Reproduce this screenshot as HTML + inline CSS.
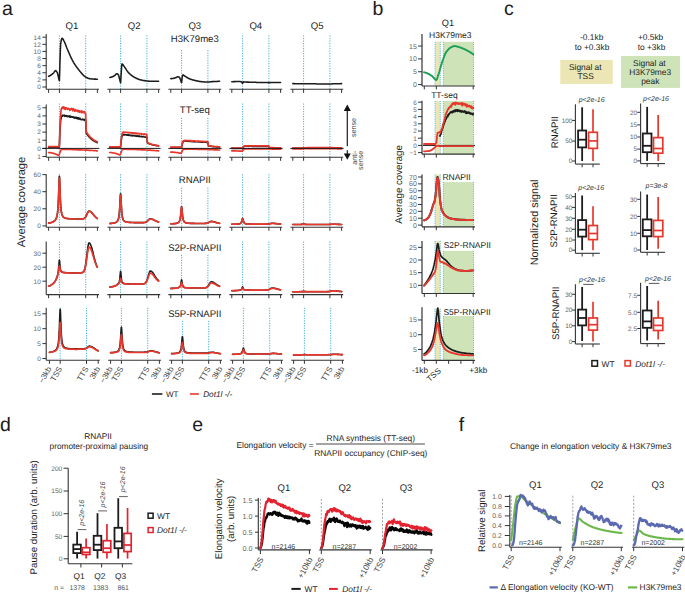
<!DOCTYPE html>
<html><head><meta charset="utf-8"><style>
html,body{margin:0;padding:0;background:#fff;width:685px;height:592px;overflow:hidden}
svg{display:block}
text{font-family:"Liberation Sans", sans-serif;text-rendering:geometricPrecision}
</style></head><body>
<svg width="685" height="592" viewBox="0 0 685 592" font-family='"Liberation Sans", sans-serif'>
<rect width="685" height="592" fill="#fff"/>
<text x="2" y="14.5" font-size="19.5" fill="#1c1c1c">a</text>
<text x="72" y="28.8" font-size="9.6" fill="#1c1c1c" text-anchor="middle">Q1</text>
<text x="134.2" y="28.8" font-size="9.6" fill="#1c1c1c" text-anchor="middle">Q2</text>
<text x="194.8" y="28.8" font-size="9.6" fill="#1c1c1c" text-anchor="middle">Q3</text>
<text x="255.8" y="28.8" font-size="9.6" fill="#1c1c1c" text-anchor="middle">Q4</text>
<text x="317.1" y="28.8" font-size="9.6" fill="#1c1c1c" text-anchor="middle">Q5</text>
<line x1="46.2" y1="34" x2="46.2" y2="89.3" stroke="#333333" stroke-width="1.1"/>
<line x1="42.4" y1="87" x2="46.2" y2="87" stroke="#333333" stroke-width="1"/>
<text x="40.8" y="89.3" font-size="6.5" fill="#666666" text-anchor="end">0</text>
<line x1="42.4" y1="79.89" x2="46.2" y2="79.89" stroke="#333333" stroke-width="1"/>
<text x="40.8" y="82.19" font-size="6.5" fill="#666666" text-anchor="end">2</text>
<line x1="42.4" y1="72.77" x2="46.2" y2="72.77" stroke="#333333" stroke-width="1"/>
<text x="40.8" y="75.07" font-size="6.5" fill="#666666" text-anchor="end">4</text>
<line x1="42.4" y1="65.66" x2="46.2" y2="65.66" stroke="#333333" stroke-width="1"/>
<text x="40.8" y="67.96" font-size="6.5" fill="#666666" text-anchor="end">6</text>
<line x1="42.4" y1="58.54" x2="46.2" y2="58.54" stroke="#333333" stroke-width="1"/>
<text x="40.8" y="60.84" font-size="6.5" fill="#666666" text-anchor="end">8</text>
<line x1="42.4" y1="51.43" x2="46.2" y2="51.43" stroke="#333333" stroke-width="1"/>
<text x="40.8" y="53.73" font-size="6.5" fill="#666666" text-anchor="end">10</text>
<line x1="42.4" y1="44.32" x2="46.2" y2="44.32" stroke="#333333" stroke-width="1"/>
<text x="40.8" y="46.62" font-size="6.5" fill="#666666" text-anchor="end">12</text>
<line x1="42.4" y1="37.2" x2="46.2" y2="37.2" stroke="#333333" stroke-width="1"/>
<text x="40.8" y="39.5" font-size="6.5" fill="#666666" text-anchor="end">14</text>
<line x1="59.4" y1="35.5" x2="59.4" y2="89.3" stroke="#2ca8d2" stroke-width="0.9" stroke-dasharray="1.2 1.3"/>
<line x1="85.7" y1="35.5" x2="85.7" y2="89.3" stroke="#2ca8d2" stroke-width="0.9" stroke-dasharray="1.2 1.3"/>
<line x1="46.2" y1="89.3" x2="99" y2="89.3" stroke="#333333" stroke-width="1.1"/>
<line x1="48.6" y1="89.3" x2="48.6" y2="92.9" stroke="#333333" stroke-width="1"/>
<line x1="59.4" y1="89.3" x2="59.4" y2="92.9" stroke="#333333" stroke-width="1"/>
<line x1="85.7" y1="89.3" x2="85.7" y2="92.9" stroke="#333333" stroke-width="1"/>
<line x1="97.4" y1="89.3" x2="97.4" y2="92.9" stroke="#333333" stroke-width="1"/>
<line x1="120.6" y1="35.5" x2="120.6" y2="89.3" stroke="#2ca8d2" stroke-width="0.9" stroke-dasharray="1.2 1.3"/>
<line x1="146.9" y1="35.5" x2="146.9" y2="89.3" stroke="#2ca8d2" stroke-width="0.9" stroke-dasharray="1.2 1.3"/>
<line x1="107.4" y1="89.3" x2="160.2" y2="89.3" stroke="#333333" stroke-width="1.1"/>
<line x1="109.8" y1="89.3" x2="109.8" y2="92.9" stroke="#333333" stroke-width="1"/>
<line x1="120.6" y1="89.3" x2="120.6" y2="92.9" stroke="#333333" stroke-width="1"/>
<line x1="146.9" y1="89.3" x2="146.9" y2="92.9" stroke="#333333" stroke-width="1"/>
<line x1="158.6" y1="89.3" x2="158.6" y2="92.9" stroke="#333333" stroke-width="1"/>
<line x1="181.6" y1="50.1" x2="181.6" y2="89.3" stroke="#2ca8d2" stroke-width="0.9" stroke-dasharray="1.2 1.3"/>
<line x1="207.9" y1="50.1" x2="207.9" y2="89.3" stroke="#2ca8d2" stroke-width="0.9" stroke-dasharray="1.2 1.3"/>
<line x1="168.4" y1="89.3" x2="221.2" y2="89.3" stroke="#333333" stroke-width="1.1"/>
<line x1="170.8" y1="89.3" x2="170.8" y2="92.9" stroke="#333333" stroke-width="1"/>
<line x1="181.6" y1="89.3" x2="181.6" y2="92.9" stroke="#333333" stroke-width="1"/>
<line x1="207.9" y1="89.3" x2="207.9" y2="92.9" stroke="#333333" stroke-width="1"/>
<line x1="219.6" y1="89.3" x2="219.6" y2="92.9" stroke="#333333" stroke-width="1"/>
<line x1="242.6" y1="35.5" x2="242.6" y2="89.3" stroke="#2ca8d2" stroke-width="0.9" stroke-dasharray="1.2 1.3"/>
<line x1="268.9" y1="35.5" x2="268.9" y2="89.3" stroke="#2ca8d2" stroke-width="0.9" stroke-dasharray="1.2 1.3"/>
<line x1="229.4" y1="89.3" x2="282.2" y2="89.3" stroke="#333333" stroke-width="1.1"/>
<line x1="231.8" y1="89.3" x2="231.8" y2="92.9" stroke="#333333" stroke-width="1"/>
<line x1="242.6" y1="89.3" x2="242.6" y2="92.9" stroke="#333333" stroke-width="1"/>
<line x1="268.9" y1="89.3" x2="268.9" y2="92.9" stroke="#333333" stroke-width="1"/>
<line x1="280.6" y1="89.3" x2="280.6" y2="92.9" stroke="#333333" stroke-width="1"/>
<line x1="303.6" y1="35.5" x2="303.6" y2="89.3" stroke="#2ca8d2" stroke-width="0.9" stroke-dasharray="1.2 1.3"/>
<line x1="329.9" y1="35.5" x2="329.9" y2="89.3" stroke="#2ca8d2" stroke-width="0.9" stroke-dasharray="1.2 1.3"/>
<line x1="290.4" y1="89.3" x2="343.2" y2="89.3" stroke="#333333" stroke-width="1.1"/>
<line x1="292.8" y1="89.3" x2="292.8" y2="92.9" stroke="#333333" stroke-width="1"/>
<line x1="303.6" y1="89.3" x2="303.6" y2="92.9" stroke="#333333" stroke-width="1"/>
<line x1="329.9" y1="89.3" x2="329.9" y2="92.9" stroke="#333333" stroke-width="1"/>
<line x1="341.6" y1="89.3" x2="341.6" y2="92.9" stroke="#333333" stroke-width="1"/>
<text x="194.8" y="42.2" font-size="9.6" fill="#1c1c1c" text-anchor="middle">H3K79me3</text>
<line x1="46.2" y1="104.5" x2="46.2" y2="157.2" stroke="#333333" stroke-width="1.1"/>
<line x1="42.4" y1="156.53" x2="46.2" y2="156.53" stroke="#333333" stroke-width="1"/>
<text x="40.8" y="158.83" font-size="6.5" fill="#666666" text-anchor="end">1</text>
<line x1="42.4" y1="148.4" x2="46.2" y2="148.4" stroke="#333333" stroke-width="1"/>
<text x="40.8" y="150.7" font-size="6.5" fill="#666666" text-anchor="end">0</text>
<line x1="42.4" y1="140.27" x2="46.2" y2="140.27" stroke="#333333" stroke-width="1"/>
<text x="40.8" y="142.57" font-size="6.5" fill="#666666" text-anchor="end">1</text>
<line x1="42.4" y1="132.14" x2="46.2" y2="132.14" stroke="#333333" stroke-width="1"/>
<text x="40.8" y="134.44" font-size="6.5" fill="#666666" text-anchor="end">2</text>
<line x1="42.4" y1="124.01" x2="46.2" y2="124.01" stroke="#333333" stroke-width="1"/>
<text x="40.8" y="126.31" font-size="6.5" fill="#666666" text-anchor="end">3</text>
<line x1="42.4" y1="115.88" x2="46.2" y2="115.88" stroke="#333333" stroke-width="1"/>
<text x="40.8" y="118.18" font-size="6.5" fill="#666666" text-anchor="end">4</text>
<line x1="42.4" y1="107.75" x2="46.2" y2="107.75" stroke="#333333" stroke-width="1"/>
<text x="40.8" y="110.05" font-size="6.5" fill="#666666" text-anchor="end">5</text>
<line x1="59.4" y1="103.5" x2="59.4" y2="157.2" stroke="#2ca8d2" stroke-width="0.9" stroke-dasharray="1.2 1.3"/>
<line x1="85.7" y1="103.5" x2="85.7" y2="157.2" stroke="#2ca8d2" stroke-width="0.9" stroke-dasharray="1.2 1.3"/>
<line x1="46.2" y1="157.2" x2="99" y2="157.2" stroke="#333333" stroke-width="1.1"/>
<line x1="48.6" y1="157.2" x2="48.6" y2="160.8" stroke="#333333" stroke-width="1"/>
<line x1="59.4" y1="157.2" x2="59.4" y2="160.8" stroke="#333333" stroke-width="1"/>
<line x1="85.7" y1="157.2" x2="85.7" y2="160.8" stroke="#333333" stroke-width="1"/>
<line x1="97.4" y1="157.2" x2="97.4" y2="160.8" stroke="#333333" stroke-width="1"/>
<line x1="120.6" y1="103.5" x2="120.6" y2="157.2" stroke="#2ca8d2" stroke-width="0.9" stroke-dasharray="1.2 1.3"/>
<line x1="146.9" y1="103.5" x2="146.9" y2="157.2" stroke="#2ca8d2" stroke-width="0.9" stroke-dasharray="1.2 1.3"/>
<line x1="107.4" y1="157.2" x2="160.2" y2="157.2" stroke="#333333" stroke-width="1.1"/>
<line x1="109.8" y1="157.2" x2="109.8" y2="160.8" stroke="#333333" stroke-width="1"/>
<line x1="120.6" y1="157.2" x2="120.6" y2="160.8" stroke="#333333" stroke-width="1"/>
<line x1="146.9" y1="157.2" x2="146.9" y2="160.8" stroke="#333333" stroke-width="1"/>
<line x1="158.6" y1="157.2" x2="158.6" y2="160.8" stroke="#333333" stroke-width="1"/>
<line x1="181.6" y1="117.8" x2="181.6" y2="157.2" stroke="#2ca8d2" stroke-width="0.9" stroke-dasharray="1.2 1.3"/>
<line x1="207.9" y1="117.8" x2="207.9" y2="157.2" stroke="#2ca8d2" stroke-width="0.9" stroke-dasharray="1.2 1.3"/>
<line x1="168.4" y1="157.2" x2="221.2" y2="157.2" stroke="#333333" stroke-width="1.1"/>
<line x1="170.8" y1="157.2" x2="170.8" y2="160.8" stroke="#333333" stroke-width="1"/>
<line x1="181.6" y1="157.2" x2="181.6" y2="160.8" stroke="#333333" stroke-width="1"/>
<line x1="207.9" y1="157.2" x2="207.9" y2="160.8" stroke="#333333" stroke-width="1"/>
<line x1="219.6" y1="157.2" x2="219.6" y2="160.8" stroke="#333333" stroke-width="1"/>
<line x1="242.6" y1="103.5" x2="242.6" y2="157.2" stroke="#2ca8d2" stroke-width="0.9" stroke-dasharray="1.2 1.3"/>
<line x1="268.9" y1="103.5" x2="268.9" y2="157.2" stroke="#2ca8d2" stroke-width="0.9" stroke-dasharray="1.2 1.3"/>
<line x1="229.4" y1="157.2" x2="282.2" y2="157.2" stroke="#333333" stroke-width="1.1"/>
<line x1="231.8" y1="157.2" x2="231.8" y2="160.8" stroke="#333333" stroke-width="1"/>
<line x1="242.6" y1="157.2" x2="242.6" y2="160.8" stroke="#333333" stroke-width="1"/>
<line x1="268.9" y1="157.2" x2="268.9" y2="160.8" stroke="#333333" stroke-width="1"/>
<line x1="280.6" y1="157.2" x2="280.6" y2="160.8" stroke="#333333" stroke-width="1"/>
<line x1="303.6" y1="103.5" x2="303.6" y2="157.2" stroke="#2ca8d2" stroke-width="0.9" stroke-dasharray="1.2 1.3"/>
<line x1="329.9" y1="103.5" x2="329.9" y2="157.2" stroke="#2ca8d2" stroke-width="0.9" stroke-dasharray="1.2 1.3"/>
<line x1="290.4" y1="157.2" x2="343.2" y2="157.2" stroke="#333333" stroke-width="1.1"/>
<line x1="292.8" y1="157.2" x2="292.8" y2="160.8" stroke="#333333" stroke-width="1"/>
<line x1="303.6" y1="157.2" x2="303.6" y2="160.8" stroke="#333333" stroke-width="1"/>
<line x1="329.9" y1="157.2" x2="329.9" y2="160.8" stroke="#333333" stroke-width="1"/>
<line x1="341.6" y1="157.2" x2="341.6" y2="160.8" stroke="#333333" stroke-width="1"/>
<text x="194.8" y="112.5" font-size="9.6" fill="#1c1c1c" text-anchor="middle">TT-seq</text>
<line x1="46.2" y1="174.2" x2="46.2" y2="227.2" stroke="#333333" stroke-width="1.1"/>
<line x1="42.4" y1="225.9" x2="46.2" y2="225.9" stroke="#333333" stroke-width="1"/>
<text x="40.8" y="228.2" font-size="6.5" fill="#666666" text-anchor="end">0</text>
<line x1="42.4" y1="208.8" x2="46.2" y2="208.8" stroke="#333333" stroke-width="1"/>
<text x="40.8" y="211.1" font-size="6.5" fill="#666666" text-anchor="end">20</text>
<line x1="42.4" y1="191.7" x2="46.2" y2="191.7" stroke="#333333" stroke-width="1"/>
<text x="40.8" y="194" font-size="6.5" fill="#666666" text-anchor="end">40</text>
<line x1="42.4" y1="174.6" x2="46.2" y2="174.6" stroke="#333333" stroke-width="1"/>
<text x="40.8" y="176.9" font-size="6.5" fill="#666666" text-anchor="end">60</text>
<line x1="59.4" y1="174.2" x2="59.4" y2="227.2" stroke="#2ca8d2" stroke-width="0.9" stroke-dasharray="1.2 1.3"/>
<line x1="85.7" y1="174.2" x2="85.7" y2="227.2" stroke="#2ca8d2" stroke-width="0.9" stroke-dasharray="1.2 1.3"/>
<line x1="46.2" y1="227.2" x2="99" y2="227.2" stroke="#333333" stroke-width="1.1"/>
<line x1="48.6" y1="227.2" x2="48.6" y2="230.8" stroke="#333333" stroke-width="1"/>
<line x1="59.4" y1="227.2" x2="59.4" y2="230.8" stroke="#333333" stroke-width="1"/>
<line x1="85.7" y1="227.2" x2="85.7" y2="230.8" stroke="#333333" stroke-width="1"/>
<line x1="97.4" y1="227.2" x2="97.4" y2="230.8" stroke="#333333" stroke-width="1"/>
<line x1="120.6" y1="174.2" x2="120.6" y2="227.2" stroke="#2ca8d2" stroke-width="0.9" stroke-dasharray="1.2 1.3"/>
<line x1="146.9" y1="174.2" x2="146.9" y2="227.2" stroke="#2ca8d2" stroke-width="0.9" stroke-dasharray="1.2 1.3"/>
<line x1="107.4" y1="227.2" x2="160.2" y2="227.2" stroke="#333333" stroke-width="1.1"/>
<line x1="109.8" y1="227.2" x2="109.8" y2="230.8" stroke="#333333" stroke-width="1"/>
<line x1="120.6" y1="227.2" x2="120.6" y2="230.8" stroke="#333333" stroke-width="1"/>
<line x1="146.9" y1="227.2" x2="146.9" y2="230.8" stroke="#333333" stroke-width="1"/>
<line x1="158.6" y1="227.2" x2="158.6" y2="230.8" stroke="#333333" stroke-width="1"/>
<line x1="181.6" y1="187.8" x2="181.6" y2="227.2" stroke="#2ca8d2" stroke-width="0.9" stroke-dasharray="1.2 1.3"/>
<line x1="207.9" y1="187.8" x2="207.9" y2="227.2" stroke="#2ca8d2" stroke-width="0.9" stroke-dasharray="1.2 1.3"/>
<line x1="168.4" y1="227.2" x2="221.2" y2="227.2" stroke="#333333" stroke-width="1.1"/>
<line x1="170.8" y1="227.2" x2="170.8" y2="230.8" stroke="#333333" stroke-width="1"/>
<line x1="181.6" y1="227.2" x2="181.6" y2="230.8" stroke="#333333" stroke-width="1"/>
<line x1="207.9" y1="227.2" x2="207.9" y2="230.8" stroke="#333333" stroke-width="1"/>
<line x1="219.6" y1="227.2" x2="219.6" y2="230.8" stroke="#333333" stroke-width="1"/>
<line x1="242.6" y1="174.2" x2="242.6" y2="227.2" stroke="#2ca8d2" stroke-width="0.9" stroke-dasharray="1.2 1.3"/>
<line x1="268.9" y1="174.2" x2="268.9" y2="227.2" stroke="#2ca8d2" stroke-width="0.9" stroke-dasharray="1.2 1.3"/>
<line x1="229.4" y1="227.2" x2="282.2" y2="227.2" stroke="#333333" stroke-width="1.1"/>
<line x1="231.8" y1="227.2" x2="231.8" y2="230.8" stroke="#333333" stroke-width="1"/>
<line x1="242.6" y1="227.2" x2="242.6" y2="230.8" stroke="#333333" stroke-width="1"/>
<line x1="268.9" y1="227.2" x2="268.9" y2="230.8" stroke="#333333" stroke-width="1"/>
<line x1="280.6" y1="227.2" x2="280.6" y2="230.8" stroke="#333333" stroke-width="1"/>
<line x1="303.6" y1="174.2" x2="303.6" y2="227.2" stroke="#2ca8d2" stroke-width="0.9" stroke-dasharray="1.2 1.3"/>
<line x1="329.9" y1="174.2" x2="329.9" y2="227.2" stroke="#2ca8d2" stroke-width="0.9" stroke-dasharray="1.2 1.3"/>
<line x1="290.4" y1="227.2" x2="343.2" y2="227.2" stroke="#333333" stroke-width="1.1"/>
<line x1="292.8" y1="227.2" x2="292.8" y2="230.8" stroke="#333333" stroke-width="1"/>
<line x1="303.6" y1="227.2" x2="303.6" y2="230.8" stroke="#333333" stroke-width="1"/>
<line x1="329.9" y1="227.2" x2="329.9" y2="230.8" stroke="#333333" stroke-width="1"/>
<line x1="341.6" y1="227.2" x2="341.6" y2="230.8" stroke="#333333" stroke-width="1"/>
<text x="194.8" y="182.8" font-size="9.6" fill="#1c1c1c" text-anchor="middle">RNAPII</text>
<line x1="46.2" y1="241.6" x2="46.2" y2="294.6" stroke="#333333" stroke-width="1.1"/>
<line x1="42.4" y1="281.2" x2="46.2" y2="281.2" stroke="#333333" stroke-width="1"/>
<text x="40.8" y="283.5" font-size="6.5" fill="#666666" text-anchor="end">10</text>
<line x1="42.4" y1="267.2" x2="46.2" y2="267.2" stroke="#333333" stroke-width="1"/>
<text x="40.8" y="269.5" font-size="6.5" fill="#666666" text-anchor="end">20</text>
<line x1="42.4" y1="253.2" x2="46.2" y2="253.2" stroke="#333333" stroke-width="1"/>
<text x="40.8" y="255.5" font-size="6.5" fill="#666666" text-anchor="end">30</text>
<line x1="59.4" y1="241.6" x2="59.4" y2="294.6" stroke="#2ca8d2" stroke-width="0.9" stroke-dasharray="1.2 1.3"/>
<line x1="85.7" y1="241.6" x2="85.7" y2="294.6" stroke="#2ca8d2" stroke-width="0.9" stroke-dasharray="1.2 1.3"/>
<line x1="46.2" y1="294.6" x2="99" y2="294.6" stroke="#333333" stroke-width="1.1"/>
<line x1="48.6" y1="294.6" x2="48.6" y2="298.2" stroke="#333333" stroke-width="1"/>
<line x1="59.4" y1="294.6" x2="59.4" y2="298.2" stroke="#333333" stroke-width="1"/>
<line x1="85.7" y1="294.6" x2="85.7" y2="298.2" stroke="#333333" stroke-width="1"/>
<line x1="97.4" y1="294.6" x2="97.4" y2="298.2" stroke="#333333" stroke-width="1"/>
<line x1="120.6" y1="241.6" x2="120.6" y2="294.6" stroke="#2ca8d2" stroke-width="0.9" stroke-dasharray="1.2 1.3"/>
<line x1="146.9" y1="241.6" x2="146.9" y2="294.6" stroke="#2ca8d2" stroke-width="0.9" stroke-dasharray="1.2 1.3"/>
<line x1="107.4" y1="294.6" x2="160.2" y2="294.6" stroke="#333333" stroke-width="1.1"/>
<line x1="109.8" y1="294.6" x2="109.8" y2="298.2" stroke="#333333" stroke-width="1"/>
<line x1="120.6" y1="294.6" x2="120.6" y2="298.2" stroke="#333333" stroke-width="1"/>
<line x1="146.9" y1="294.6" x2="146.9" y2="298.2" stroke="#333333" stroke-width="1"/>
<line x1="158.6" y1="294.6" x2="158.6" y2="298.2" stroke="#333333" stroke-width="1"/>
<line x1="181.6" y1="254.8" x2="181.6" y2="294.6" stroke="#2ca8d2" stroke-width="0.9" stroke-dasharray="1.2 1.3"/>
<line x1="207.9" y1="254.8" x2="207.9" y2="294.6" stroke="#2ca8d2" stroke-width="0.9" stroke-dasharray="1.2 1.3"/>
<line x1="168.4" y1="294.6" x2="221.2" y2="294.6" stroke="#333333" stroke-width="1.1"/>
<line x1="170.8" y1="294.6" x2="170.8" y2="298.2" stroke="#333333" stroke-width="1"/>
<line x1="181.6" y1="294.6" x2="181.6" y2="298.2" stroke="#333333" stroke-width="1"/>
<line x1="207.9" y1="294.6" x2="207.9" y2="298.2" stroke="#333333" stroke-width="1"/>
<line x1="219.6" y1="294.6" x2="219.6" y2="298.2" stroke="#333333" stroke-width="1"/>
<line x1="242.6" y1="241.6" x2="242.6" y2="294.6" stroke="#2ca8d2" stroke-width="0.9" stroke-dasharray="1.2 1.3"/>
<line x1="268.9" y1="241.6" x2="268.9" y2="294.6" stroke="#2ca8d2" stroke-width="0.9" stroke-dasharray="1.2 1.3"/>
<line x1="229.4" y1="294.6" x2="282.2" y2="294.6" stroke="#333333" stroke-width="1.1"/>
<line x1="231.8" y1="294.6" x2="231.8" y2="298.2" stroke="#333333" stroke-width="1"/>
<line x1="242.6" y1="294.6" x2="242.6" y2="298.2" stroke="#333333" stroke-width="1"/>
<line x1="268.9" y1="294.6" x2="268.9" y2="298.2" stroke="#333333" stroke-width="1"/>
<line x1="280.6" y1="294.6" x2="280.6" y2="298.2" stroke="#333333" stroke-width="1"/>
<line x1="303.6" y1="241.6" x2="303.6" y2="294.6" stroke="#2ca8d2" stroke-width="0.9" stroke-dasharray="1.2 1.3"/>
<line x1="329.9" y1="241.6" x2="329.9" y2="294.6" stroke="#2ca8d2" stroke-width="0.9" stroke-dasharray="1.2 1.3"/>
<line x1="290.4" y1="294.6" x2="343.2" y2="294.6" stroke="#333333" stroke-width="1.1"/>
<line x1="292.8" y1="294.6" x2="292.8" y2="298.2" stroke="#333333" stroke-width="1"/>
<line x1="303.6" y1="294.6" x2="303.6" y2="298.2" stroke="#333333" stroke-width="1"/>
<line x1="329.9" y1="294.6" x2="329.9" y2="298.2" stroke="#333333" stroke-width="1"/>
<line x1="341.6" y1="294.6" x2="341.6" y2="298.2" stroke="#333333" stroke-width="1"/>
<text x="194.8" y="251" font-size="9.6" fill="#1c1c1c" text-anchor="middle">S2P-RNAPII</text>
<line x1="46.2" y1="307.7" x2="46.2" y2="360.2" stroke="#333333" stroke-width="1.1"/>
<line x1="42.4" y1="358.5" x2="46.2" y2="358.5" stroke="#333333" stroke-width="1"/>
<text x="40.8" y="360.8" font-size="6.5" fill="#666666" text-anchor="end">0</text>
<line x1="42.4" y1="343.6" x2="46.2" y2="343.6" stroke="#333333" stroke-width="1"/>
<text x="40.8" y="345.9" font-size="6.5" fill="#666666" text-anchor="end">5</text>
<line x1="42.4" y1="328.7" x2="46.2" y2="328.7" stroke="#333333" stroke-width="1"/>
<text x="40.8" y="331" font-size="6.5" fill="#666666" text-anchor="end">10</text>
<line x1="42.4" y1="313.8" x2="46.2" y2="313.8" stroke="#333333" stroke-width="1"/>
<text x="40.8" y="316.1" font-size="6.5" fill="#666666" text-anchor="end">15</text>
<line x1="60.2" y1="307.7" x2="60.2" y2="360.2" stroke="#2ca8d2" stroke-width="0.9" stroke-dasharray="1.2 1.3"/>
<line x1="86.5" y1="307.7" x2="86.5" y2="360.2" stroke="#2ca8d2" stroke-width="0.9" stroke-dasharray="1.2 1.3"/>
<line x1="46.2" y1="360.2" x2="99.8" y2="360.2" stroke="#333333" stroke-width="1.1"/>
<line x1="49.4" y1="360.2" x2="49.4" y2="363.8" stroke="#333333" stroke-width="1"/>
<line x1="60.2" y1="360.2" x2="60.2" y2="363.8" stroke="#333333" stroke-width="1"/>
<line x1="86.5" y1="360.2" x2="86.5" y2="363.8" stroke="#333333" stroke-width="1"/>
<line x1="98.2" y1="360.2" x2="98.2" y2="363.8" stroke="#333333" stroke-width="1"/>
<line x1="121.4" y1="307.7" x2="121.4" y2="360.2" stroke="#2ca8d2" stroke-width="0.9" stroke-dasharray="1.2 1.3"/>
<line x1="147.7" y1="307.7" x2="147.7" y2="360.2" stroke="#2ca8d2" stroke-width="0.9" stroke-dasharray="1.2 1.3"/>
<line x1="108.2" y1="360.2" x2="161" y2="360.2" stroke="#333333" stroke-width="1.1"/>
<line x1="110.6" y1="360.2" x2="110.6" y2="363.8" stroke="#333333" stroke-width="1"/>
<line x1="121.4" y1="360.2" x2="121.4" y2="363.8" stroke="#333333" stroke-width="1"/>
<line x1="147.7" y1="360.2" x2="147.7" y2="363.8" stroke="#333333" stroke-width="1"/>
<line x1="159.4" y1="360.2" x2="159.4" y2="363.8" stroke="#333333" stroke-width="1"/>
<line x1="182.4" y1="321.1" x2="182.4" y2="360.2" stroke="#2ca8d2" stroke-width="0.9" stroke-dasharray="1.2 1.3"/>
<line x1="208.7" y1="321.1" x2="208.7" y2="360.2" stroke="#2ca8d2" stroke-width="0.9" stroke-dasharray="1.2 1.3"/>
<line x1="169.2" y1="360.2" x2="222" y2="360.2" stroke="#333333" stroke-width="1.1"/>
<line x1="171.6" y1="360.2" x2="171.6" y2="363.8" stroke="#333333" stroke-width="1"/>
<line x1="182.4" y1="360.2" x2="182.4" y2="363.8" stroke="#333333" stroke-width="1"/>
<line x1="208.7" y1="360.2" x2="208.7" y2="363.8" stroke="#333333" stroke-width="1"/>
<line x1="220.4" y1="360.2" x2="220.4" y2="363.8" stroke="#333333" stroke-width="1"/>
<line x1="243.4" y1="307.7" x2="243.4" y2="360.2" stroke="#2ca8d2" stroke-width="0.9" stroke-dasharray="1.2 1.3"/>
<line x1="269.7" y1="307.7" x2="269.7" y2="360.2" stroke="#2ca8d2" stroke-width="0.9" stroke-dasharray="1.2 1.3"/>
<line x1="230.2" y1="360.2" x2="283" y2="360.2" stroke="#333333" stroke-width="1.1"/>
<line x1="232.6" y1="360.2" x2="232.6" y2="363.8" stroke="#333333" stroke-width="1"/>
<line x1="243.4" y1="360.2" x2="243.4" y2="363.8" stroke="#333333" stroke-width="1"/>
<line x1="269.7" y1="360.2" x2="269.7" y2="363.8" stroke="#333333" stroke-width="1"/>
<line x1="281.4" y1="360.2" x2="281.4" y2="363.8" stroke="#333333" stroke-width="1"/>
<line x1="304.4" y1="307.7" x2="304.4" y2="360.2" stroke="#2ca8d2" stroke-width="0.9" stroke-dasharray="1.2 1.3"/>
<line x1="330.7" y1="307.7" x2="330.7" y2="360.2" stroke="#2ca8d2" stroke-width="0.9" stroke-dasharray="1.2 1.3"/>
<line x1="291.2" y1="360.2" x2="344" y2="360.2" stroke="#333333" stroke-width="1.1"/>
<line x1="293.6" y1="360.2" x2="293.6" y2="363.8" stroke="#333333" stroke-width="1"/>
<line x1="304.4" y1="360.2" x2="304.4" y2="363.8" stroke="#333333" stroke-width="1"/>
<line x1="330.7" y1="360.2" x2="330.7" y2="363.8" stroke="#333333" stroke-width="1"/>
<line x1="342.4" y1="360.2" x2="342.4" y2="363.8" stroke="#333333" stroke-width="1"/>
<text x="194.8" y="316.7" font-size="9.6" fill="#1c1c1c" text-anchor="middle">S5P-RNAPII</text>
<path d="M48.6,76.3 48.9,76.2 49.2,76.1 49.5,75.9 49.8,75.8 50.1,75.6 50.4,75.4 50.7,75.2 51,75 51.3,74.8 51.6,74.6 51.9,74.4 52.2,74.1 52.5,73.9 52.8,73.6 53.1,73.4 53.4,73.1 53.7,72.8 54,72.4 54.3,71.9 54.6,71.5 54.9,71.1 55.2,70.8 55.5,70.6 55.6,70.6 55.8,70.7 56.1,70.9 56.4,71.2 56.7,71.6 57,72.1 57.2,72.4 57.3,72.6 57.6,73.5 57.9,74.7 58.2,76.1 58.5,77.4 58.6,77.8 58.8,78.6 59.1,80 59.4,80.6 59.7,71.9 59.9,63.9 60,60.9 60.3,51.5 60.6,44.7 60.7,43.6 60.9,42.3 61.2,40.7 61.5,39.5 61.8,38.7 62.1,38.3 62.2,38.3 62.4,38.3 62.7,38.6 63,39 63.3,39.6 63.6,40.2 63.9,40.8 64.2,41.3 64.5,42 64.8,42.7 65.1,43.4 65.4,44.1 65.7,44.9 66,45.7 66.3,46.5 66.6,47.3 66.9,48.1 67.2,48.8 67.4,49.3 67.5,49.5 67.8,50.2 68.1,50.9 68.4,51.6 68.7,52.3 69,53 69.3,53.7 69.6,54.3 69.9,55 70.2,55.7 70.5,56.4 70.8,57 71.1,57.7 71.4,58.3 71.7,58.9 72,59.5 72.3,60.1 72.6,60.7 72.9,61.2 73.2,61.8 73.4,62.1 73.5,62.3 73.8,62.8 74.1,63.3 74.4,63.8 74.7,64.2 75,64.7 75.3,65.2 75.6,65.6 75.9,66 76.2,66.5 76.5,66.9 76.8,67.3 77.1,67.7 77.4,68.1 77.7,68.5 78,68.9 78.3,69.3 78.6,69.7 78.9,70 79.2,70.4 79.4,70.6 79.5,70.8 79.8,71.1 80.1,71.5 80.4,71.8 80.7,72.2 81,72.5 81.3,72.9 81.6,73.2 81.9,73.6 82.2,73.9 82.5,74.3 82.8,74.6 83.1,74.9 83.4,75.2 83.7,75.5 84,75.8 84.3,76 84.6,76.3 84.9,76.5 85.2,76.7 85.5,76.9 85.7,77 85.8,77.1 86.1,77.3 86.4,77.4 86.7,77.6 87,77.8 87.3,77.9 87.6,78.1 87.9,78.2 88.2,78.3 88.5,78.4 88.8,78.5 89.1,78.6 89.4,78.6 89.7,78.7 90,78.7 90.3,78.7 90.6,78.8 90.9,78.8 91.2,78.8 91.5,78.9 91.8,78.9 92.1,78.9 92.4,79 92.7,79 93,79 93.3,79 93.6,79 93.9,79.1 94.2,79.1 94.5,79.1 94.8,79.1 95.1,79.1 95.4,79.1 95.7,79.1 96,79.2 96.3,79.2 96.6,79.2 96.9,79.2 97.2,79.2 97.4,79.2" fill="none" stroke="#1c1c1c" stroke-width="1.55" stroke-linejoin="round" stroke-linecap="round"/>
<path d="M109.8,77.4 110.1,77.4 110.4,77.3 110.7,77.3 111,77.2 111.3,77.2 111.6,77.1 111.9,76.9 112.2,76.8 112.5,76.7 112.8,76.6 113.1,76.4 113.4,76.3 113.7,76.1 114,75.9 114.3,75.8 114.6,75.6 114.9,75.4 115.2,75.1 115.5,74.7 115.8,74.4 116.1,74 116.4,73.8 116.7,73.7 116.8,73.7 117,73.7 117.3,73.8 117.6,74 117.9,74.3 118.2,74.7 118.4,74.9 118.5,75.1 118.8,75.9 119.1,77 119.4,78.3 119.7,79.5 119.8,79.9 120,80.7 120.3,82.1 120.6,82.7 120.9,78.4 121.1,74.6 121.2,73.1 121.5,68.4 121.8,64.7 122,63.9 122.1,63.9 122.4,64.1 122.7,64.4 123,64.8 123.3,65.3 123.6,65.7 123.9,66 124.2,66.4 124.5,66.9 124.8,67.3 125.1,67.8 125.4,68.2 125.7,68.7 126,69.2 126.3,69.7 126.6,70.1 126.9,70.6 127.2,71 127.5,71.4 127.8,71.8 128.1,72.2 128.4,72.6 128.6,72.8 128.7,72.9 129,73.2 129.3,73.5 129.6,73.7 129.9,74 130.2,74.3 130.5,74.5 130.8,74.8 131.1,75 131.4,75.3 131.7,75.5 132,75.7 132.3,76 132.6,76.2 132.9,76.4 133.2,76.6 133.5,76.8 133.8,76.9 134.1,77.1 134.4,77.3 134.6,77.4 134.7,77.4 135,77.6 135.3,77.8 135.6,77.9 135.9,78.1 136.2,78.2 136.5,78.4 136.8,78.5 137.1,78.6 137.4,78.8 137.7,78.9 138,79 138.3,79.2 138.6,79.3 138.9,79.4 139.2,79.5 139.5,79.6 139.8,79.7 140.1,79.8 140.4,79.8 140.6,79.9 140.7,79.9 141,80 141.3,80 141.6,80.1 141.9,80.2 142.2,80.2 142.5,80.3 142.8,80.4 143.1,80.4 143.4,80.5 143.7,80.5 144,80.6 144.3,80.6 144.6,80.6 144.9,80.7 145.2,80.7 145.5,80.8 145.8,80.8 146.1,80.9 146.4,80.9 146.7,80.9 146.9,81 147,81 147.3,81 147.6,81 147.9,81.1 148.2,81.1 148.5,81.2 148.8,81.2 149.1,81.2 149.4,81.3 149.7,81.3 150,81.3 150.3,81.3 150.6,81.3 150.9,81.3 151.2,81.3 151.5,81.3 151.8,81.3 152.1,81.3 152.4,81.3 152.7,81.3 153,81.3 153.3,81.3 153.6,81.3 153.9,81.3 154.2,81.3 154.5,81.3 154.8,81.3 155.1,81.3 155.4,81.3 155.7,81.3 156,81.3 156.3,81.3 156.6,81.3 156.9,81.3 157.2,81.3 157.5,81.3 157.8,81.3 158.1,81.3 158.4,81.3 158.6,81.3" fill="none" stroke="#1c1c1c" stroke-width="1.55" stroke-linejoin="round" stroke-linecap="round"/>
<path d="M170.8,78.6 171.1,78.6 171.4,78.6 171.7,78.6 172,78.6 172.3,78.5 172.6,78.5 172.9,78.4 173.2,78.4 173.5,78.3 173.8,78.2 174.1,78.2 174.4,78.1 174.7,78 175,77.9 175.3,77.8 175.6,77.8 175.9,77.6 176.2,77.5 176.5,77.3 176.8,77.1 177.1,76.9 177.4,76.8 177.7,76.7 177.8,76.7 178,76.7 178.3,76.8 178.6,76.9 178.9,77.1 179.2,77.2 179.4,77.4 179.5,77.5 179.8,78 180.1,78.7 180.4,79.5 180.7,80.3 180.8,80.6 181,81.2 181.3,82.2 181.6,82.7 181.9,79.9 182.1,77.8 182.2,77.3 182.5,75.9 182.8,75.1 183,74.9 183.1,74.9 183.4,75 183.7,75.2 184,75.5 184.3,75.8 184.6,76 184.9,76.2 185.2,76.4 185.5,76.5 185.8,76.7 186.1,76.9 186.4,77.1 186.7,77.3 187,77.5 187.3,77.7 187.6,77.8 187.9,78 188.2,78.2 188.5,78.3 188.8,78.5 189.1,78.6 189.4,78.7 189.6,78.8 189.7,78.9 190,79 190.3,79.1 190.6,79.2 190.9,79.3 191.2,79.4 191.5,79.5 191.8,79.6 192.1,79.7 192.4,79.8 192.7,79.9 193,80 193.3,80 193.6,80.1 193.9,80.2 194.2,80.3 194.5,80.3 194.8,80.4 195.1,80.5 195.4,80.6 195.6,80.6 195.7,80.6 196,80.7 196.3,80.8 196.6,80.8 196.9,80.9 197.2,80.9 197.5,81 197.8,81.1 198.1,81.1 198.4,81.2 198.7,81.3 199,81.3 199.3,81.4 199.6,81.4 199.9,81.5 200.2,81.5 200.5,81.5 200.8,81.6 201.1,81.6 201.4,81.6 201.6,81.7 201.7,81.7 202,81.7 202.3,81.7 202.6,81.7 202.9,81.8 203.2,81.8 203.5,81.8 203.8,81.8 204.1,81.9 204.4,81.9 204.7,81.9 205,81.9 205.3,81.9 205.6,82 205.9,82 206.2,82 206.5,82 206.8,82 207.1,82 207.4,82 207.7,82 207.9,82 208,82 208.3,82 208.6,82 208.9,82 209.2,81.9 209.5,81.9 209.8,81.9 210.1,81.8 210.4,81.8 210.7,81.8 211,81.7 211.3,81.7 211.6,81.7 211.9,81.6 212.2,81.6 212.5,81.6 212.8,81.6 213.1,81.6 213.4,81.6 213.7,81.5 214,81.5 214.3,81.5 214.6,81.5 214.9,81.5 215.2,81.5 215.5,81.4 215.8,81.4 216.1,81.4 216.4,81.4 216.7,81.4 217,81.4 217.3,81.4 217.6,81.4 217.9,81.3 218.2,81.3 218.5,81.3 218.8,81.3 219.1,81.3 219.4,81.3 219.6,81.3" fill="none" stroke="#1c1c1c" stroke-width="1.55" stroke-linejoin="round" stroke-linecap="round"/>
<path d="M231.8,81.8 232.1,81.8 232.4,81.8 232.7,81.7 233,81.7 233.3,81.7 233.6,81.6 233.9,81.6 234.2,81.6 234.5,81.6 234.8,81.6 235.1,81.6 235.4,81.5 235.7,81.5 236,81.5 236.3,81.5 236.6,81.5 236.9,81.5 237.2,81.5 237.5,81.5 237.8,81.5 238.1,81.5 238.4,81.5 238.7,81.5 239,81.5 239.3,81.5 239.6,81.5 239.9,81.5 240.2,81.5 240.5,81.6 240.8,81.7 241.1,81.8 241.4,81.9 241.6,82 241.7,82.1 242,82.6 242.3,83.2 242.6,83.4 242.9,82.9 243.2,82.1 243.4,81.8 243.5,81.8 243.8,81.9 244.1,81.9 244.4,81.9 244.7,81.9 245,82 245.3,82 245.6,82 245.9,82 246.2,82 246.5,82.1 246.8,82.1 247.1,82.1 247.4,82.1 247.7,82.1 248,82.1 248.3,82.1 248.6,82.1 248.9,82.2 249.2,82.2 249.5,82.2 249.8,82.2 250.1,82.2 250.4,82.2 250.7,82.2 251,82.2 251.3,82.2 251.6,82.2 251.9,82.2 252.2,82.3 252.5,82.3 252.8,82.3 253.1,82.3 253.4,82.3 253.7,82.3 254,82.3 254.3,82.3 254.6,82.3 254.9,82.3 255.2,82.3 255.5,82.3 255.8,82.3 256.1,82.3 256.4,82.4 256.7,82.4 257,82.4 257.3,82.4 257.6,82.4 257.9,82.4 258.2,82.4 258.5,82.4 258.8,82.4 259.1,82.4 259.4,82.4 259.7,82.4 260,82.4 260.3,82.4 260.6,82.4 260.9,82.4 261.2,82.5 261.5,82.5 261.8,82.5 262.1,82.5 262.4,82.5 262.7,82.5 263,82.5 263.3,82.5 263.6,82.5 263.9,82.5 264.2,82.5 264.5,82.5 264.8,82.5 265.1,82.5 265.4,82.5 265.7,82.5 266,82.5 266.3,82.5 266.6,82.5 266.9,82.5 267.2,82.5 267.5,82.5 267.8,82.6 268.1,82.6 268.4,82.6 268.7,82.6 268.9,82.6 269,82.6 269.3,82.6 269.6,82.6 269.9,82.6 270.2,82.6 270.5,82.6 270.8,82.5 271.1,82.5 271.4,82.5 271.7,82.5 272,82.5 272.3,82.5 272.6,82.5 272.9,82.5 273.2,82.5 273.5,82.5 273.8,82.5 274.1,82.5 274.4,82.5 274.7,82.5 275,82.5 275.3,82.5 275.6,82.5 275.9,82.5 276.2,82.5 276.5,82.5 276.8,82.5 277.1,82.5 277.4,82.5 277.7,82.5 278,82.4 278.3,82.4 278.6,82.4 278.9,82.4 279.2,82.4 279.5,82.4 279.8,82.4 280.1,82.4 280.4,82.4 280.6,82.4" fill="none" stroke="#1c1c1c" stroke-width="1.55" stroke-linejoin="round" stroke-linecap="round"/>
<path d="M292.8,83.6 293.1,83.6 293.4,83.6 293.7,83.6 294,83.6 294.3,83.7 294.6,83.7 294.9,83.7 295.2,83.7 295.5,83.7 295.8,83.7 296.1,83.7 296.4,83.7 296.7,83.7 297,83.7 297.3,83.7 297.6,83.7 297.9,83.7 298.2,83.7 298.5,83.7 298.8,83.7 299.1,83.7 299.4,83.8 299.7,83.8 300,83.8 300.3,83.8 300.6,83.8 300.9,83.8 301.2,83.8 301.5,83.8 301.8,83.8 302.1,83.8 302.4,83.8 302.7,83.8 303,83.8 303.3,83.8 303.6,83.8 303.9,83.8 304.2,83.8 304.5,83.8 304.8,83.8 305.1,83.8 305.4,83.8 305.7,83.8 306,83.8 306.3,83.8 306.6,83.8 306.9,83.8 307.2,83.8 307.5,83.8 307.8,83.8 308.1,83.8 308.4,83.8 308.7,83.8 309,83.8 309.3,83.8 309.6,83.8 309.9,83.8 310.2,83.8 310.5,83.8 310.8,83.8 311.1,83.8 311.4,83.8 311.7,83.8 312,83.8 312.3,83.8 312.6,83.8 312.9,83.8 313.2,83.8 313.5,83.8 313.8,83.8 314.1,83.8 314.4,83.8 314.7,83.8 315,83.8 315.3,83.8 315.6,83.8 315.9,83.8 316.2,83.8 316.5,83.9 316.8,83.9 317.1,83.9 317.4,83.9 317.7,83.9 318,83.9 318.3,83.9 318.6,83.9 318.9,83.9 319.2,83.9 319.5,83.9 319.8,83.9 320.1,83.9 320.4,83.9 320.7,83.9 321,83.9 321.3,83.9 321.6,83.9 321.9,83.9 322.2,83.9 322.5,83.9 322.8,83.9 323.1,83.9 323.4,83.9 323.7,83.9 324,83.9 324.3,83.9 324.6,83.9 324.9,83.9 325.2,83.9 325.5,83.9 325.8,83.9 326.1,83.9 326.4,83.9 326.7,83.9 327,83.9 327.3,83.9 327.6,83.9 327.9,83.9 328.2,83.9 328.5,83.9 328.8,83.9 329.1,83.9 329.4,83.9 329.7,83.9 329.9,83.9 330,83.9 330.3,83.9 330.6,83.9 330.9,83.9 331.2,83.9 331.5,83.9 331.8,83.9 332.1,83.9 332.4,83.9 332.7,83.8 333,83.8 333.3,83.8 333.6,83.8 333.9,83.8 334.2,83.8 334.5,83.8 334.8,83.8 335.1,83.8 335.4,83.8 335.7,83.8 336,83.8 336.3,83.8 336.6,83.8 336.9,83.8 337.2,83.7 337.5,83.7 337.8,83.7 338.1,83.7 338.4,83.7 338.7,83.7 339,83.7 339.3,83.7 339.6,83.7 339.9,83.7 340.2,83.7 340.5,83.7 340.8,83.6 341.1,83.6 341.4,83.6 341.6,83.6" fill="none" stroke="#1c1c1c" stroke-width="1.55" stroke-linejoin="round" stroke-linecap="round"/>
<path d="M48.6,152.5 48.8,152.5 49.1,152.5 49.3,152.5 49.6,152.6 49.8,152.6 50.1,152.6 50.3,152.7 50.6,152.7 50.8,152.8 51.1,152.8 51.3,152.9 51.6,152.9 51.8,153 52.1,153 52.3,153.1 52.6,153.1 52.8,153.2 53.1,153.3 53.3,153.3 53.6,153.4 53.8,153.5 54.1,153.5 54.3,153.6 54.6,153.7 54.8,153.7 55.1,153.8 55.3,153.9 55.6,154 55.8,154.1 56.1,154.2 56.3,154.3 56.6,154.4 56.8,154.6 57.1,154.7 57.3,154.9 57.6,155 57.8,155.1 58.1,155.2 58.3,155.3 58.6,155.3 58.8,155.3 59.1,155 59.3,154.3 59.6,153.5 59.8,152.7 60.1,152.1 60.3,151.4 60.6,150.7 60.8,150.1 61.1,149.6 61.3,149.4 61.6,149.4 61.8,149.4 62.1,149.4 62.3,149.4 62.6,149.4 62.8,149.4 63.1,149.4 63.3,149.4 63.6,149.4 63.8,149.4 64.1,149.4 64.3,149.4 64.6,149.4 64.8,149.4 65.1,149.4 65.3,149.4 65.6,149.4 65.8,149.4 66.1,149.4 66.3,149.4 66.6,149.4 66.8,149.4 67.1,149.4 67.3,149.4 67.6,149.4 67.8,149.4 68.1,149.5 68.3,149.5 68.6,149.5 68.8,149.5 69.1,149.5 69.3,149.5 69.6,149.5 69.8,149.5 70.1,149.5 70.3,149.5 70.6,149.5 70.8,149.5 71.1,149.5 71.3,149.5 71.6,149.5 71.8,149.6 72.1,149.6 72.3,149.6 72.6,149.6 72.8,149.6 73.1,149.6 73.3,149.6 73.6,149.6 73.8,149.6 74.1,149.6 74.3,149.6 74.6,149.6 74.8,149.7 75.1,149.7 75.3,149.7 75.6,149.7 75.8,149.7 76.1,149.7 76.3,149.7 76.6,149.7 76.8,149.7 77.1,149.7 77.3,149.8 77.6,149.8 77.8,149.8 78.1,149.8 78.3,149.8 78.6,149.8 78.8,149.8 79.1,149.8 79.3,149.8 79.6,149.8 79.8,149.9 80.1,149.9 80.3,149.9 80.6,149.9 80.8,149.9 81.1,149.9 81.3,149.9 81.6,149.9 81.8,149.9 82.1,150 82.3,150 82.6,150 82.8,150 83.1,150 83.3,150 83.6,150 83.8,150 84.1,150 84.3,150 84.6,150.1 84.8,150.1 85.1,150.1 85.3,150.1 85.6,150.1 85.8,150.1 86.1,150.1 86.3,150.1 86.6,150.1 86.8,150.2 87.1,150.2 87.3,150.2 87.6,150.2 87.8,150.2 88.1,150.2 88.3,150.2 88.6,150.2 88.8,150.3 89.1,150.3 89.3,150.3 89.6,150.3 89.8,150.3 90.1,150.3 90.3,150.4 90.6,150.4 90.8,150.4 91.1,150.4 91.3,150.4 91.6,150.4 91.8,150.4 92.1,150.5 92.3,150.5 92.6,150.5 92.8,150.5 93.1,150.5 93.3,150.5 93.6,150.6 93.8,150.6 94.1,150.6 94.3,150.6 94.6,150.6 94.8,150.7 95.1,150.7 95.3,150.7 95.6,150.7 95.8,150.7 96.1,150.7 96.3,150.8 96.6,150.8 96.8,150.8 97.1,150.8 97.3,150.8" fill="none" stroke="#e8382d" stroke-width="1.7" stroke-linejoin="round" stroke-linecap="round"/>
<path d="M48.6,147.2 48.8,147.2 49.1,147.2 49.3,147.2 49.6,147.2 49.8,147.2 50.1,147.2 50.3,147.2 50.6,147.2 50.8,147.2 51.1,147.2 51.3,147.2 51.6,147.2 51.8,147.2 52.1,147.2 52.3,147.2 52.6,147.2 52.8,147.2 53.1,147.2 53.3,147.2 53.6,147.2 53.8,147.2 54.1,147.2 54.3,147.2 54.6,147.2 54.8,147.2 55.1,147.2 55.3,147.2 55.6,147.2 55.8,147.2 56.1,147.2 56.3,147.2 56.6,147.2 56.8,147.2 57.1,147.2 57.3,147.2 57.6,147.2 57.8,147.2 58.1,147.2 58.3,147.2 58.6,147.2 58.8,147.2 59.1,147.2 59.3,147.2 59.6,141.4 59.8,134.7 60.1,129 60.3,125.3 60.6,121.3 60.8,119.4 61.1,118.4 61.3,116.7 61.6,116.4 61.8,116 62.1,115.3 62.3,116.2 62.6,115.8 62.8,115.5 63.1,115.2 63.3,115.6 63.6,115.7 63.8,115.8 64.1,115.5 64.3,115.2 64.6,116.1 64.8,116.4 65.1,115.8 65.3,115.8 65.6,116.1 65.8,115.5 66.1,115.5 66.3,116.1 66.6,116.1 66.8,115.8 67.1,116.2 67.3,116.7 67.6,116.2 67.8,116.6 68.1,116.1 68.3,116.5 68.6,116.4 68.8,116.2 69.1,116.5 69.3,116.8 69.6,117 69.8,115.9 70.1,116.2 70.3,117.3 70.6,117.2 70.8,116.6 71.1,117.1 71.3,116.9 71.6,116.7 71.8,117 72.1,117.1 72.3,117.3 72.6,117.2 72.8,117.1 73.1,116.6 73.3,116.9 73.6,117.5 73.8,117.1 74.1,117.5 74.3,118.2 74.6,117.7 74.8,117.3 75.1,118 75.3,117.4 75.6,118 75.8,117.9 76.1,118.4 76.3,117.2 76.6,117.9 76.8,117.7 77.1,118.3 77.3,118.8 77.6,117.8 77.8,118.6 78.1,117.7 78.3,118.5 78.6,117.8 78.8,118.8 79.1,119.3 79.3,118.3 79.6,118.7 79.8,118.7 80.1,118.4 80.3,119.2 80.6,119.4 80.8,119.4 81.1,119.7 81.3,119.8 81.6,119.6 81.8,119.5 82.1,119.4 82.3,119.7 82.6,119.4 82.8,119.1 83.1,119.5 83.3,119.3 83.6,119.9 83.8,119.5 84.1,119.4 84.3,119.9 84.6,120.4 84.8,119.9 85.1,119.9 85.3,119.4 85.6,120.1 85.8,123.7 86.1,130.2 86.3,133.2 86.6,133.6 86.8,134 87.1,134.4 87.3,134.7 87.6,135.1 87.8,135.4 88.1,135.7 88.3,136 88.6,136.3 88.8,136.6 89.1,136.9 89.3,137.2 89.6,137.5 89.8,137.7 90.1,138 90.3,138.2 90.6,138.5 90.8,138.7 91.1,138.9 91.3,139.1 91.6,139.3 91.8,139.5 92.1,139.7 92.3,139.9 92.6,140.1 92.8,140.3 93.1,140.4 93.3,140.6 93.6,140.8 93.8,140.9 94.1,141.1 94.3,141.2 94.6,141.4 94.8,141.5 95.1,141.6 95.3,141.8 95.6,141.9 95.8,142 96.1,142.1 96.3,142.3 96.6,142.4 96.8,142.5 97.1,142.6 97.3,142.7" fill="none" stroke="#1c1c1c" stroke-width="1.6" stroke-linejoin="round" stroke-linecap="round"/>
<path d="M48.6,146.6 48.8,146.6 49.1,146.6 49.3,146.6 49.6,146.6 49.8,146.6 50.1,146.6 50.3,146.6 50.6,146.6 50.8,146.6 51.1,146.6 51.3,146.6 51.6,146.6 51.8,146.6 52.1,146.6 52.3,146.6 52.6,146.6 52.8,146.6 53.1,146.6 53.3,146.6 53.6,146.6 53.8,146.6 54.1,146.6 54.3,146.6 54.6,146.6 54.8,146.6 55.1,146.6 55.3,146.6 55.6,146.6 55.8,146.6 56.1,146.6 56.3,146.6 56.6,146.6 56.8,146.6 57.1,146.6 57.3,146.6 57.6,146.6 57.8,146.6 58.1,146.6 58.3,146.6 58.6,146.6 58.8,146.6 59.1,146.6 59.3,146.6 59.6,139.5 59.8,131.4 60.1,124.8 60.3,118.7 60.6,116.2 60.8,112.9 61.1,110.5 61.3,109.1 61.6,108.7 61.8,107.7 62.1,107.7 62.3,108.2 62.6,107 62.8,107.8 63.1,108.4 63.3,107.4 63.6,106.8 63.8,107.2 64.1,107.3 64.3,107.7 64.6,109.1 64.8,107.6 65.1,107.9 65.3,109.3 65.6,108.4 65.8,108.6 66.1,107.7 66.3,108.2 66.6,108.1 66.8,108.2 67.1,109.1 67.3,109.4 67.6,108.5 67.8,108.7 68.1,108.6 68.3,108.8 68.6,109 68.8,108.5 69.1,108.8 69.3,109.2 69.6,109.9 69.8,110.3 70.1,109.8 70.3,109.2 70.6,108.8 70.8,109.5 71.1,109 71.3,108.8 71.6,108.3 71.8,109.3 72.1,108.8 72.3,109.5 72.6,110.3 72.8,110.8 73.1,109.6 73.3,109.4 73.6,108.7 73.8,110.3 74.1,109.8 74.3,110.1 74.6,111.3 74.8,110 75.1,110.4 75.3,110.9 75.6,109.5 75.8,110.7 76.1,110.2 76.3,110.6 76.6,110.9 76.8,110.7 77.1,110.3 77.3,111.1 77.6,111.6 77.8,110 78.1,110.7 78.3,111.4 78.6,111.1 78.8,111.8 79.1,111.2 79.3,110.8 79.6,112.2 79.8,110.9 80.1,111 80.3,111.5 80.6,111.4 80.8,111.7 81.1,111.8 81.3,112.6 81.6,110.9 81.8,112.1 82.1,111.7 82.3,112 82.6,111.7 82.8,111.7 83.1,112.5 83.3,111.9 83.6,112.3 83.8,112.6 84.1,111.6 84.3,111.7 84.6,112.8 84.8,112.6 85.1,113 85.3,113.1 85.6,113.1 85.8,118.1 86.1,127.5 86.3,131.7 86.6,132.1 86.8,132.5 87.1,132.9 87.3,133.3 87.6,133.6 87.8,134 88.1,134.3 88.3,134.7 88.6,135 88.8,135.3 89.1,135.6 89.3,135.9 89.6,136.2 89.8,136.5 90.1,136.8 90.3,137 90.6,137.3 90.8,137.5 91.1,137.8 91.3,138 91.6,138.2 91.8,138.4 92.1,138.6 92.3,138.8 92.6,139 92.8,139.2 93.1,139.4 93.3,139.6 93.6,139.8 93.8,139.9 94.1,140.1 94.3,140.3 94.6,140.4 94.8,140.6 95.1,140.7 95.3,140.8 95.6,141 95.8,141.1 96.1,141.2 96.3,141.3 96.6,141.5 96.8,141.6 97.1,141.7 97.3,141.8" fill="none" stroke="#e8382d" stroke-width="1.7" stroke-linejoin="round" stroke-linecap="round"/>
<line x1="42.3" y1="148.4" x2="99.4" y2="148.4" stroke="#1c1c1c" stroke-width="1"/>
<path d="M109.8,152.5 110,152.5 110.3,152.5 110.5,152.5 110.8,152.5 111,152.6 111.3,152.6 111.5,152.6 111.8,152.7 112,152.7 112.3,152.8 112.5,152.8 112.8,152.8 113,152.9 113.3,152.9 113.5,153 113.8,153 114,153.1 114.3,153.1 114.5,153.2 114.8,153.3 115,153.3 115.3,153.4 115.5,153.4 115.8,153.5 116,153.5 116.3,153.6 116.5,153.7 116.8,153.7 117,153.8 117.3,153.9 117.5,154 117.8,154.2 118,154.3 118.3,154.4 118.5,154.5 118.8,154.6 119,154.7 119.3,154.8 119.5,154.9 119.8,154.9 120,154.9 120.3,154.6 120.5,154 120.8,153.2 121,152.4 121.3,151.8 121.5,151.2 121.8,150.5 122,149.9 122.3,149.4 122.5,149.2 122.8,149.2 123,149.2 123.3,149.2 123.5,149.2 123.8,149.2 124,149.2 124.3,149.2 124.5,149.2 124.8,149.2 125,149.2 125.3,149.2 125.5,149.2 125.8,149.2 126,149.2 126.3,149.2 126.5,149.2 126.8,149.2 127,149.3 127.3,149.3 127.5,149.3 127.8,149.3 128,149.3 128.3,149.3 128.5,149.3 128.8,149.3 129,149.3 129.3,149.3 129.5,149.3 129.8,149.3 130,149.3 130.3,149.3 130.5,149.3 130.8,149.3 131,149.3 131.3,149.4 131.5,149.4 131.8,149.4 132,149.4 132.3,149.4 132.5,149.4 132.8,149.4 133,149.4 133.3,149.4 133.5,149.4 133.8,149.4 134,149.5 134.3,149.5 134.5,149.5 134.8,149.5 135,149.5 135.3,149.5 135.5,149.5 135.8,149.5 136,149.5 136.3,149.5 136.5,149.5 136.8,149.6 137,149.6 137.3,149.6 137.5,149.6 137.8,149.6 138,149.6 138.3,149.6 138.5,149.6 138.8,149.6 139,149.7 139.3,149.7 139.5,149.7 139.8,149.7 140,149.7 140.3,149.7 140.5,149.7 140.8,149.7 141,149.7 141.3,149.8 141.5,149.8 141.8,149.8 142,149.8 142.3,149.8 142.5,149.8 142.8,149.8 143,149.8 143.3,149.9 143.5,149.9 143.8,149.9 144,149.9 144.3,149.9 144.5,149.9 144.8,149.9 145,149.9 145.3,150 145.5,150 145.8,150 146,150 146.3,150 146.5,150 146.8,150 147,150 147.3,150 147.5,150.1 147.8,150.1 148,150.1 148.3,150.1 148.5,150.1 148.8,150.1 149,150.1 149.3,150.2 149.5,150.2 149.8,150.2 150,150.2 150.3,150.2 150.5,150.2 150.8,150.2 151,150.3 151.3,150.3 151.5,150.3 151.8,150.3 152,150.3 152.3,150.4 152.5,150.4 152.8,150.4 153.1,150.4 153.3,150.4 153.6,150.4 153.8,150.5 154.1,150.5 154.3,150.5 154.6,150.5 154.8,150.5 155.1,150.6 155.3,150.6 155.6,150.6 155.8,150.6 156.1,150.6 156.3,150.7 156.6,150.7 156.8,150.7 157.1,150.7 157.3,150.7 157.6,150.8 157.8,150.8 158.1,150.8 158.3,150.8 158.6,150.8" fill="none" stroke="#e8382d" stroke-width="1.7" stroke-linejoin="round" stroke-linecap="round"/>
<path d="M109.8,147.4 110,147.4 110.3,147.4 110.5,147.4 110.8,147.4 111,147.4 111.3,147.4 111.5,147.4 111.8,147.4 112,147.4 112.3,147.4 112.5,147.4 112.8,147.4 113,147.4 113.3,147.4 113.5,147.4 113.8,147.4 114,147.4 114.3,147.4 114.5,147.4 114.8,147.4 115,147.4 115.3,147.4 115.5,147.4 115.8,147.4 116,147.4 116.3,147.4 116.5,147.4 116.8,147.4 117,147.4 117.3,147.4 117.5,147.4 117.8,147.4 118,147.4 118.3,147.4 118.5,147.4 118.8,147.4 119,147.4 119.3,147.4 119.5,147.4 119.8,147.4 120,147.4 120.3,147.4 120.5,147.4 120.8,145.1 121,142.4 121.3,140.5 121.5,138.4 121.8,137.1 122,136.4 122.3,135.5 122.5,135.2 122.8,134.9 123,134.8 123.3,134.6 123.5,134.9 123.8,134.6 124,134.6 124.3,135 124.5,134.6 124.8,134.8 125,134.6 125.3,134.8 125.5,134.8 125.8,134.8 126,135 126.3,134.8 126.5,134.9 126.8,134.9 127,135.1 127.3,134.8 127.5,134.9 127.8,135.1 128,135 128.3,134.9 128.5,134.8 128.8,135.4 129,135 129.3,135.1 129.5,135.3 129.8,135.4 130,135.1 130.3,135.5 130.5,135.3 130.8,135.2 131,135.7 131.3,135.5 131.5,135.7 131.8,135.5 132,135.3 132.3,135.2 132.5,135.9 132.8,135.7 133,135.5 133.3,135.4 133.5,135.6 133.8,135.8 134,135.7 134.3,135.8 134.5,135.8 134.8,136 135,135.8 135.3,135.8 135.5,135.9 135.8,136 136,136.2 136.3,136.1 136.5,135.8 136.8,136.1 137,136.3 137.3,135.9 137.5,136 137.8,135.8 138,136.2 138.3,136.3 138.5,136.5 138.8,136.1 139,135.9 139.3,136.5 139.5,136.5 139.8,136.3 140,136.6 140.3,136.5 140.5,136.5 140.8,136.5 141,136.3 141.3,136.6 141.5,136.4 141.8,136.7 142,136.6 142.3,137 142.5,136.9 142.8,136.6 143,136.8 143.3,136.7 143.5,136.7 143.8,136.6 144,136.7 144.3,136.7 144.5,136.9 144.8,137.1 145,137.1 145.3,137.1 145.5,137.2 145.8,137.1 146,137.1 146.3,137.1 146.5,137.2 146.8,137.5 147,138.9 147.3,141.8 147.5,143 147.8,143.2 148,143.3 148.3,143.4 148.5,143.5 148.8,143.6 149,143.7 149.3,143.8 149.5,143.9 149.8,144 150,144.1 150.3,144.1 150.5,144.2 150.8,144.3 151,144.4 151.3,144.5 151.5,144.5 151.8,144.6 152,144.7 152.3,144.7 152.5,144.8 152.8,144.9 153.1,144.9 153.3,145 153.6,145 153.8,145.1 154.1,145.1 154.3,145.2 154.6,145.3 154.8,145.3 155.1,145.3 155.3,145.4 155.6,145.4 155.8,145.5 156.1,145.5 156.3,145.6 156.6,145.6 156.8,145.6 157.1,145.7 157.3,145.7 157.6,145.7 157.8,145.8 158.1,145.8 158.3,145.8 158.6,145.9" fill="none" stroke="#1c1c1c" stroke-width="1.6" stroke-linejoin="round" stroke-linecap="round"/>
<path d="M109.8,146.8 110,146.8 110.3,146.8 110.5,146.8 110.8,146.8 111,146.8 111.3,146.8 111.5,146.8 111.8,146.8 112,146.8 112.3,146.8 112.5,146.8 112.8,146.8 113,146.8 113.3,146.8 113.5,146.8 113.8,146.8 114,146.8 114.3,146.8 114.5,146.8 114.8,146.8 115,146.8 115.3,146.8 115.5,146.8 115.8,146.8 116,146.8 116.3,146.8 116.5,146.8 116.8,146.8 117,146.8 117.3,146.8 117.5,146.8 117.8,146.8 118,146.8 118.3,146.8 118.5,146.8 118.8,146.8 119,146.8 119.3,146.8 119.5,146.8 119.8,146.8 120,146.8 120.3,146.8 120.5,146.8 120.8,144.1 121,141.1 121.3,138.8 121.5,136.6 121.8,135.1 122,134.1 122.3,133.5 122.5,132.7 122.8,132.4 123,132.7 123.3,132.1 123.5,132.6 123.8,132.4 124,132.3 124.3,132.2 124.5,132.5 124.8,132.4 125,132.3 125.3,132.4 125.5,132.5 125.8,132.2 126,132.2 126.3,132.4 126.5,132.4 126.8,132.5 127,132.6 127.3,132.6 127.5,132.7 127.8,132.4 128,132.6 128.3,132.6 128.5,132.6 128.8,132.5 129,132.4 129.3,132.8 129.5,132.8 129.8,132.7 130,132.9 130.3,132.5 130.5,132.6 130.8,132.7 131,132.9 131.3,132.7 131.5,132.7 131.8,132.8 132,133 132.3,133.3 132.5,132.8 132.8,133.1 133,133.2 133.3,132.9 133.5,133 133.8,133.4 134,133.2 134.3,133.2 134.5,133 134.8,133.6 135,133.3 135.3,133.3 135.5,133 135.8,133.5 136,133.9 136.3,133.7 136.5,133.4 136.8,133.3 137,133.1 137.3,133.4 137.5,133.7 137.8,133.4 138,133.6 138.3,133.6 138.5,133.6 138.8,133.4 139,133.8 139.3,133.9 139.5,133.7 139.8,133.7 140,133.9 140.3,133.9 140.5,133.7 140.8,133.6 141,133.7 141.3,133.7 141.5,133.7 141.8,134.3 142,134.2 142.3,134.1 142.5,134.2 142.8,134.2 143,134 143.3,134.3 143.5,134.2 143.8,134.5 144,134.3 144.3,133.9 144.5,134.3 144.8,134.1 145,134.1 145.3,134.4 145.5,134.2 145.8,134.3 146,134.2 146.3,134.5 146.5,134.7 146.8,134.6 147,136.8 147.3,140.9 147.5,142.6 147.8,142.8 148,142.9 148.3,143 148.5,143.1 148.8,143.2 149,143.3 149.3,143.5 149.5,143.6 149.8,143.7 150,143.7 150.3,143.8 150.5,143.9 150.8,144 151,144.1 151.3,144.2 151.5,144.3 151.8,144.3 152,144.4 152.3,144.5 152.5,144.5 152.8,144.6 153.1,144.7 153.3,144.7 153.6,144.8 153.8,144.9 154.1,144.9 154.3,145 154.6,145 154.8,145.1 155.1,145.1 155.3,145.2 155.6,145.2 155.8,145.3 156.1,145.3 156.3,145.4 156.6,145.4 156.8,145.4 157.1,145.5 157.3,145.5 157.6,145.6 157.8,145.6 158.1,145.6 158.3,145.7 158.6,145.7" fill="none" stroke="#e8382d" stroke-width="1.7" stroke-linejoin="round" stroke-linecap="round"/>
<line x1="107.4" y1="148.4" x2="160.6" y2="148.4" stroke="#1c1c1c" stroke-width="1"/>
<path d="M170.8,152.1 171,152.1 171.3,152.1 171.5,152.1 171.8,152.1 172,152.1 172.3,152.1 172.5,152.1 172.8,152.2 173,152.2 173.3,152.2 173.5,152.2 173.8,152.2 174,152.3 174.3,152.3 174.5,152.3 174.8,152.3 175,152.4 175.3,152.4 175.5,152.4 175.8,152.5 176,152.5 176.3,152.5 176.5,152.5 176.8,152.6 177,152.6 177.3,152.6 177.5,152.7 177.8,152.7 178,152.7 178.3,152.8 178.5,152.8 178.8,152.9 179,153 179.3,153 179.5,153.1 179.8,153.1 180,153.2 180.3,153.2 180.5,153.3 180.8,153.3 181,153.3 181.3,153 181.5,152.6 181.8,152 182,151.4 182.3,151 182.5,150.5 182.8,150 183,149.6 183.3,149.2 183.5,149.1 183.8,149.1 184,149.1 184.3,149.1 184.5,149.1 184.8,149.1 185,149.1 185.3,149.1 185.5,149.1 185.8,149.1 186,149.1 186.3,149.1 186.5,149.1 186.8,149.1 187,149.1 187.3,149.1 187.5,149.1 187.8,149.1 188,149.1 188.3,149.1 188.5,149.1 188.8,149.1 189,149.1 189.3,149.1 189.5,149.1 189.8,149.1 190,149.1 190.3,149.1 190.5,149.1 190.8,149.1 191,149.1 191.3,149.1 191.5,149.1 191.8,149.1 192,149.1 192.3,149.1 192.5,149.1 192.8,149.1 193,149.2 193.3,149.2 193.5,149.2 193.8,149.2 194,149.2 194.3,149.2 194.5,149.2 194.8,149.2 195,149.2 195.3,149.2 195.5,149.2 195.8,149.2 196,149.2 196.3,149.2 196.5,149.2 196.8,149.2 197,149.2 197.3,149.2 197.5,149.3 197.8,149.3 198,149.3 198.3,149.3 198.5,149.3 198.8,149.3 199,149.3 199.3,149.3 199.5,149.3 199.8,149.3 200,149.3 200.3,149.3 200.5,149.3 200.8,149.3 201,149.3 201.3,149.4 201.5,149.4 201.8,149.4 202,149.4 202.3,149.4 202.5,149.4 202.8,149.4 203,149.4 203.3,149.4 203.5,149.4 203.8,149.4 204,149.4 204.3,149.4 204.5,149.4 204.8,149.4 205,149.5 205.3,149.5 205.5,149.5 205.8,149.5 206,149.5 206.3,149.5 206.5,149.5 206.8,149.5 207,149.5 207.3,149.5 207.5,149.5 207.8,149.5 208,149.5 208.3,149.5 208.5,149.6 208.8,149.6 209,149.6 209.3,149.6 209.5,149.6 209.8,149.6 210,149.6 210.3,149.6 210.5,149.6 210.8,149.6 211,149.6 211.3,149.7 211.5,149.7 211.8,149.7 212,149.7 212.3,149.7 212.5,149.7 212.8,149.7 213,149.7 213.3,149.7 213.5,149.7 213.8,149.8 214.1,149.8 214.3,149.8 214.6,149.8 214.8,149.8 215.1,149.8 215.3,149.8 215.6,149.8 215.8,149.8 216.1,149.9 216.3,149.9 216.6,149.9 216.8,149.9 217.1,149.9 217.3,149.9 217.6,149.9 217.8,149.9 218.1,150 218.3,150 218.6,150 218.8,150 219.1,150 219.3,150 219.6,150" fill="none" stroke="#e8382d" stroke-width="1.7" stroke-linejoin="round" stroke-linecap="round"/>
<path d="M170.8,147.6 171,147.6 171.3,147.6 171.5,147.6 171.8,147.6 172,147.6 172.3,147.6 172.5,147.6 172.8,147.6 173,147.6 173.3,147.6 173.5,147.6 173.8,147.6 174,147.6 174.3,147.6 174.5,147.6 174.8,147.6 175,147.6 175.3,147.6 175.5,147.6 175.8,147.6 176,147.6 176.3,147.6 176.5,147.6 176.8,147.6 177,147.6 177.3,147.6 177.5,147.6 177.8,147.6 178,147.6 178.3,147.6 178.5,147.6 178.8,147.6 179,147.6 179.3,147.6 179.5,147.6 179.8,147.6 180,147.6 180.3,147.6 180.5,147.6 180.8,147.6 181,147.6 181.3,147.6 181.5,147.6 181.8,146.4 182,145.1 182.3,144 182.5,143.2 182.8,142.4 183,141.9 183.3,141.7 183.5,141.4 183.8,141.2 184,141.3 184.3,141.1 184.5,141 184.8,141 185,141 185.3,141 185.5,140.9 185.8,141.1 186,141.2 186.3,141.1 186.5,141.3 186.8,141.3 187,141.3 187.3,141.2 187.5,141.2 187.8,141.4 188,141.4 188.3,141.3 188.5,141.3 188.8,141.3 189,141.3 189.3,141.2 189.5,141.3 189.8,141.3 190,141.5 190.3,141.5 190.5,141.4 190.8,141.4 191,141.4 191.3,141.4 191.5,141.4 191.8,141.4 192,141.7 192.3,141.6 192.5,141.5 192.8,141.5 193,141.7 193.3,141.5 193.5,141.6 193.8,141.6 194,141.6 194.3,141.6 194.5,141.8 194.8,141.6 195,141.7 195.3,141.7 195.5,141.7 195.8,141.9 196,141.8 196.3,141.7 196.5,141.8 196.8,141.8 197,141.8 197.3,141.8 197.5,141.7 197.8,141.8 198,141.9 198.3,141.8 198.5,141.7 198.8,141.9 199,141.8 199.3,142 199.5,141.8 199.8,141.9 200,141.8 200.3,142 200.5,142.1 200.8,141.9 201,141.9 201.3,142.1 201.5,142.2 201.8,142 202,142.1 202.3,141.8 202.5,142.1 202.8,142.1 203,142.1 203.3,142.3 203.5,142.2 203.8,142 204,142.2 204.3,142.2 204.5,142.3 204.8,142.2 205,142.2 205.3,142.2 205.5,142.3 205.8,142.2 206,142.2 206.3,142.4 206.5,142.3 206.8,142.5 207,142.4 207.3,142.4 207.5,142.4 207.8,142.5 208,143.4 208.3,145.1 208.5,145.9 208.8,145.9 209,146 209.3,146 209.5,146 209.8,146.1 210,146.1 210.3,146.2 210.5,146.2 210.8,146.3 211,146.3 211.3,146.3 211.5,146.4 211.8,146.4 212,146.4 212.3,146.5 212.5,146.5 212.8,146.5 213,146.6 213.3,146.6 213.5,146.6 213.8,146.6 214.1,146.7 214.3,146.7 214.6,146.7 214.8,146.7 215.1,146.8 215.3,146.8 215.6,146.8 215.8,146.8 216.1,146.8 216.3,146.9 216.6,146.9 216.8,146.9 217.1,146.9 217.3,146.9 217.6,147 217.8,147 218.1,147 218.3,147 218.6,147 218.8,147 219.1,147 219.3,147.1 219.6,147.1" fill="none" stroke="#1c1c1c" stroke-width="1.6" stroke-linejoin="round" stroke-linecap="round"/>
<path d="M170.8,147.2 171,147.2 171.3,147.2 171.5,147.2 171.8,147.2 172,147.2 172.3,147.2 172.5,147.2 172.8,147.2 173,147.2 173.3,147.2 173.5,147.2 173.8,147.2 174,147.2 174.3,147.2 174.5,147.2 174.8,147.2 175,147.2 175.3,147.2 175.5,147.2 175.8,147.2 176,147.2 176.3,147.2 176.5,147.2 176.8,147.2 177,147.2 177.3,147.2 177.5,147.2 177.8,147.2 178,147.2 178.3,147.2 178.5,147.2 178.8,147.2 179,147.2 179.3,147.2 179.5,147.2 179.8,147.2 180,147.2 180.3,147.2 180.5,147.2 180.8,147.2 181,147.2 181.3,147.2 181.5,147.2 181.8,146 182,144.6 182.3,143.3 182.5,142.3 182.8,141.6 183,141.3 183.3,140.9 183.5,140.8 183.8,140.6 184,140.5 184.3,140.7 184.5,140.5 184.8,140.4 185,140.7 185.3,140.6 185.5,140.3 185.8,140.6 186,140.6 186.3,140.5 186.5,140.6 186.8,140.6 187,140.6 187.3,140.6 187.5,140.7 187.8,140.6 188,140.5 188.3,140.6 188.5,140.5 188.8,140.6 189,140.6 189.3,140.6 189.5,140.7 189.8,140.7 190,140.7 190.3,140.9 190.5,140.7 190.8,140.7 191,140.8 191.3,140.9 191.5,141.1 191.8,140.7 192,140.9 192.3,141.1 192.5,140.8 192.8,141 193,140.8 193.3,140.9 193.5,140.8 193.8,140.9 194,140.9 194.3,141 194.5,140.9 194.8,141.1 195,140.9 195.3,141 195.5,141.1 195.8,141.1 196,141.1 196.3,141.1 196.5,141 196.8,141.2 197,141.1 197.3,141.1 197.5,141.1 197.8,141 198,141.2 198.3,141.1 198.5,141 198.8,141.2 199,141.3 199.3,141.3 199.5,141.2 199.8,141.3 200,141.3 200.3,141.5 200.5,141.4 200.8,141.4 201,141.5 201.3,141.4 201.5,141.3 201.8,141.4 202,141.5 202.3,141.4 202.5,141.4 202.8,141.6 203,141.4 203.3,141.6 203.5,141.6 203.8,141.6 204,141.4 204.3,141.6 204.5,141.6 204.8,141.5 205,141.5 205.3,141.5 205.5,141.7 205.8,141.5 206,141.6 206.3,141.5 206.5,141.6 206.8,141.7 207,141.7 207.3,141.7 207.5,141.7 207.8,141.6 208,142.9 208.3,144.9 208.5,145.7 208.8,145.7 209,145.8 209.3,145.8 209.5,145.9 209.8,145.9 210,145.9 210.3,146 210.5,146 210.8,146.1 211,146.1 211.3,146.1 211.5,146.2 211.8,146.2 212,146.2 212.3,146.3 212.5,146.3 212.8,146.3 213,146.3 213.3,146.4 213.5,146.4 213.8,146.4 214.1,146.5 214.3,146.5 214.6,146.5 214.8,146.5 215.1,146.5 215.3,146.6 215.6,146.6 215.8,146.6 216.1,146.6 216.3,146.6 216.6,146.7 216.8,146.7 217.1,146.7 217.3,146.7 217.6,146.7 217.8,146.7 218.1,146.8 218.3,146.8 218.6,146.8 218.8,146.8 219.1,146.8 219.3,146.8 219.6,146.8" fill="none" stroke="#e8382d" stroke-width="1.7" stroke-linejoin="round" stroke-linecap="round"/>
<line x1="168.4" y1="148.4" x2="221.6" y2="148.4" stroke="#1c1c1c" stroke-width="1"/>
<path d="M231.8,150.8 232,150.8 232.3,150.8 232.5,150.8 232.8,150.9 233,150.9 233.3,150.9 233.5,150.9 233.8,150.9 234,150.9 234.3,150.9 234.5,150.9 234.8,150.9 235,150.9 235.3,150.9 235.5,150.9 235.8,150.9 236,150.9 236.3,151 236.5,151 236.8,151 237,151 237.3,151 237.5,151 237.8,151 238,151 238.3,151 238.5,151 238.8,151.1 239,151.1 239.3,151.1 239.5,151.1 239.8,151.1 240,151.1 240.3,151.2 240.5,151.2 240.8,151.2 241,151.2 241.3,151.2 241.5,151.2 241.8,151.2 242,151.2 242.3,151.1 242.5,150.8 242.8,150.5 243,150.2 243.3,149.9 243.5,149.7 243.8,149.4 244,149.1 244.3,148.9 244.5,148.8 244.8,148.8 245,148.8 245.3,148.8 245.5,148.8 245.8,148.8 246,148.8 246.3,148.8 246.5,148.8 246.8,148.8 247,148.8 247.3,148.8 247.5,148.8 247.8,148.8 248,148.8 248.3,148.8 248.5,148.8 248.8,148.8 249,148.8 249.3,148.8 249.5,148.8 249.8,148.8 250,148.8 250.3,148.8 250.5,148.8 250.8,148.8 251,148.8 251.3,148.8 251.5,148.8 251.8,148.8 252,148.8 252.3,148.8 252.5,148.8 252.8,148.8 253,148.8 253.3,148.8 253.5,148.8 253.8,148.8 254,148.8 254.3,148.9 254.5,148.9 254.8,148.9 255,148.9 255.3,148.9 255.5,148.9 255.8,148.9 256.1,148.9 256.3,148.9 256.6,148.9 256.8,148.9 257.1,148.9 257.3,148.9 257.6,148.9 257.8,148.9 258.1,148.9 258.3,148.9 258.6,148.9 258.8,148.9 259.1,148.9 259.3,148.9 259.6,148.9 259.8,148.9 260.1,148.9 260.3,148.9 260.6,148.9 260.8,148.9 261.1,148.9 261.3,148.9 261.6,148.9 261.8,148.9 262.1,148.9 262.3,148.9 262.6,148.9 262.8,148.9 263.1,148.9 263.3,148.9 263.6,148.9 263.8,148.9 264.1,149 264.3,149 264.6,149 264.8,149 265.1,149 265.3,149 265.6,149 265.8,149 266.1,149 266.3,149 266.6,149 266.8,149 267.1,149 267.3,149 267.6,149 267.8,149 268.1,149 268.3,149 268.6,149 268.8,149 269.1,149 269.3,149 269.6,149 269.8,149 270.1,149 270.3,149 270.6,149 270.8,149 271.1,149 271.3,149 271.6,149 271.8,149 272.1,149.1 272.3,149.1 272.6,149.1 272.8,149.1 273.1,149.1 273.3,149.1 273.6,149.1 273.8,149.1 274.1,149.1 274.3,149.1 274.6,149.1 274.8,149.1 275.1,149.1 275.3,149.1 275.6,149.1 275.8,149.1 276.1,149.1 276.3,149.1 276.6,149.1 276.8,149.1 277.1,149.1 277.3,149.1 277.6,149.2 277.8,149.2 278.1,149.2 278.3,149.2 278.6,149.2 278.8,149.2 279.1,149.2 279.3,149.2 279.6,149.2 279.8,149.2 280.1,149.2 280.3,149.2 280.6,149.2" fill="none" stroke="#e8382d" stroke-width="1.7" stroke-linejoin="round" stroke-linecap="round"/>
<path d="M231.8,148.4 232,148.4 232.3,148.4 232.5,148.4 232.8,148.4 233,148.4 233.3,148.4 233.5,148.4 233.8,148.4 234,148.4 234.3,148.4 234.5,148.4 234.8,148.4 235,148.4 235.3,148.4 235.5,148.4 235.8,148.4 236,148.4 236.3,148.4 236.5,148.4 236.8,148.4 237,148.4 237.3,148.4 237.5,148.4 237.8,148.4 238,148.4 238.3,148.4 238.5,148.4 238.8,148.4 239,148.4 239.3,148.4 239.5,148.4 239.8,148.4 240,148.4 240.3,148.4 240.5,148.4 240.8,148.4 241,148.4 241.3,148.4 241.5,148.4 241.8,148.4 242,148.4 242.3,148.4 242.5,148.4 242.8,148 243,147.6 243.3,147.2 243.5,146.9 243.8,146.7 244,146.5 244.3,146.5 244.5,146.4 244.8,146.4 245,146.3 245.3,146.3 245.5,146.3 245.8,146.3 246,146.3 246.3,146.3 246.5,146.3 246.8,146.3 247,146.3 247.3,146.3 247.5,146.3 247.8,146.3 248,146.3 248.3,146.3 248.5,146.4 248.8,146.3 249,146.3 249.3,146.3 249.5,146.3 249.8,146.3 250,146.3 250.3,146.3 250.5,146.3 250.8,146.3 251,146.3 251.3,146.3 251.5,146.3 251.8,146.3 252,146.4 252.3,146.4 252.5,146.3 252.8,146.3 253,146.4 253.3,146.4 253.5,146.3 253.8,146.4 254,146.4 254.3,146.3 254.5,146.3 254.8,146.3 255,146.4 255.3,146.3 255.5,146.3 255.8,146.4 256.1,146.4 256.3,146.4 256.6,146.4 256.8,146.3 257.1,146.3 257.3,146.4 257.6,146.4 257.8,146.4 258.1,146.4 258.3,146.3 258.6,146.4 258.8,146.4 259.1,146.4 259.3,146.4 259.6,146.4 259.8,146.4 260.1,146.4 260.3,146.4 260.6,146.4 260.8,146.4 261.1,146.4 261.3,146.4 261.6,146.4 261.8,146.4 262.1,146.4 262.3,146.3 262.6,146.4 262.8,146.4 263.1,146.4 263.3,146.4 263.6,146.4 263.8,146.4 264.1,146.4 264.3,146.5 264.6,146.4 264.8,146.4 265.1,146.4 265.3,146.4 265.6,146.4 265.8,146.4 266.1,146.4 266.3,146.4 266.6,146.5 266.8,146.4 267.1,146.4 267.3,146.4 267.6,146.4 267.8,146.4 268.1,146.4 268.3,146.4 268.6,146.4 268.8,146.5 269.1,146.8 269.3,147.4 269.6,147.6 269.8,147.7 270.1,147.7 270.3,147.7 270.6,147.7 270.8,147.7 271.1,147.7 271.3,147.8 271.6,147.8 271.8,147.8 272.1,147.8 272.3,147.8 272.6,147.8 272.8,147.9 273.1,147.9 273.3,147.9 273.6,147.9 273.8,147.9 274.1,147.9 274.3,147.9 274.6,147.9 274.8,147.9 275.1,148 275.3,148 275.6,148 275.8,148 276.1,148 276.3,148 276.6,148 276.8,148 277.1,148 277.3,148 277.6,148 277.8,148 278.1,148.1 278.3,148.1 278.6,148.1 278.8,148.1 279.1,148.1 279.3,148.1 279.6,148.1 279.8,148.1 280.1,148.1 280.3,148.1 280.6,148.1" fill="none" stroke="#1c1c1c" stroke-width="1.6" stroke-linejoin="round" stroke-linecap="round"/>
<path d="M231.8,148 232,148 232.3,148 232.5,148 232.8,148 233,148 233.3,148 233.5,148 233.8,148 234,148 234.3,148 234.5,148 234.8,148 235,148 235.3,148 235.5,148 235.8,148 236,148 236.3,148 236.5,148 236.8,148 237,148 237.3,148 237.5,148 237.8,148 238,148 238.3,148 238.5,148 238.8,148 239,148 239.3,148 239.5,148 239.8,148 240,148 240.3,148 240.5,148 240.8,148 241,148 241.3,148 241.5,148 241.8,148 242,148 242.3,148 242.5,148 242.8,147.6 243,147.1 243.3,146.8 243.5,146.5 243.8,146.2 244,146.1 244.3,146 244.5,145.9 244.8,145.9 245,145.9 245.3,145.9 245.5,145.8 245.8,145.8 246,145.8 246.3,145.8 246.5,145.8 246.8,145.8 247,145.8 247.3,145.8 247.5,145.8 247.8,145.8 248,145.8 248.3,145.7 248.5,145.8 248.8,145.8 249,145.9 249.3,145.9 249.5,145.9 249.8,145.8 250,145.9 250.3,145.9 250.5,145.8 250.8,145.9 251,145.8 251.3,145.9 251.5,145.8 251.8,145.8 252,145.9 252.3,145.9 252.5,145.9 252.8,145.8 253,145.9 253.3,145.8 253.5,145.8 253.8,145.8 254,145.9 254.3,145.8 254.5,145.8 254.8,145.9 255,145.9 255.3,145.9 255.5,145.9 255.8,145.9 256.1,145.9 256.3,145.9 256.6,145.9 256.8,145.9 257.1,145.9 257.3,145.8 257.6,145.9 257.8,145.9 258.1,145.9 258.3,145.9 258.6,145.9 258.8,145.9 259.1,145.9 259.3,145.9 259.6,145.9 259.8,145.9 260.1,145.8 260.3,145.9 260.6,145.8 260.8,145.9 261.1,145.9 261.3,145.9 261.6,145.9 261.8,145.9 262.1,145.9 262.3,145.9 262.6,145.9 262.8,145.9 263.1,145.9 263.3,145.9 263.6,146 263.8,145.9 264.1,145.9 264.3,145.9 264.6,145.9 264.8,145.9 265.1,145.9 265.3,145.9 265.6,145.9 265.8,145.9 266.1,145.9 266.3,146 266.6,146 266.8,145.9 267.1,145.9 267.3,146 267.6,145.9 267.8,145.9 268.1,146 268.3,146 268.6,145.9 268.8,146 269.1,146.4 269.3,147.2 269.6,147.5 269.8,147.5 270.1,147.5 270.3,147.5 270.6,147.6 270.8,147.6 271.1,147.6 271.3,147.6 271.6,147.6 271.8,147.6 272.1,147.6 272.3,147.7 272.6,147.7 272.8,147.7 273.1,147.7 273.3,147.7 273.6,147.7 273.8,147.7 274.1,147.8 274.3,147.8 274.6,147.8 274.8,147.8 275.1,147.8 275.3,147.8 275.6,147.8 275.8,147.8 276.1,147.8 276.3,147.8 276.6,147.8 276.8,147.9 277.1,147.9 277.3,147.9 277.6,147.9 277.8,147.9 278.1,147.9 278.3,147.9 278.6,147.9 278.8,147.9 279.1,147.9 279.3,147.9 279.6,147.9 279.8,147.9 280.1,147.9 280.3,147.9 280.6,148" fill="none" stroke="#e8382d" stroke-width="1.7" stroke-linejoin="round" stroke-linecap="round"/>
<line x1="229.4" y1="148.4" x2="282.6" y2="148.4" stroke="#1c1c1c" stroke-width="1"/>
<path d="M292.8,148.8 293.1,148.8 293.3,148.8 293.6,148.8 293.8,148.8 294.1,148.8 294.3,148.8 294.6,148.8 294.8,148.8 295.1,148.8 295.3,148.8 295.6,148.8 295.8,148.8 296.1,148.8 296.3,148.8 296.6,148.8 296.8,148.8 297.1,148.8 297.3,148.8 297.6,148.8 297.8,148.8 298.1,148.8 298.3,148.8 298.6,148.8 298.8,148.8 299.1,148.8 299.3,148.8 299.6,148.8 299.8,148.8 300.1,148.8 300.3,148.8 300.6,148.8 300.8,148.8 301.1,148.8 301.3,148.8 301.6,148.8 301.8,148.8 302.1,148.8 302.3,148.8 302.6,148.8 302.8,148.8 303.1,148.8 303.3,148.8 303.6,148.8 303.8,148.7 304.1,148.7 304.3,148.7 304.6,148.6 304.8,148.6 305.1,148.6 305.3,148.6 305.6,148.6 305.8,148.6 306.1,148.6 306.3,148.6 306.6,148.6 306.8,148.6 307.1,148.6 307.3,148.6 307.6,148.6 307.8,148.6 308.1,148.6 308.3,148.6 308.6,148.6 308.8,148.6 309.1,148.6 309.3,148.6 309.6,148.6 309.8,148.6 310.1,148.6 310.3,148.6 310.6,148.6 310.8,148.6 311.1,148.6 311.3,148.6 311.6,148.6 311.8,148.6 312.1,148.6 312.3,148.6 312.6,148.6 312.8,148.6 313.1,148.6 313.3,148.6 313.6,148.6 313.8,148.6 314.1,148.6 314.3,148.6 314.6,148.6 314.8,148.6 315.1,148.6 315.3,148.6 315.6,148.6 315.8,148.6 316.1,148.6 316.3,148.6 316.6,148.6 316.8,148.6 317.1,148.6 317.3,148.6 317.6,148.6 317.8,148.6 318.1,148.6 318.3,148.6 318.6,148.6 318.8,148.6 319.1,148.6 319.3,148.6 319.6,148.6 319.8,148.6 320.1,148.6 320.3,148.6 320.6,148.6 320.8,148.6 321.1,148.6 321.3,148.6 321.6,148.6 321.8,148.6 322.1,148.6 322.3,148.6 322.6,148.6 322.8,148.6 323.1,148.6 323.3,148.6 323.6,148.6 323.8,148.6 324.1,148.6 324.3,148.6 324.6,148.6 324.8,148.6 325.1,148.6 325.3,148.7 325.6,148.7 325.8,148.7 326.1,148.7 326.3,148.7 326.6,148.7 326.8,148.7 327.1,148.7 327.3,148.7 327.6,148.7 327.8,148.7 328.1,148.7 328.3,148.7 328.6,148.7 328.8,148.7 329.1,148.7 329.3,148.7 329.6,148.7 329.8,148.7 330.1,148.7 330.3,148.7 330.6,148.7 330.8,148.7 331.1,148.7 331.3,148.7 331.6,148.7 331.8,148.7 332.1,148.7 332.3,148.7 332.6,148.7 332.8,148.7 333.1,148.7 333.3,148.7 333.6,148.7 333.8,148.7 334.1,148.7 334.3,148.7 334.6,148.7 334.8,148.7 335.1,148.7 335.3,148.7 335.6,148.7 335.8,148.7 336.1,148.7 336.3,148.7 336.6,148.7 336.8,148.7 337.1,148.8 337.3,148.8 337.6,148.8 337.8,148.8 338.1,148.8 338.3,148.8 338.6,148.8 338.8,148.8 339.1,148.8 339.3,148.8 339.6,148.8 339.8,148.8 340.1,148.8 340.3,148.8 340.6,148.8 340.8,148.8 341.1,148.8 341.3,148.8 341.6,148.8" fill="none" stroke="#e8382d" stroke-width="1.7" stroke-linejoin="round" stroke-linecap="round"/>
<path d="M292.8,148.2 293.1,148.2 293.3,148.2 293.6,148.2 293.8,148.2 294.1,148.2 294.3,148.2 294.6,148.2 294.8,148.2 295.1,148.2 295.3,148.2 295.6,148.2 295.8,148.2 296.1,148.2 296.3,148.2 296.6,148.2 296.8,148.2 297.1,148.2 297.3,148.2 297.6,148.2 297.8,148.2 298.1,148.2 298.3,148.2 298.6,148.2 298.8,148.2 299.1,148.2 299.3,148.2 299.6,148.2 299.8,148.2 300.1,148.2 300.3,148.2 300.6,148.2 300.8,148.2 301.1,148.2 301.3,148.2 301.6,148.2 301.8,148.2 302.1,148.2 302.3,148.2 302.6,148.2 302.8,148.2 303.1,148.2 303.3,148.2 303.6,148.2 303.8,148.2 304.1,148.1 304.3,148.1 304.6,148 304.8,148 305.1,147.9 305.3,147.9 305.6,147.9 305.8,147.9 306.1,147.9 306.3,147.9 306.6,147.9 306.8,147.9 307.1,147.9 307.3,147.9 307.6,147.9 307.8,147.9 308.1,147.9 308.3,147.9 308.6,147.9 308.8,147.9 309.1,147.9 309.3,147.9 309.6,147.9 309.8,147.9 310.1,147.9 310.3,147.9 310.6,147.9 310.8,147.9 311.1,147.9 311.3,147.9 311.6,147.9 311.8,147.9 312.1,147.9 312.3,147.9 312.6,147.9 312.8,147.9 313.1,147.9 313.3,147.9 313.6,147.9 313.8,147.9 314.1,147.9 314.3,147.9 314.6,147.9 314.8,147.8 315.1,147.9 315.3,147.9 315.6,147.9 315.8,147.9 316.1,147.9 316.3,147.8 316.6,147.8 316.8,147.8 317.1,147.8 317.3,147.8 317.6,147.8 317.8,147.8 318.1,147.8 318.3,147.8 318.6,147.8 318.8,147.8 319.1,147.8 319.3,147.8 319.6,147.8 319.8,147.8 320.1,147.8 320.3,147.8 320.6,147.8 320.8,147.8 321.1,147.8 321.3,147.8 321.6,147.8 321.8,147.8 322.1,147.8 322.3,147.8 322.6,147.8 322.8,147.8 323.1,147.8 323.3,147.8 323.6,147.8 323.8,147.8 324.1,147.8 324.3,147.8 324.6,147.8 324.8,147.8 325.1,147.8 325.3,147.8 325.6,147.8 325.8,147.8 326.1,147.8 326.3,147.8 326.6,147.8 326.8,147.8 327.1,147.8 327.3,147.8 327.6,147.8 327.8,147.8 328.1,147.8 328.3,147.8 328.6,147.8 328.8,147.8 329.1,147.8 329.3,147.8 329.6,147.8 329.8,147.7 330.1,147.8 330.3,147.8 330.6,147.8 330.8,147.8 331.1,147.8 331.3,147.8 331.6,147.8 331.8,147.9 332.1,147.9 332.3,147.9 332.6,147.9 332.8,147.9 333.1,147.9 333.3,147.9 333.6,147.9 333.8,147.9 334.1,147.9 334.3,148 334.6,148 334.8,148 335.1,148 335.3,148 335.6,148 335.8,148 336.1,148 336.3,148 336.6,148 336.8,148 337.1,148 337.3,148 337.6,148.1 337.8,148.1 338.1,148.1 338.3,148.1 338.6,148.1 338.8,148.1 339.1,148.1 339.3,148.1 339.6,148.1 339.8,148.1 340.1,148.1 340.3,148.1 340.6,148.1 340.8,148.1 341.1,148.1 341.3,148.1 341.6,148.1" fill="none" stroke="#1c1c1c" stroke-width="1.6" stroke-linejoin="round" stroke-linecap="round"/>
<path d="M292.8,148 293.1,148 293.3,148 293.6,148 293.8,148 294.1,148 294.3,148 294.6,148 294.8,148 295.1,148 295.3,148 295.6,148 295.8,148 296.1,148 296.3,148 296.6,148 296.8,148 297.1,148 297.3,148 297.6,148 297.8,148 298.1,148 298.3,148 298.6,148 298.8,148 299.1,148 299.3,148 299.6,148 299.8,148 300.1,148 300.3,148 300.6,148 300.8,148 301.1,148 301.3,148 301.6,148 301.8,148 302.1,148 302.3,148 302.6,148 302.8,148 303.1,148 303.3,148 303.6,148 303.8,147.9 304.1,147.9 304.3,147.9 304.6,147.8 304.8,147.8 305.1,147.8 305.3,147.8 305.6,147.8 305.8,147.8 306.1,147.8 306.3,147.8 306.6,147.8 306.8,147.7 307.1,147.8 307.3,147.7 307.6,147.7 307.8,147.7 308.1,147.7 308.3,147.7 308.6,147.7 308.8,147.7 309.1,147.7 309.3,147.7 309.6,147.7 309.8,147.7 310.1,147.7 310.3,147.7 310.6,147.7 310.8,147.7 311.1,147.7 311.3,147.7 311.6,147.7 311.8,147.7 312.1,147.7 312.3,147.7 312.6,147.7 312.8,147.7 313.1,147.7 313.3,147.7 313.6,147.7 313.8,147.7 314.1,147.7 314.3,147.7 314.6,147.7 314.8,147.7 315.1,147.7 315.3,147.7 315.6,147.7 315.8,147.7 316.1,147.7 316.3,147.7 316.6,147.7 316.8,147.7 317.1,147.7 317.3,147.7 317.6,147.7 317.8,147.7 318.1,147.7 318.3,147.7 318.6,147.7 318.8,147.7 319.1,147.6 319.3,147.7 319.6,147.7 319.8,147.7 320.1,147.6 320.3,147.7 320.6,147.6 320.8,147.6 321.1,147.6 321.3,147.6 321.6,147.6 321.8,147.6 322.1,147.6 322.3,147.6 322.6,147.6 322.8,147.7 323.1,147.6 323.3,147.6 323.6,147.6 323.8,147.6 324.1,147.6 324.3,147.6 324.6,147.6 324.8,147.6 325.1,147.6 325.3,147.6 325.6,147.6 325.8,147.6 326.1,147.6 326.3,147.6 326.6,147.6 326.8,147.6 327.1,147.6 327.3,147.6 327.6,147.6 327.8,147.6 328.1,147.6 328.3,147.6 328.6,147.6 328.8,147.6 329.1,147.6 329.3,147.6 329.6,147.6 329.8,147.6 330.1,147.6 330.3,147.6 330.6,147.6 330.8,147.6 331.1,147.7 331.3,147.7 331.6,147.7 331.8,147.7 332.1,147.7 332.3,147.7 332.6,147.7 332.8,147.7 333.1,147.7 333.3,147.8 333.6,147.8 333.8,147.8 334.1,147.8 334.3,147.8 334.6,147.8 334.8,147.8 335.1,147.8 335.3,147.8 335.6,147.8 335.8,147.8 336.1,147.9 336.3,147.9 336.6,147.9 336.8,147.9 337.1,147.9 337.3,147.9 337.6,147.9 337.8,147.9 338.1,147.9 338.3,147.9 338.6,147.9 338.8,147.9 339.1,147.9 339.3,147.9 339.6,147.9 339.8,147.9 340.1,147.9 340.3,147.9 340.6,147.9 340.8,148 341.1,148 341.3,148 341.6,148" fill="none" stroke="#e8382d" stroke-width="1.7" stroke-linejoin="round" stroke-linecap="round"/>
<line x1="290.4" y1="148.4" x2="343.6" y2="148.4" stroke="#1c1c1c" stroke-width="1"/>
<path d="M48.6,223 48.8,223 49.1,223 49.3,223 49.6,222.9 49.8,222.9 50.1,222.8 50.3,222.8 50.6,222.7 50.8,222.7 51.1,222.6 51.3,222.5 51.6,222.4 51.8,222.4 52.1,222.3 52.3,222.2 52.6,222.1 52.8,221.9 53.1,221.8 53.3,221.7 53.6,221.5 53.8,221.4 54.1,221.2 54.3,221 54.6,220.8 54.8,220.6 55.1,220.3 55.3,220 55.6,219.6 55.8,219.2 56.1,218.7 56.3,218.1 56.6,217.4 56.8,216.5 57.1,215.4 57.3,213.9 57.4,213.6 57.5,212.9 57.6,212 57.7,211.1 57.8,210.1 57.8,209.5 57.9,208.9 58,207.6 58.1,206.2 58.2,204.5 58.3,202.6 58.3,201.6 58.4,200.5 58.5,198.2 58.6,195.6 58.7,192.8 58.8,189.7 58.8,188.1 58.9,186.6 59,183.5 59.1,180.7 59.2,178.4 59.3,176.8 59.3,176.4 59.4,176.3 59.5,176.8 59.6,178.3 59.7,180.6 59.8,183.4 59.8,184.9 59.9,186.4 60,189.5 60.1,192.4 60.2,195.2 60.3,197.7 60.3,198.8 60.4,199.9 60.5,201.9 60.6,203.7 60.7,205.2 60.8,206.6 60.8,207.2 60.9,207.7 61,208.8 61.1,209.7 61.2,210.5 61.3,211.2 61.3,211.6 61.4,211.9 61.6,212.9 61.8,214 62.1,214.8 62.3,215.4 62.6,215.9 62.8,216.3 63.1,216.7 63.3,217 63.6,217.2 63.8,217.4 64.1,217.5 64.3,217.7 64.6,217.8 64.8,217.9 65.1,218 65.3,218.1 65.6,218.2 65.8,218.3 66.1,218.3 66.3,218.4 66.6,218.4 66.8,218.5 67.1,218.5 67.3,218.5 67.6,218.6 67.8,218.6 68.1,218.6 68.3,218.7 68.6,218.7 68.8,218.7 69.1,218.7 69.3,218.8 69.6,218.8 69.8,218.8 70.1,218.8 70.3,218.8 70.6,218.8 70.8,218.9 71.1,218.9 71.3,218.9 71.6,218.9 71.8,218.9 72.1,218.9 72.3,218.9 72.6,218.9 72.8,218.9 73.1,218.9 73.3,219 73.6,219 73.8,219 74.1,219 74.3,219 74.6,219 74.8,219 75.1,219 75.3,219 75.6,219 75.8,219 76.1,219 76.3,219 76.6,219 76.8,219 77.1,219 77.3,219 77.6,219 77.8,219 78.1,219 78.3,219 78.6,219 78.8,219 79.1,219 79.3,219 79.6,219 79.8,219 80.1,219 80.3,219 80.6,219 80.8,219 81.1,219 81.3,218.9 81.6,218.9 81.8,218.9 82.1,218.9 82.3,218.9 82.6,218.9 82.8,218.8 83.1,218.8 83.3,218.7 83.6,218.7 83.8,218.6 84.1,218.4 84.3,218.3 84.6,218.1 84.8,217.9 85.1,217.6 85.3,217.3 85.6,216.9 85.8,216.5 86.1,216 86.3,215.5 86.6,215 86.8,214.4 87.1,213.9 87.3,213.3 87.6,212.8 87.8,212.3 88.1,211.9 88.3,211.5 88.6,211.3 88.8,211.1 89.1,211.1 89.3,211.1 89.6,211.2 89.8,211.2 90.1,211.4 90.3,211.5 90.6,211.6 90.8,211.8 91.1,212 91.3,212.3 91.6,212.5 91.8,212.8 92.1,213 92.3,213.3 92.6,213.6 92.8,213.9 93.1,214.2 93.3,214.5 93.6,214.8 93.8,215.1 94.1,215.4 94.3,215.7 94.6,216 94.8,216.3 95.1,216.5 95.3,216.8 95.6,217.1 95.8,217.3 96.1,217.5 96.3,217.7 96.6,218 96.8,218.1 97.1,218.3 97.3,218.5" fill="none" stroke="#1c1c1c" stroke-width="1.6" stroke-linejoin="round" stroke-linecap="round"/>
<path d="M48.6,223.1 48.8,223 49.1,223 49.3,223 49.6,222.9 49.8,222.9 50.1,222.9 50.3,222.8 50.6,222.8 50.8,222.7 51.1,222.6 51.3,222.5 51.6,222.5 51.8,222.4 52.1,222.3 52.3,222.2 52.6,222.1 52.8,222 53.1,221.9 53.3,221.7 53.6,221.6 53.8,221.4 54.1,221.3 54.3,221.1 54.6,220.9 54.8,220.6 55.1,220.4 55.3,220.1 55.6,219.7 55.8,219.3 56.1,218.8 56.3,218.2 56.6,217.5 56.8,216.7 57.1,215.6 57.3,214.2 57.4,213.9 57.5,213.2 57.6,212.4 57.7,211.5 57.8,210.5 57.8,209.9 57.9,209.4 58,208.1 58.1,206.7 58.2,205.1 58.3,203.3 58.3,202.3 58.4,201.3 58.5,199.1 58.6,196.6 58.7,193.8 58.8,190.9 58.8,189.4 58.9,187.9 59,184.9 59.1,182.2 59.2,180 59.3,178.5 59.3,178.1 59.4,178 59.5,178.5 59.6,180 59.7,182.1 59.8,184.8 59.8,186.2 59.9,187.7 60,190.6 60.1,193.5 60.2,196.1 60.3,198.5 60.3,199.6 60.4,200.7 60.5,202.6 60.6,204.3 60.7,205.8 60.8,207.1 60.8,207.6 60.9,208.2 61,209.2 61.1,210.1 61.2,210.9 61.3,211.5 61.3,211.9 61.4,212.1 61.6,213.2 61.8,214.2 62.1,215 62.3,215.6 62.6,216.1 62.8,216.4 63.1,216.8 63.3,217 63.6,217.3 63.8,217.4 64.1,217.6 64.3,217.7 64.6,217.9 64.8,218 65.1,218.1 65.3,218.1 65.6,218.2 65.8,218.3 66.1,218.3 66.3,218.4 66.6,218.4 66.8,218.5 67.1,218.5 67.3,218.6 67.6,218.6 67.8,218.6 68.1,218.7 68.3,218.7 68.6,218.7 68.8,218.7 69.1,218.8 69.3,218.8 69.6,218.8 69.8,218.8 70.1,218.8 70.3,218.8 70.6,218.9 70.8,218.9 71.1,218.9 71.3,218.9 71.6,218.9 71.8,218.9 72.1,218.9 72.3,218.9 72.6,218.9 72.8,218.9 73.1,219 73.3,219 73.6,219 73.8,219 74.1,219 74.3,219 74.6,219 74.8,219 75.1,219 75.3,219 75.6,219 75.8,219 76.1,219 76.3,219 76.6,219 76.8,219 77.1,219 77.3,219 77.6,219 77.8,219 78.1,219 78.3,219 78.6,219 78.8,219 79.1,219 79.3,219 79.6,219 79.8,219 80.1,219 80.3,219 80.6,219 80.8,219 81.1,219 81.3,219 81.6,218.9 81.8,218.9 82.1,218.9 82.3,218.9 82.6,218.9 82.8,218.8 83.1,218.8 83.3,218.8 83.6,218.7 83.8,218.6 84.1,218.5 84.3,218.3 84.6,218.1 84.8,217.9 85.1,217.6 85.3,217.3 85.6,217 85.8,216.6 86.1,216.1 86.3,215.6 86.6,215.1 86.8,214.6 87.1,214 87.3,213.5 87.6,213 87.8,212.5 88.1,212.1 88.3,211.8 88.6,211.5 88.8,211.4 89.1,211.3 89.3,211.4 89.6,211.4 89.8,211.5 90.1,211.6 90.3,211.7 90.6,211.9 90.8,212.1 91.1,212.3 91.3,212.5 91.6,212.7 91.8,213 92.1,213.2 92.3,213.5 92.6,213.8 92.8,214.1 93.1,214.4 93.3,214.7 93.6,215 93.8,215.3 94.1,215.6 94.3,215.9 94.6,216.1 94.8,216.4 95.1,216.7 95.3,216.9 95.6,217.2 95.8,217.4 96.1,217.6 96.3,217.8 96.6,218 96.8,218.2 97.1,218.4 97.3,218.6" fill="none" stroke="#e8382d" stroke-width="1.7" stroke-linejoin="round" stroke-linecap="round"/>
<path d="M109.8,223.5 110,223.5 110.3,223.5 110.5,223.4 110.8,223.4 111,223.4 111.3,223.4 111.5,223.4 111.8,223.3 112,223.3 112.3,223.3 112.5,223.3 112.8,223.2 113,223.2 113.3,223.1 113.5,223.1 113.8,223.1 114,223 114.3,222.9 114.5,222.9 114.8,222.8 115,222.7 115.3,222.7 115.5,222.6 115.8,222.4 116,222.3 116.3,222.2 116.5,222 116.8,221.8 117,221.6 117.3,221.3 117.5,220.9 117.8,220.5 118,220 118.3,219.3 118.5,218.4 118.6,218.2 118.7,217.8 118.8,217.3 118.9,216.7 119,216 119,215.7 119.1,215.3 119.2,214.5 119.3,213.5 119.4,212.5 119.5,211.3 119.5,210.6 119.6,209.9 119.7,208.4 119.8,206.7 119.9,204.8 120,202.8 120,201.7 120.1,200.7 120.2,198.6 120.3,196.7 120.4,195.2 120.5,194.2 120.5,193.9 120.6,193.8 120.7,194.2 120.8,195.2 120.9,196.7 121,198.6 121,199.6 121.1,200.6 121.2,202.7 121.3,204.7 121.4,206.6 121.5,208.2 121.5,209 121.6,209.8 121.7,211.1 121.8,212.3 121.9,213.3 122,214.2 122,214.6 122.1,215 122.2,215.7 122.3,216.3 122.4,216.9 122.5,217.4 122.5,217.6 122.6,217.8 122.8,218.5 123,219.2 123.3,219.8 123.5,220.2 123.8,220.5 124,220.8 124.3,221 124.5,221.2 124.8,221.4 125,221.5 125.3,221.6 125.5,221.7 125.8,221.8 126,221.9 126.3,222 126.5,222 126.8,222.1 127,222.1 127.3,222.1 127.5,222.2 127.8,222.2 128,222.2 128.3,222.3 128.5,222.3 128.8,222.3 129,222.3 129.3,222.4 129.5,222.4 129.8,222.4 130,222.4 130.3,222.4 130.5,222.4 130.8,222.5 131,222.5 131.3,222.5 131.5,222.5 131.8,222.5 132,222.5 132.3,222.5 132.5,222.5 132.8,222.5 133,222.5 133.3,222.5 133.5,222.5 133.8,222.5 134,222.6 134.3,222.6 134.5,222.6 134.8,222.6 135,222.6 135.3,222.6 135.5,222.6 135.8,222.6 136,222.6 136.3,222.6 136.5,222.6 136.8,222.6 137,222.6 137.3,222.6 137.5,222.6 137.8,222.6 138,222.6 138.3,222.6 138.5,222.6 138.8,222.6 139,222.6 139.3,222.6 139.5,222.6 139.8,222.6 140,222.6 140.3,222.6 140.5,222.6 140.8,222.6 141,222.6 141.3,222.6 141.5,222.6 141.8,222.6 142,222.6 142.3,222.6 142.5,222.6 142.8,222.6 143,222.6 143.3,222.6 143.5,222.6 143.8,222.6 144,222.5 144.3,222.5 144.5,222.5 144.8,222.5 145,222.4 145.3,222.4 145.5,222.3 145.8,222.2 146,222.1 146.3,222 146.5,221.8 146.8,221.6 147,221.4 147.3,221.2 147.5,221 147.8,220.7 148,220.4 148.3,220.2 148.5,219.9 148.8,219.6 149,219.4 149.3,219.2 149.5,219 149.8,218.9 150,218.8 150.3,218.8 150.5,218.8 150.8,218.8 151,218.9 151.3,218.9 151.5,219 151.8,219 152,219.1 152.3,219.2 152.5,219.3 152.8,219.4 153.1,219.5 153.3,219.6 153.6,219.7 153.8,219.9 154.1,220 154.3,220.1 154.6,220.3 154.8,220.4 155.1,220.5 155.3,220.7 155.6,220.8 155.8,220.9 156.1,221 156.3,221.1 156.6,221.3 156.8,221.4 157.1,221.5 157.3,221.6 157.6,221.6 157.8,221.7 158.1,221.8 158.3,221.9 158.6,221.9" fill="none" stroke="#1c1c1c" stroke-width="1.6" stroke-linejoin="round" stroke-linecap="round"/>
<path d="M109.8,223.5 110,223.5 110.3,223.5 110.5,223.5 110.8,223.4 111,223.4 111.3,223.4 111.5,223.4 111.8,223.4 112,223.3 112.3,223.3 112.5,223.3 112.8,223.2 113,223.2 113.3,223.2 113.5,223.1 113.8,223.1 114,223 114.3,223 114.5,222.9 114.8,222.8 115,222.8 115.3,222.7 115.5,222.6 115.8,222.5 116,222.4 116.3,222.2 116.5,222.1 116.8,221.9 117,221.6 117.3,221.4 117.5,221 117.8,220.6 118,220.1 118.3,219.5 118.5,218.6 118.6,218.4 118.7,218 118.8,217.5 118.9,217 119,216.3 119,216 119.1,215.6 119.2,214.9 119.3,214 119.4,212.9 119.5,211.8 119.5,211.2 119.6,210.5 119.7,209 119.8,207.4 119.9,205.6 120,203.7 120,202.7 120.1,201.7 120.2,199.7 120.3,197.9 120.4,196.4 120.5,195.5 120.5,195.2 120.6,195.1 120.7,195.5 120.8,196.4 120.9,197.9 121,199.7 121,200.6 121.1,201.6 121.2,203.6 121.3,205.5 121.4,207.3 121.5,208.9 121.5,209.6 121.6,210.3 121.7,211.6 121.8,212.7 121.9,213.7 122,214.6 122,215 122.1,215.4 122.2,216 122.3,216.6 122.4,217.1 122.5,217.6 122.5,217.8 122.6,218 122.8,218.7 123,219.4 123.3,219.9 123.5,220.3 123.8,220.6 124,220.9 124.3,221.1 124.5,221.3 124.8,221.4 125,221.6 125.3,221.7 125.5,221.8 125.8,221.9 126,221.9 126.3,222 126.5,222 126.8,222.1 127,222.1 127.3,222.2 127.5,222.2 127.8,222.2 128,222.3 128.3,222.3 128.5,222.3 128.8,222.3 129,222.4 129.3,222.4 129.5,222.4 129.8,222.4 130,222.4 130.3,222.4 130.5,222.4 130.8,222.5 131,222.5 131.3,222.5 131.5,222.5 131.8,222.5 132,222.5 132.3,222.5 132.5,222.5 132.8,222.5 133,222.5 133.3,222.5 133.5,222.6 133.8,222.6 134,222.6 134.3,222.6 134.5,222.6 134.8,222.6 135,222.6 135.3,222.6 135.5,222.6 135.8,222.6 136,222.6 136.3,222.6 136.5,222.6 136.8,222.6 137,222.6 137.3,222.6 137.5,222.6 137.8,222.6 138,222.6 138.3,222.6 138.5,222.6 138.8,222.6 139,222.6 139.3,222.6 139.5,222.6 139.8,222.6 140,222.6 140.3,222.6 140.5,222.6 140.8,222.6 141,222.6 141.3,222.6 141.5,222.6 141.8,222.6 142,222.6 142.3,222.6 142.5,222.6 142.8,222.6 143,222.6 143.3,222.6 143.5,222.6 143.8,222.6 144,222.6 144.3,222.5 144.5,222.5 144.8,222.5 145,222.4 145.3,222.4 145.5,222.3 145.8,222.2 146,222.1 146.3,222 146.5,221.8 146.8,221.7 147,221.5 147.3,221.3 147.5,221 147.8,220.8 148,220.5 148.3,220.3 148.5,220 148.8,219.8 149,219.6 149.3,219.4 149.5,219.2 149.8,219.1 150,219 150.3,219 150.5,219 150.8,219 151,219 151.3,219.1 151.5,219.1 151.8,219.2 152,219.3 152.3,219.3 152.5,219.4 152.8,219.5 153.1,219.6 153.3,219.7 153.6,219.9 153.8,220 154.1,220.1 154.3,220.2 154.6,220.4 154.8,220.5 155.1,220.6 155.3,220.7 155.6,220.8 155.8,221 156.1,221.1 156.3,221.2 156.6,221.3 156.8,221.4 157.1,221.5 157.3,221.6 157.6,221.7 157.8,221.7 158.1,221.8 158.3,221.9 158.6,221.9" fill="none" stroke="#e8382d" stroke-width="1.7" stroke-linejoin="round" stroke-linecap="round"/>
<path d="M170.8,223.8 171,223.8 171.3,223.8 171.5,223.8 171.8,223.8 172,223.8 172.3,223.8 172.5,223.8 172.8,223.7 173,223.7 173.3,223.7 173.5,223.7 173.8,223.7 174,223.7 174.3,223.6 174.5,223.6 174.8,223.6 175,223.6 175.3,223.5 175.5,223.5 175.8,223.5 176,223.4 176.3,223.4 176.5,223.3 176.8,223.3 177,223.2 177.3,223.1 177.5,223 177.8,222.9 178,222.8 178.3,222.6 178.5,222.4 178.8,222.2 179,221.9 179.3,221.5 179.5,221 179.6,220.8 179.7,220.6 179.8,220.3 179.9,220 180,219.6 180,219.4 180.1,219.2 180.2,218.7 180.3,218.1 180.4,217.5 180.5,216.8 180.5,216.4 180.6,216 180.7,215.1 180.8,214.1 180.9,213 181,211.9 181,211.3 181.1,210.7 181.2,209.5 181.3,208.4 181.4,207.5 181.5,206.9 181.5,206.7 181.6,206.7 181.7,206.9 181.8,207.5 181.9,208.3 182,209.4 182,210 182.1,210.6 182.2,211.8 182.3,213 182.4,214.1 182.5,215.1 182.5,215.5 182.6,216 182.7,216.8 182.8,217.4 182.9,218 183,218.6 183,218.8 183.1,219 183.2,219.5 183.3,219.8 183.4,220.1 183.5,220.4 183.5,220.5 183.6,220.7 183.8,221.1 184,221.5 184.3,221.8 184.5,222.1 184.8,222.3 185,222.4 185.3,222.6 185.5,222.7 185.8,222.8 186,222.8 186.3,222.9 186.5,223 186.8,223 187,223.1 187.3,223.1 187.5,223.1 187.8,223.2 188,223.2 188.3,223.2 188.5,223.2 188.8,223.3 189,223.3 189.3,223.3 189.5,223.3 189.8,223.3 190,223.3 190.3,223.3 190.5,223.3 190.8,223.4 191,223.4 191.3,223.4 191.5,223.4 191.8,223.4 192,223.4 192.3,223.4 192.5,223.4 192.8,223.4 193,223.4 193.3,223.4 193.5,223.4 193.8,223.4 194,223.4 194.3,223.4 194.5,223.4 194.8,223.5 195,223.5 195.3,223.5 195.5,223.5 195.8,223.5 196,223.5 196.3,223.5 196.5,223.5 196.8,223.5 197,223.5 197.3,223.5 197.5,223.5 197.8,223.5 198,223.5 198.3,223.5 198.5,223.5 198.8,223.5 199,223.5 199.3,223.5 199.5,223.5 199.8,223.5 200,223.5 200.3,223.5 200.5,223.5 200.8,223.5 201,223.5 201.3,223.5 201.5,223.5 201.8,223.5 202,223.5 202.3,223.5 202.5,223.5 202.8,223.5 203,223.5 203.3,223.5 203.5,223.5 203.8,223.5 204,223.5 204.3,223.5 204.5,223.5 204.8,223.4 205,223.4 205.3,223.4 205.5,223.4 205.8,223.4 206,223.4 206.3,223.3 206.5,223.3 206.8,223.2 207,223.2 207.3,223.1 207.5,223 207.8,222.9 208,222.8 208.3,222.7 208.5,222.6 208.8,222.4 209,222.3 209.3,222.2 209.5,222 209.8,221.9 210,221.7 210.3,221.6 210.5,221.5 210.8,221.5 211,221.4 211.3,221.4 211.5,221.4 211.8,221.5 212,221.5 212.3,221.5 212.5,221.5 212.8,221.6 213,221.6 213.3,221.7 213.5,221.7 213.8,221.8 214.1,221.9 214.3,221.9 214.6,222 214.8,222.1 215.1,222.1 215.3,222.2 215.6,222.3 215.8,222.4 216.1,222.5 216.3,222.5 216.6,222.6 216.8,222.7 217.1,222.8 217.3,222.8 217.6,222.9 217.8,223 218.1,223 218.3,223.1 218.6,223.1 218.8,223.2 219.1,223.2 219.3,223.3 219.6,223.3" fill="none" stroke="#1c1c1c" stroke-width="1.6" stroke-linejoin="round" stroke-linecap="round"/>
<path d="M170.8,223.8 171,223.8 171.3,223.8 171.5,223.8 171.8,223.8 172,223.8 172.3,223.8 172.5,223.8 172.8,223.7 173,223.7 173.3,223.7 173.5,223.7 173.8,223.7 174,223.7 174.3,223.6 174.5,223.6 174.8,223.6 175,223.6 175.3,223.5 175.5,223.5 175.8,223.5 176,223.4 176.3,223.4 176.5,223.3 176.8,223.3 177,223.2 177.3,223.1 177.5,223 177.8,222.9 178,222.8 178.3,222.6 178.5,222.4 178.8,222.2 179,221.9 179.3,221.5 179.5,221 179.6,220.9 179.7,220.7 179.8,220.4 179.9,220.1 180,219.7 180,219.5 180.1,219.3 180.2,218.8 180.3,218.3 180.4,217.7 180.5,217 180.5,216.6 180.6,216.2 180.7,215.3 180.8,214.4 180.9,213.3 181,212.2 181,211.6 181.1,211 181.2,209.8 181.3,208.7 181.4,207.9 181.5,207.3 181.5,207.1 181.6,207.1 181.7,207.3 181.8,207.9 181.9,208.7 182,209.8 182,210.4 182.1,211 182.2,212.1 182.3,213.3 182.4,214.3 182.5,215.3 182.5,215.7 182.6,216.2 182.7,216.9 182.8,217.6 182.9,218.2 183,218.7 183,218.9 183.1,219.2 183.2,219.6 183.3,219.9 183.4,220.2 183.5,220.5 183.5,220.6 183.6,220.7 183.8,221.2 184,221.6 184.3,221.9 184.5,222.1 184.8,222.3 185,222.5 185.3,222.6 185.5,222.7 185.8,222.8 186,222.9 186.3,222.9 186.5,223 186.8,223 187,223.1 187.3,223.1 187.5,223.1 187.8,223.2 188,223.2 188.3,223.2 188.5,223.2 188.8,223.3 189,223.3 189.3,223.3 189.5,223.3 189.8,223.3 190,223.3 190.3,223.3 190.5,223.4 190.8,223.4 191,223.4 191.3,223.4 191.5,223.4 191.8,223.4 192,223.4 192.3,223.4 192.5,223.4 192.8,223.4 193,223.4 193.3,223.4 193.5,223.4 193.8,223.4 194,223.4 194.3,223.4 194.5,223.5 194.8,223.5 195,223.5 195.3,223.5 195.5,223.5 195.8,223.5 196,223.5 196.3,223.5 196.5,223.5 196.8,223.5 197,223.5 197.3,223.5 197.5,223.5 197.8,223.5 198,223.5 198.3,223.5 198.5,223.5 198.8,223.5 199,223.5 199.3,223.5 199.5,223.5 199.8,223.5 200,223.5 200.3,223.5 200.5,223.5 200.8,223.5 201,223.5 201.3,223.5 201.5,223.5 201.8,223.5 202,223.5 202.3,223.5 202.5,223.5 202.8,223.5 203,223.5 203.3,223.5 203.5,223.5 203.8,223.5 204,223.5 204.3,223.5 204.5,223.5 204.8,223.4 205,223.4 205.3,223.4 205.5,223.4 205.8,223.4 206,223.4 206.3,223.3 206.5,223.3 206.8,223.3 207,223.2 207.3,223.1 207.5,223.1 207.8,223 208,222.9 208.3,222.8 208.5,222.7 208.8,222.5 209,222.4 209.3,222.3 209.5,222.1 209.8,222 210,221.9 210.3,221.8 210.5,221.7 210.8,221.6 211,221.6 211.3,221.6 211.5,221.6 211.8,221.6 212,221.6 212.3,221.7 212.5,221.7 212.8,221.7 213,221.8 213.3,221.8 213.5,221.9 213.8,221.9 214.1,222 214.3,222 214.6,222.1 214.8,222.2 215.1,222.3 215.3,222.3 215.6,222.4 215.8,222.5 216.1,222.5 216.3,222.6 216.6,222.7 216.8,222.7 217.1,222.8 217.3,222.9 217.6,222.9 217.8,223 218.1,223 218.3,223.1 218.6,223.1 218.8,223.2 219.1,223.2 219.3,223.3 219.6,223.3" fill="none" stroke="#e8382d" stroke-width="1.7" stroke-linejoin="round" stroke-linecap="round"/>
<path d="M231.8,224.2 232,224.2 232.3,224.2 232.5,224.2 232.8,224.2 233,224.2 233.3,224.2 233.5,224.2 233.8,224.2 234,224.2 234.3,224.2 234.5,224.2 234.8,224.2 235,224.2 235.3,224.2 235.5,224.2 235.8,224.2 236,224.2 236.3,224.1 236.5,224.1 236.8,224.1 237,224.1 237.3,224.1 237.5,224.1 237.8,224.1 238,224 238.3,224 238.5,224 238.8,223.9 239,223.9 239.3,223.8 239.5,223.8 239.8,223.7 240,223.6 240.3,223.5 240.5,223.3 240.6,223.2 240.7,223.2 240.8,223.1 240.9,222.9 241,222.8 241,222.7 241.1,222.7 241.2,222.5 241.3,222.3 241.4,222.1 241.5,221.9 241.5,221.7 241.6,221.6 241.7,221.3 241.8,221 241.9,220.6 242,220.2 242,220 242.1,219.8 242.2,219.3 242.3,219 242.4,218.7 242.5,218.4 242.6,218.4 242.7,218.4 242.8,218.6 242.9,219 243,219.3 243,219.5 243.1,219.7 243.2,220.2 243.3,220.6 243.4,220.9 243.5,221.3 243.5,221.4 243.6,221.6 243.7,221.9 243.8,222.1 243.9,222.3 244,222.5 244,222.6 244.1,222.7 244.2,222.8 244.3,222.9 244.4,223 244.5,223.1 244.5,223.2 244.6,223.2 244.8,223.4 245,223.5 245.3,223.6 245.5,223.7 245.8,223.8 246,223.8 246.3,223.9 246.5,223.9 246.8,223.9 247,224 247.3,224 247.5,224 247.8,224 248,224 248.3,224 248.5,224.1 248.8,224.1 249,224.1 249.3,224.1 249.5,224.1 249.8,224.1 250,224.1 250.3,224.1 250.5,224.1 250.8,224.1 251,224.1 251.3,224.1 251.5,224.1 251.8,224.1 252,224.1 252.3,224.2 252.5,224.2 252.8,224.2 253,224.2 253.3,224.2 253.5,224.2 253.8,224.2 254,224.2 254.3,224.2 254.5,224.2 254.8,224.2 255,224.2 255.3,224.2 255.5,224.2 255.8,224.2 256.1,224.2 256.3,224.2 256.6,224.2 256.8,224.2 257.1,224.2 257.3,224.2 257.6,224.2 257.8,224.2 258.1,224.2 258.3,224.2 258.6,224.2 258.8,224.2 259.1,224.2 259.3,224.2 259.6,224.2 259.8,224.2 260.1,224.2 260.3,224.2 260.6,224.2 260.8,224.2 261.1,224.2 261.3,224.2 261.6,224.2 261.8,224.2 262.1,224.2 262.3,224.2 262.6,224.2 262.8,224.2 263.1,224.2 263.3,224.2 263.6,224.2 263.8,224.2 264.1,224.2 264.3,224.2 264.6,224.2 264.8,224.2 265.1,224.2 265.3,224.2 265.6,224.2 265.8,224.2 266.1,224.2 266.3,224.2 266.6,224.1 266.8,224.1 267.1,224.1 267.3,224.1 267.6,224.1 267.8,224.1 268.1,224.1 268.3,224 268.6,224 268.8,223.9 269.1,223.9 269.3,223.9 269.6,223.8 269.8,223.7 270.1,223.7 270.3,223.6 270.6,223.6 270.8,223.5 271.1,223.5 271.3,223.4 271.6,223.4 271.8,223.3 272.1,223.3 272.3,223.3 272.6,223.3 272.8,223.3 273.1,223.3 273.3,223.3 273.6,223.4 273.8,223.4 274.1,223.4 274.3,223.4 274.6,223.4 274.8,223.5 275.1,223.5 275.3,223.5 275.6,223.6 275.8,223.6 276.1,223.6 276.3,223.6 276.6,223.7 276.8,223.7 277.1,223.7 277.3,223.8 277.6,223.8 277.8,223.8 278.1,223.9 278.3,223.9 278.6,223.9 278.8,223.9 279.1,224 279.3,224 279.6,224 279.8,224 280.1,224.1 280.3,224.1 280.6,224.1" fill="none" stroke="#1c1c1c" stroke-width="1.6" stroke-linejoin="round" stroke-linecap="round"/>
<path d="M231.8,224.2 232,224.2 232.3,224.2 232.5,224.2 232.8,224.2 233,224.2 233.3,224.2 233.5,224.2 233.8,224.2 234,224.2 234.3,224.2 234.5,224.2 234.8,224.2 235,224.2 235.3,224.2 235.5,224.2 235.8,224.2 236,224.2 236.3,224.2 236.5,224.1 236.8,224.1 237,224.1 237.3,224.1 237.5,224.1 237.8,224.1 238,224 238.3,224 238.5,224 238.8,224 239,223.9 239.3,223.9 239.5,223.8 239.8,223.7 240,223.6 240.3,223.5 240.5,223.3 240.6,223.3 240.7,223.2 240.8,223.1 240.9,223 241,222.9 241,222.8 241.1,222.7 241.2,222.6 241.3,222.4 241.4,222.2 241.5,222 241.5,221.8 241.6,221.7 241.7,221.4 241.8,221.1 241.9,220.7 242,220.3 242,220.1 242.1,219.9 242.2,219.6 242.3,219.2 242.4,218.9 242.5,218.7 242.5,218.6 242.6,218.6 242.7,218.7 242.8,218.9 242.9,219.2 243,219.5 243,219.7 243.1,219.9 243.2,220.3 243.3,220.7 243.4,221.1 243.5,221.4 243.5,221.6 243.6,221.7 243.7,222 243.8,222.2 243.9,222.4 244,222.6 244.1,222.7 244.2,222.9 244.3,223 244.4,223.1 244.5,223.2 244.6,223.3 244.8,223.4 245,223.5 245.3,223.6 245.5,223.7 245.8,223.8 246,223.8 246.3,223.9 246.5,223.9 246.8,223.9 247,224 247.3,224 247.5,224 247.8,224 248,224 248.3,224.1 248.5,224.1 248.8,224.1 249,224.1 249.3,224.1 249.5,224.1 249.8,224.1 250,224.1 250.3,224.1 250.5,224.1 250.8,224.1 251,224.1 251.3,224.1 251.5,224.1 251.8,224.1 252,224.1 252.3,224.2 252.5,224.2 252.8,224.2 253,224.2 253.3,224.2 253.5,224.2 253.8,224.2 254,224.2 254.3,224.2 254.5,224.2 254.8,224.2 255,224.2 255.3,224.2 255.5,224.2 255.8,224.2 256.1,224.2 256.3,224.2 256.6,224.2 256.8,224.2 257.1,224.2 257.3,224.2 257.6,224.2 257.8,224.2 258.1,224.2 258.3,224.2 258.6,224.2 258.8,224.2 259.1,224.2 259.3,224.2 259.6,224.2 259.8,224.2 260.1,224.2 260.3,224.2 260.6,224.2 260.8,224.2 261.1,224.2 261.3,224.2 261.6,224.2 261.8,224.2 262.1,224.2 262.3,224.2 262.6,224.2 262.8,224.2 263.1,224.2 263.3,224.2 263.6,224.2 263.8,224.2 264.1,224.2 264.3,224.2 264.6,224.2 264.8,224.2 265.1,224.2 265.3,224.2 265.6,224.2 265.8,224.2 266.1,224.2 266.3,224.2 266.6,224.1 266.8,224.1 267.1,224.1 267.3,224.1 267.6,224.1 267.8,224.1 268.1,224.1 268.3,224 268.6,224 268.8,224 269.1,223.9 269.3,223.9 269.6,223.8 269.8,223.8 270.1,223.7 270.3,223.7 270.6,223.6 270.8,223.6 271.1,223.5 271.3,223.5 271.6,223.4 271.8,223.4 272.1,223.4 272.3,223.4 272.6,223.4 272.8,223.4 273.1,223.4 273.3,223.4 273.6,223.4 273.8,223.5 274.1,223.5 274.3,223.5 274.6,223.5 274.8,223.5 275.1,223.6 275.3,223.6 275.6,223.6 275.8,223.6 276.1,223.7 276.3,223.7 276.6,223.7 276.8,223.8 277.1,223.8 277.3,223.8 277.6,223.8 277.8,223.9 278.1,223.9 278.3,223.9 278.6,223.9 278.8,224 279.1,224 279.3,224 279.6,224 279.8,224 280.1,224.1 280.3,224.1 280.6,224.1" fill="none" stroke="#e8382d" stroke-width="1.7" stroke-linejoin="round" stroke-linecap="round"/>
<path d="M292.8,224.5 293.1,224.5 293.3,224.5 293.6,224.5 293.8,224.5 294.1,224.5 294.3,224.5 294.6,224.5 294.8,224.5 295.1,224.5 295.3,224.5 295.6,224.5 295.8,224.5 296.1,224.5 296.3,224.5 296.6,224.5 296.8,224.5 297.1,224.5 297.3,224.5 297.6,224.5 297.8,224.5 298.1,224.5 298.3,224.5 298.6,224.5 298.8,224.5 299.1,224.5 299.3,224.5 299.6,224.5 299.8,224.5 300.1,224.5 300.3,224.5 300.6,224.5 300.8,224.5 301.1,224.4 301.3,224.4 301.6,224.4 301.7,224.4 301.8,224.4 301.9,224.4 302,224.3 302.1,224.3 302.2,224.3 302.3,224.3 302.4,224.3 302.5,224.2 302.6,224.2 302.7,224.1 302.8,224.1 302.9,224.1 303,224 303.1,224 303.1,223.9 303.2,223.9 303.3,223.8 303.4,223.8 303.5,223.8 303.6,223.8 303.7,223.8 303.8,223.8 303.9,223.8 304,223.9 304.1,223.9 304.2,224 304.3,224.1 304.4,224.1 304.5,224.1 304.6,224.2 304.7,224.2 304.8,224.3 304.9,224.3 305,224.3 305.1,224.3 305.2,224.3 305.3,224.4 305.4,224.4 305.5,224.4 305.6,224.4 305.8,224.4 306.1,224.4 306.3,224.5 306.6,224.5 306.8,224.5 307.1,224.5 307.3,224.5 307.6,224.5 307.8,224.5 308.1,224.5 308.3,224.5 308.6,224.5 308.8,224.5 309.1,224.5 309.3,224.5 309.6,224.5 309.8,224.5 310.1,224.5 310.3,224.5 310.6,224.5 310.8,224.5 311.1,224.5 311.3,224.5 311.6,224.5 311.8,224.5 312.1,224.5 312.3,224.5 312.6,224.5 312.8,224.5 313.1,224.5 313.3,224.5 313.6,224.5 313.8,224.5 314.1,224.5 314.3,224.5 314.6,224.5 314.8,224.5 315.1,224.5 315.3,224.5 315.6,224.5 315.8,224.5 316.1,224.5 316.3,224.5 316.6,224.5 316.8,224.5 317.1,224.5 317.3,224.5 317.6,224.5 317.8,224.5 318.1,224.5 318.3,224.5 318.6,224.5 318.8,224.5 319.1,224.5 319.3,224.5 319.6,224.5 319.8,224.5 320.1,224.5 320.3,224.5 320.6,224.5 320.8,224.5 321.1,224.5 321.3,224.5 321.6,224.5 321.8,224.5 322.1,224.5 322.3,224.5 322.6,224.5 322.8,224.5 323.1,224.5 323.3,224.5 323.6,224.5 323.8,224.5 324.1,224.5 324.3,224.5 324.6,224.5 324.8,224.5 325.1,224.5 325.3,224.5 325.6,224.5 325.8,224.5 326.1,224.5 326.3,224.5 326.6,224.5 326.8,224.5 327.1,224.5 327.3,224.5 327.6,224.5 327.8,224.5 328.1,224.5 328.3,224.5 328.6,224.5 328.8,224.5 329.1,224.5 329.3,224.5 329.6,224.4 329.8,224.4 330.1,224.4 330.3,224.4 330.6,224.4 330.8,224.3 331.1,224.3 331.3,224.3 331.6,224.3 331.8,224.3 332.1,224.2 332.3,224.2 332.6,224.2 332.8,224.2 333.1,224.2 333.3,224.2 333.6,224.2 333.8,224.2 334.1,224.2 334.3,224.2 334.6,224.2 334.8,224.2 335.1,224.2 335.3,224.2 335.6,224.2 335.8,224.2 336.1,224.3 336.3,224.3 336.6,224.3 336.8,224.3 337.1,224.3 337.3,224.3 337.6,224.3 337.8,224.4 338.1,224.4 338.3,224.4 338.6,224.4 338.8,224.4 339.1,224.4 339.3,224.4 339.6,224.4 339.8,224.5 340.1,224.5 340.3,224.5 340.6,224.5 340.8,224.5 341.1,224.5 341.3,224.5 341.6,224.5" fill="none" stroke="#1c1c1c" stroke-width="1.6" stroke-linejoin="round" stroke-linecap="round"/>
<path d="M292.8,224.5 293.1,224.5 293.3,224.5 293.6,224.5 293.8,224.5 294.1,224.5 294.3,224.5 294.6,224.5 294.8,224.5 295.1,224.5 295.3,224.5 295.6,224.5 295.8,224.5 296.1,224.5 296.3,224.5 296.6,224.5 296.8,224.5 297.1,224.5 297.3,224.5 297.6,224.5 297.8,224.5 298.1,224.5 298.3,224.5 298.6,224.5 298.8,224.5 299.1,224.5 299.3,224.5 299.6,224.5 299.8,224.5 300.1,224.5 300.3,224.5 300.6,224.5 300.8,224.5 301.1,224.5 301.3,224.4 301.6,224.4 301.7,224.4 301.8,224.4 301.9,224.4 302,224.4 302.1,224.4 302.2,224.3 302.3,224.3 302.4,224.3 302.5,224.3 302.6,224.2 302.7,224.2 302.8,224.1 302.9,224.1 303,224.1 303.1,224 303.2,224 303.3,223.9 303.4,223.9 303.5,223.9 303.6,223.9 303.6,223.8 303.7,223.9 303.8,223.9 303.9,223.9 304,224 304.1,224 304.2,224.1 304.3,224.1 304.4,224.1 304.5,224.2 304.6,224.2 304.7,224.3 304.8,224.3 304.9,224.3 305,224.3 305.1,224.3 305.1,224.4 305.2,224.4 305.3,224.4 305.4,224.4 305.5,224.4 305.6,224.4 305.8,224.4 306.1,224.5 306.3,224.5 306.6,224.5 306.8,224.5 307.1,224.5 307.3,224.5 307.6,224.5 307.8,224.5 308.1,224.5 308.3,224.5 308.6,224.5 308.8,224.5 309.1,224.5 309.3,224.5 309.6,224.5 309.8,224.5 310.1,224.5 310.3,224.5 310.6,224.5 310.8,224.5 311.1,224.5 311.3,224.5 311.6,224.5 311.8,224.5 312.1,224.5 312.3,224.5 312.6,224.5 312.8,224.5 313.1,224.5 313.3,224.5 313.6,224.5 313.8,224.5 314.1,224.5 314.3,224.5 314.6,224.5 314.8,224.5 315.1,224.5 315.3,224.5 315.6,224.5 315.8,224.5 316.1,224.5 316.3,224.5 316.6,224.5 316.8,224.5 317.1,224.5 317.3,224.5 317.6,224.5 317.8,224.5 318.1,224.5 318.3,224.5 318.6,224.5 318.8,224.5 319.1,224.5 319.3,224.5 319.6,224.5 319.8,224.5 320.1,224.5 320.3,224.5 320.6,224.5 320.8,224.5 321.1,224.5 321.3,224.5 321.6,224.5 321.8,224.5 322.1,224.5 322.3,224.5 322.6,224.5 322.8,224.5 323.1,224.5 323.3,224.5 323.6,224.5 323.8,224.5 324.1,224.5 324.3,224.5 324.6,224.5 324.8,224.5 325.1,224.5 325.3,224.5 325.6,224.5 325.8,224.5 326.1,224.5 326.3,224.5 326.6,224.5 326.8,224.5 327.1,224.5 327.3,224.5 327.6,224.5 327.8,224.5 328.1,224.5 328.3,224.5 328.6,224.5 328.8,224.5 329.1,224.5 329.3,224.5 329.6,224.4 329.8,224.4 330.1,224.4 330.3,224.4 330.6,224.4 330.8,224.3 331.1,224.3 331.3,224.3 331.6,224.3 331.8,224.3 332.1,224.2 332.3,224.2 332.6,224.2 332.8,224.2 333.1,224.2 333.3,224.2 333.6,224.2 333.8,224.2 334.1,224.2 334.3,224.2 334.6,224.2 334.8,224.2 335.1,224.2 335.3,224.2 335.6,224.2 335.8,224.2 336.1,224.3 336.3,224.3 336.6,224.3 336.8,224.3 337.1,224.3 337.3,224.3 337.6,224.3 337.8,224.4 338.1,224.4 338.3,224.4 338.6,224.4 338.8,224.4 339.1,224.4 339.3,224.4 339.6,224.4 339.8,224.5 340.1,224.5 340.3,224.5 340.6,224.5 340.8,224.5 341.1,224.5 341.3,224.5 341.6,224.5" fill="none" stroke="#e8382d" stroke-width="1.7" stroke-linejoin="round" stroke-linecap="round"/>
<path d="M48.6,286 48.8,286 49.1,286 49.3,286 49.6,285.9 49.8,285.8 50.1,285.7 50.3,285.6 50.6,285.4 50.8,285.3 51.1,285.2 51.3,285 51.6,284.8 51.8,284.6 52.1,284.4 52.3,284.2 52.6,284 52.8,283.8 53.1,283.6 53.3,283.3 53.6,283.1 53.8,282.9 54.1,282.6 54.3,282.3 54.6,282 54.8,281.6 55.1,281.2 55.3,280.8 55.6,280.3 55.8,279.8 56.1,279.3 56.3,278.8 56.6,278.2 56.8,277.6 57.1,276.9 57.3,276 57.4,275.9 57.5,275.4 57.6,275 57.7,274.5 57.8,274 57.8,273.8 57.9,273.5 58,272.9 58.1,272.3 58.2,271.7 58.3,271 58.3,270.6 58.4,270.2 58.5,269.3 58.6,268.4 58.7,267.3 58.8,266.1 58.8,265.5 58.9,264.9 59,263.6 59.1,262.3 59.2,261.2 59.3,260.5 59.3,260.3 59.4,260.2 59.5,260.5 59.6,261.2 59.7,262.2 59.8,263.3 59.8,263.9 59.9,264.5 60,265.5 60.1,266.5 60.2,267.3 60.3,268.1 60.3,268.4 60.4,268.7 60.5,269.2 60.6,269.6 60.7,270 60.8,270.3 60.8,270.4 60.9,270.5 61,270.8 61.1,271 61.2,271.1 61.3,271.3 61.3,271.4 61.4,271.4 61.6,271.6 61.8,271.8 62.1,272 62.3,272.1 62.6,272.2 62.8,272.3 63.1,272.4 63.3,272.4 63.6,272.5 63.8,272.5 64.1,272.5 64.3,272.6 64.6,272.6 64.8,272.6 65.1,272.6 65.3,272.7 65.6,272.7 65.8,272.7 66.1,272.7 66.3,272.7 66.6,272.7 66.8,272.8 67.1,272.8 67.3,272.8 67.6,272.8 67.8,272.8 68.1,272.8 68.3,272.8 68.6,272.8 68.8,272.9 69.1,272.9 69.3,272.9 69.6,272.9 69.8,272.9 70.1,272.9 70.3,272.9 70.6,272.9 70.8,272.9 71.1,272.9 71.3,273 71.6,273 71.8,273 72.1,273 72.3,273 72.6,273 72.8,273 73.1,273 73.3,273 73.6,273 73.8,273 74.1,273 74.3,273 74.6,273 74.8,273 75.1,273 75.3,273 75.6,273 75.8,273 76.1,273 76.3,273 76.6,273 76.8,273 77.1,272.9 77.3,272.9 77.6,272.9 77.8,272.9 78.1,272.9 78.3,272.9 78.6,272.9 78.8,272.9 79.1,272.9 79.3,272.9 79.6,272.9 79.8,272.9 80.1,272.8 80.3,272.8 80.6,272.8 80.8,272.8 81.1,272.8 81.3,272.7 81.6,272.7 81.8,272.7 82.1,272.6 82.3,272.6 82.6,272.5 82.8,272.3 83.1,272.2 83.3,271.9 83.6,271.7 83.8,271.3 84.1,270.8 84.3,270.2 84.6,269.5 84.8,268.7 85.1,267.6 85.3,266.4 85.6,265 85.8,263.5 86.1,261.7 86.3,259.8 86.6,257.8 86.8,255.8 87.1,253.6 87.3,251.6 87.6,249.6 87.8,247.7 88.1,246.1 88.3,244.8 88.6,243.8 88.8,243.2 89.1,242.9 89.3,243 89.6,243.1 89.8,243.3 90.1,243.7 90.3,244.1 90.6,244.6 90.8,245.2 91.1,245.9 91.3,246.6 91.6,247.4 91.8,248.3 92.1,249.2 92.3,250.1 92.6,251.1 92.8,252.1 93.1,253.1 93.3,254.2 93.6,255.2 93.8,256.2 94.1,257.2 94.3,258.2 94.6,259.2 94.8,260.1 95.1,261 95.3,261.8 95.6,262.6 95.8,263.4 96.1,264.1 96.3,264.8 96.6,265.5 96.8,266.1 97.1,266.6 97.3,267.1" fill="none" stroke="#1c1c1c" stroke-width="1.6" stroke-linejoin="round" stroke-linecap="round"/>
<path d="M48.6,286.1 48.8,286 49.1,286 49.3,286 49.6,285.9 49.8,285.8 50.1,285.7 50.3,285.6 50.6,285.5 50.8,285.3 51.1,285.2 51.3,285 51.6,284.8 51.8,284.6 52.1,284.5 52.3,284.3 52.6,284 52.8,283.8 53.1,283.6 53.3,283.4 53.6,283.2 53.8,282.9 54.1,282.7 54.3,282.4 54.6,282.1 54.8,281.7 55.1,281.3 55.3,280.9 55.6,280.4 55.8,280 56.1,279.5 56.3,279 56.6,278.4 56.8,277.9 57.1,277.2 57.3,276.4 57.4,276.3 57.5,275.9 57.6,275.5 57.7,275.1 57.8,274.7 57.8,274.4 57.9,274.2 58,273.7 58.1,273.2 58.2,272.7 58.3,272.2 58.3,271.9 58.4,271.6 58.5,271 58.6,270.3 58.7,269.6 58.8,268.9 58.8,268.6 58.9,268.2 59,267.5 59.1,266.8 59.2,266.3 59.3,265.9 59.3,265.8 59.4,265.8 59.5,265.9 59.6,266.2 59.7,266.7 59.8,267.2 59.8,267.5 59.9,267.8 60,268.3 60.1,268.8 60.2,269.3 60.3,269.7 60.3,269.9 60.4,270.1 60.5,270.4 60.6,270.6 60.7,270.9 60.8,271.1 60.8,271.2 60.9,271.2 61,271.4 61.1,271.5 61.2,271.6 61.3,271.7 61.3,271.8 61.4,271.8 61.6,272 61.8,272.1 62.1,272.2 62.3,272.3 62.6,272.4 62.8,272.4 63.1,272.5 63.3,272.5 63.6,272.6 63.8,272.6 64.1,272.6 64.3,272.6 64.6,272.6 64.8,272.7 65.1,272.7 65.3,272.7 65.6,272.7 65.8,272.7 66.1,272.7 66.3,272.8 66.6,272.8 66.8,272.8 67.1,272.8 67.3,272.8 67.6,272.8 67.8,272.8 68.1,272.8 68.3,272.9 68.6,272.9 68.8,272.9 69.1,272.9 69.3,272.9 69.6,272.9 69.8,272.9 70.1,272.9 70.3,272.9 70.6,272.9 70.8,273 71.1,273 71.3,273 71.6,273 71.8,273 72.1,273 72.3,273 72.6,273 72.8,273 73.1,273 73.3,273 73.6,273 73.8,273 74.1,273 74.3,273 74.6,273 74.8,273 75.1,273 75.3,273 75.6,273 75.8,273 76.1,273 76.3,273 76.6,273 76.8,273 77.1,273 77.3,273 77.6,272.9 77.8,272.9 78.1,272.9 78.3,272.9 78.6,272.9 78.8,272.9 79.1,272.9 79.3,272.9 79.6,272.9 79.8,272.9 80.1,272.9 80.3,272.8 80.6,272.8 80.8,272.8 81.1,272.8 81.3,272.8 81.6,272.7 81.8,272.7 82.1,272.7 82.3,272.6 82.6,272.5 82.8,272.4 83.1,272.3 83.3,272.1 83.6,271.8 83.8,271.5 84.1,271.1 84.3,270.6 84.6,270 84.8,269.2 85.1,268.3 85.3,267.3 85.6,266.1 85.8,264.8 86.1,263.3 86.3,261.7 86.6,259.9 86.8,258.1 87.1,256.3 87.3,254.5 87.6,252.8 87.8,251.2 88.1,249.8 88.3,248.7 88.6,247.8 88.8,247.3 89.1,247.1 89.3,247.1 89.6,247.2 89.8,247.4 90.1,247.6 90.3,248 90.6,248.4 90.8,248.9 91.1,249.5 91.3,250.1 91.6,250.7 91.8,251.5 92.1,252.2 92.3,253 92.6,253.8 92.8,254.7 93.1,255.5 93.3,256.4 93.6,257.3 93.8,258.1 94.1,258.9 94.3,259.8 94.6,260.6 94.8,261.3 95.1,262.1 95.3,262.8 95.6,263.5 95.8,264.1 96.1,264.7 96.3,265.3 96.6,265.8 96.8,266.3 97.1,266.7 97.3,267.1" fill="none" stroke="#e8382d" stroke-width="1.7" stroke-linejoin="round" stroke-linecap="round"/>
<path d="M109.8,287 110,287 110.3,287 110.5,287 110.8,287 111,286.9 111.3,286.9 111.5,286.9 111.8,286.8 112,286.8 112.3,286.7 112.5,286.7 112.8,286.6 113,286.5 113.3,286.5 113.5,286.4 113.8,286.3 114,286.3 114.3,286.2 114.5,286.1 114.8,286 115,285.9 115.3,285.9 115.5,285.7 115.8,285.6 116,285.4 116.3,285.3 116.5,285.1 116.8,284.9 117,284.7 117.3,284.5 117.5,284.3 117.8,284.1 118,283.8 118.3,283.6 118.5,283.2 118.6,283.1 118.7,283 118.8,282.8 118.9,282.6 119,282.3 119,282.2 119.1,282.1 119.2,281.8 119.3,281.4 119.4,281 119.5,280.6 119.5,280.3 119.6,280 119.7,279.4 119.8,278.6 119.9,277.8 120,276.8 120,276.3 120.1,275.7 120.2,274.5 120.3,273.4 120.4,272.4 120.5,271.7 120.5,271.5 120.6,271.4 120.7,271.7 120.8,272.4 120.9,273.4 121,274.5 121,275.1 121.1,275.7 121.2,276.7 121.3,277.7 121.4,278.5 121.5,279.3 121.5,279.6 121.6,279.9 121.7,280.4 121.8,280.8 121.9,281.2 122,281.5 122,281.6 122.1,281.7 122.2,282 122.3,282.2 122.4,282.3 122.5,282.5 122.5,282.6 122.6,282.6 122.8,282.8 123,283 123.3,283.2 123.5,283.3 123.8,283.4 124,283.5 124.3,283.6 124.5,283.6 124.8,283.7 125,283.7 125.3,283.7 125.5,283.8 125.8,283.8 126,283.8 126.3,283.8 126.5,283.8 126.8,283.9 127,283.9 127.3,283.9 127.5,283.9 127.8,283.9 128,283.9 128.3,283.9 128.5,283.9 128.8,284 129,284 129.3,284 129.5,284 129.8,284 130,284 130.3,284 130.5,284 130.8,284 131,284 131.3,284 131.5,284 131.8,284 132,284 132.3,284.1 132.5,284.1 132.8,284.1 133,284.1 133.3,284.1 133.5,284.1 133.8,284.1 134,284.1 134.3,284.1 134.5,284.1 134.8,284.1 135,284.1 135.3,284.1 135.5,284.1 135.8,284.1 136,284.1 136.3,284.1 136.5,284.1 136.8,284.1 137,284.1 137.3,284.1 137.5,284.1 137.8,284.1 138,284.1 138.3,284.1 138.5,284.1 138.8,284.1 139,284.1 139.3,284.1 139.5,284.1 139.8,284 140,284 140.3,284 140.5,284 140.8,284 141,284 141.3,284 141.5,284 141.8,284 142,284 142.3,284 142.5,284 142.8,284 143,283.9 143.3,283.9 143.5,283.9 143.8,283.9 144,283.8 144.3,283.7 144.5,283.6 144.8,283.5 145,283.3 145.3,283.1 145.5,282.9 145.8,282.6 146,282.2 146.3,281.8 146.5,281.2 146.8,280.7 147,280 147.3,279.2 147.5,278.4 147.8,277.5 148,276.6 148.3,275.7 148.5,274.8 148.8,274 149,273.2 149.3,272.5 149.5,271.9 149.8,271.4 150,271.2 150.3,271 150.5,271 150.8,271.1 151,271.2 151.3,271.3 151.5,271.4 151.8,271.6 152,271.9 152.3,272.1 152.5,272.4 152.8,272.7 153.1,273.1 153.3,273.4 153.6,273.8 153.8,274.2 154.1,274.6 154.3,275 154.6,275.4 154.8,275.8 155.1,276.3 155.3,276.7 155.6,277 155.8,277.4 156.1,277.8 156.3,278.1 156.6,278.5 156.8,278.8 157.1,279.1 157.3,279.4 157.6,279.6 157.8,279.9 158.1,280.1 158.3,280.3 158.6,280.5" fill="none" stroke="#1c1c1c" stroke-width="1.6" stroke-linejoin="round" stroke-linecap="round"/>
<path d="M109.8,287 110,287 110.3,287 110.5,287 110.8,287 111,287 111.3,286.9 111.5,286.9 111.8,286.9 112,286.8 112.3,286.8 112.5,286.7 112.8,286.7 113,286.6 113.3,286.5 113.5,286.5 113.8,286.4 114,286.3 114.3,286.3 114.5,286.2 114.8,286.1 115,286 115.3,285.9 115.5,285.8 115.8,285.7 116,285.6 116.3,285.4 116.5,285.3 116.8,285.1 117,284.9 117.3,284.7 117.5,284.6 117.8,284.4 118,284.2 118.3,284 118.5,283.8 118.6,283.7 118.7,283.6 118.8,283.5 118.9,283.4 119,283.2 119.1,283.1 119.2,282.9 119.3,282.7 119.4,282.5 119.5,282.3 119.5,282.1 119.6,282 119.7,281.7 119.8,281.3 119.9,280.9 120,280.5 120,280.3 120.1,280 120.2,279.5 120.3,279.1 120.4,278.7 120.5,278.5 120.5,278.4 120.6,278.4 120.7,278.5 120.8,278.7 120.9,279.1 121,279.5 121,279.7 121.1,280 121.2,280.4 121.3,280.8 121.4,281.2 121.5,281.5 121.5,281.7 121.6,281.8 121.7,282.1 121.8,282.3 121.9,282.5 122,282.6 122,282.7 122.1,282.8 122.2,282.9 122.3,283 122.4,283.1 122.5,283.2 122.6,283.2 122.8,283.3 123,283.5 123.3,283.5 123.5,283.6 123.8,283.7 124,283.7 124.3,283.7 124.5,283.8 124.8,283.8 125,283.8 125.3,283.8 125.5,283.9 125.8,283.9 126,283.9 126.3,283.9 126.5,283.9 126.8,283.9 127,283.9 127.3,283.9 127.5,284 127.8,284 128,284 128.3,284 128.5,284 128.8,284 129,284 129.3,284 129.5,284 129.8,284 130,284 130.3,284 130.5,284 130.8,284 131,284 131.3,284.1 131.5,284.1 131.8,284.1 132,284.1 132.3,284.1 132.5,284.1 132.8,284.1 133,284.1 133.3,284.1 133.5,284.1 133.8,284.1 134,284.1 134.3,284.1 134.5,284.1 134.8,284.1 135,284.1 135.3,284.1 135.5,284.1 135.8,284.1 136,284.1 136.3,284.1 136.5,284.1 136.8,284.1 137,284.1 137.3,284.1 137.5,284.1 137.8,284.1 138,284.1 138.3,284.1 138.5,284.1 138.8,284.1 139,284.1 139.3,284.1 139.5,284.1 139.8,284.1 140,284.1 140.3,284 140.5,284 140.8,284 141,284 141.3,284 141.5,284 141.8,284 142,284 142.3,284 142.5,284 142.8,284 143,284 143.3,283.9 143.5,283.9 143.8,283.9 144,283.8 144.3,283.8 144.5,283.7 144.8,283.6 145,283.4 145.3,283.3 145.5,283.1 145.8,282.8 146,282.5 146.3,282.1 146.5,281.7 146.8,281.2 147,280.6 147.3,280 147.5,279.3 147.8,278.6 148,277.9 148.3,277.1 148.5,276.3 148.8,275.6 149,275 149.3,274.4 149.5,273.9 149.8,273.5 150,273.3 150.3,273.2 150.5,273.2 150.8,273.2 151,273.3 151.3,273.4 151.5,273.5 151.8,273.7 152,273.9 152.3,274.1 152.5,274.4 152.8,274.6 153.1,274.9 153.3,275.2 153.6,275.6 153.8,275.9 154.1,276.2 154.3,276.6 154.6,276.9 154.8,277.3 155.1,277.6 155.3,277.9 155.6,278.3 155.8,278.6 156.1,278.9 156.3,279.2 156.6,279.5 156.8,279.7 157.1,280 157.3,280.2 157.6,280.4 157.8,280.7 158.1,280.8 158.3,281 158.6,281.2" fill="none" stroke="#e8382d" stroke-width="1.7" stroke-linejoin="round" stroke-linecap="round"/>
<path d="M170.8,288.4 171,288.4 171.3,288.4 171.5,288.4 171.8,288.4 172,288.4 172.3,288.4 172.5,288.4 172.8,288.4 173,288.4 173.3,288.4 173.5,288.3 173.8,288.3 174,288.3 174.3,288.3 174.5,288.3 174.8,288.3 175,288.2 175.3,288.2 175.5,288.2 175.8,288.2 176,288.1 176.3,288.1 176.5,288.1 176.8,288 177,288 177.3,287.9 177.5,287.8 177.8,287.8 178,287.7 178.3,287.6 178.5,287.5 178.8,287.5 179,287.4 179.3,287.2 179.5,287.1 179.6,287 179.7,286.9 179.8,286.9 179.9,286.7 180,286.6 180,286.5 180.1,286.5 180.2,286.3 180.3,286.1 180.4,285.9 180.5,285.6 180.5,285.4 180.6,285.2 180.7,284.9 180.8,284.4 180.9,283.9 181,283.2 181,282.9 181.1,282.5 181.2,281.8 181.3,281.1 181.4,280.4 181.5,280 181.5,279.8 181.6,279.8 181.7,280 181.8,280.4 181.9,281.1 182,281.8 182,282.2 182.1,282.5 182.2,283.2 182.3,283.9 182.4,284.4 182.5,284.9 182.5,285.1 182.6,285.2 182.7,285.6 182.8,285.9 182.9,286.1 183,286.3 183,286.4 183.1,286.5 183.2,286.6 183.3,286.7 183.4,286.9 183.5,286.9 183.5,287 183.6,287 183.8,287.2 184,287.3 184.3,287.4 184.5,287.5 184.8,287.5 185,287.6 185.3,287.6 185.5,287.7 185.8,287.7 186,287.7 186.3,287.7 186.5,287.8 186.8,287.8 187,287.8 187.3,287.8 187.5,287.8 187.8,287.8 188,287.8 188.3,287.8 188.5,287.9 188.8,287.9 189,287.9 189.3,287.9 189.5,287.9 189.8,287.9 190,287.9 190.3,287.9 190.5,287.9 190.8,287.9 191,287.9 191.3,287.9 191.5,287.9 191.8,287.9 192,287.9 192.3,287.9 192.5,287.9 192.8,287.9 193,288 193.3,288 193.5,288 193.8,288 194,288 194.3,288 194.5,288 194.8,288 195,288 195.3,288 195.5,288 195.8,288 196,288 196.3,288 196.5,288 196.8,288 197,288 197.3,288 197.5,288 197.8,288 198,288 198.3,288 198.5,288 198.8,288 199,288 199.3,288 199.5,288 199.8,288 200,288 200.3,288 200.5,288 200.8,288 201,287.9 201.3,287.9 201.5,287.9 201.8,287.9 202,287.9 202.3,287.9 202.5,287.9 202.8,287.9 203,287.9 203.3,287.9 203.5,287.9 203.8,287.9 204,287.9 204.3,287.9 204.5,287.9 204.8,287.8 205,287.8 205.3,287.8 205.5,287.7 205.8,287.7 206,287.6 206.3,287.5 206.5,287.4 206.8,287.2 207,287.1 207.3,286.9 207.5,286.6 207.8,286.3 208,286 208.3,285.7 208.5,285.3 208.8,284.9 209,284.5 209.3,284 209.5,283.6 209.8,283.2 210,282.8 210.3,282.5 210.5,282.2 210.8,282 211,281.9 211.3,281.8 211.5,281.8 211.8,281.8 212,281.9 212.3,281.9 212.5,282 212.8,282.1 213,282.2 213.3,282.3 213.5,282.4 213.8,282.6 214.1,282.7 214.3,282.9 214.6,283.1 214.8,283.3 215.1,283.4 215.3,283.6 215.6,283.8 215.8,284 216.1,284.2 216.3,284.4 216.6,284.5 216.8,284.7 217.1,284.9 217.3,285 217.6,285.2 217.8,285.3 218.1,285.5 218.3,285.6 218.6,285.7 218.8,285.8 219.1,285.9 219.3,286 219.6,286.1" fill="none" stroke="#1c1c1c" stroke-width="1.6" stroke-linejoin="round" stroke-linecap="round"/>
<path d="M170.8,288.5 171,288.4 171.3,288.4 171.5,288.4 171.8,288.4 172,288.4 172.3,288.4 172.5,288.4 172.8,288.4 173,288.4 173.3,288.4 173.5,288.4 173.8,288.3 174,288.3 174.3,288.3 174.5,288.3 174.8,288.3 175,288.2 175.3,288.2 175.5,288.2 175.8,288.2 176,288.2 176.3,288.1 176.5,288.1 176.8,288 177,288 177.3,287.9 177.5,287.9 177.8,287.8 178,287.7 178.3,287.7 178.5,287.6 178.8,287.5 179,287.4 179.3,287.3 179.5,287.2 179.6,287.2 179.7,287.1 179.8,287 179.9,287 180,286.9 180,286.8 180.1,286.7 180.2,286.6 180.3,286.5 180.4,286.3 180.5,286.1 180.5,286 180.6,285.8 180.7,285.6 180.8,285.3 180.9,284.9 181,284.5 181,284.3 181.1,284.1 181.2,283.7 181.3,283.3 181.4,282.9 181.5,282.7 181.5,282.6 181.6,282.6 181.7,282.7 181.8,282.9 181.9,283.3 182,283.7 182,283.9 182.1,284.1 182.2,284.5 182.3,284.9 182.4,285.3 182.5,285.6 182.5,285.7 182.6,285.8 182.7,286.1 182.8,286.3 182.9,286.5 183,286.6 183,286.7 183.1,286.7 183.2,286.9 183.3,287 183.4,287 183.5,287.1 183.5,287.2 183.6,287.2 183.8,287.3 184,287.4 184.3,287.5 184.5,287.6 184.8,287.6 185,287.6 185.3,287.7 185.5,287.7 185.8,287.7 186,287.8 186.3,287.8 186.5,287.8 186.8,287.8 187,287.8 187.3,287.8 187.5,287.8 187.8,287.8 188,287.9 188.3,287.9 188.5,287.9 188.8,287.9 189,287.9 189.3,287.9 189.5,287.9 189.8,287.9 190,287.9 190.3,287.9 190.5,287.9 190.8,287.9 191,287.9 191.3,287.9 191.5,287.9 191.8,287.9 192,287.9 192.3,287.9 192.5,287.9 192.8,288 193,288 193.3,288 193.5,288 193.8,288 194,288 194.3,288 194.5,288 194.8,288 195,288 195.3,288 195.5,288 195.8,288 196,288 196.3,288 196.5,288 196.8,288 197,288 197.3,288 197.5,288 197.8,288 198,288 198.3,288 198.5,288 198.8,288 199,288 199.3,288 199.5,288 199.8,288 200,288 200.3,288 200.5,288 200.8,288 201,288 201.3,287.9 201.5,287.9 201.8,287.9 202,287.9 202.3,287.9 202.5,287.9 202.8,287.9 203,287.9 203.3,287.9 203.5,287.9 203.8,287.9 204,287.9 204.3,287.9 204.5,287.9 204.8,287.9 205,287.8 205.3,287.8 205.5,287.8 205.8,287.7 206,287.7 206.3,287.6 206.5,287.5 206.8,287.4 207,287.2 207.3,287 207.5,286.9 207.8,286.6 208,286.4 208.3,286.1 208.5,285.8 208.8,285.4 209,285.1 209.3,284.8 209.5,284.4 209.8,284.1 210,283.8 210.3,283.5 210.5,283.3 210.8,283.1 211,283 211.3,283 211.5,283 211.8,283 212,283 212.3,283 212.5,283.1 212.8,283.2 213,283.2 213.3,283.3 213.5,283.4 213.8,283.6 214.1,283.7 214.3,283.8 214.6,284 214.8,284.1 215.1,284.2 215.3,284.4 215.6,284.5 215.8,284.7 216.1,284.8 216.3,285 216.6,285.1 216.8,285.3 217.1,285.4 217.3,285.5 217.6,285.7 217.8,285.8 218.1,285.9 218.3,286 218.6,286.1 218.8,286.2 219.1,286.2 219.3,286.3 219.6,286.4" fill="none" stroke="#e8382d" stroke-width="1.7" stroke-linejoin="round" stroke-linecap="round"/>
<path d="M231.8,290.7 232,290.7 232.3,290.7 232.5,290.7 232.8,290.7 233,290.7 233.3,290.7 233.5,290.7 233.8,290.7 234,290.7 234.3,290.7 234.5,290.6 234.8,290.6 235,290.6 235.3,290.6 235.5,290.6 235.8,290.6 236,290.6 236.3,290.6 236.5,290.5 236.8,290.5 237,290.5 237.3,290.5 237.5,290.5 237.8,290.4 238,290.4 238.3,290.4 238.5,290.3 238.8,290.3 239,290.3 239.3,290.2 239.5,290.2 239.8,290.1 240,290.1 240.3,290 240.5,289.9 240.6,289.9 240.7,289.9 240.8,289.8 240.9,289.8 241,289.7 241.1,289.7 241.2,289.6 241.3,289.5 241.4,289.4 241.5,289.3 241.5,289.2 241.6,289.1 241.7,289 241.8,288.8 241.9,288.6 242,288.3 242,288.2 242.1,288 242.2,287.7 242.3,287.4 242.4,287.2 242.5,287 242.6,286.9 242.7,287 242.8,287.2 242.9,287.4 243,287.7 243,287.9 243.1,288 243.2,288.3 243.3,288.6 243.4,288.8 243.5,288.9 243.5,289 243.6,289.1 243.7,289.2 243.8,289.3 243.9,289.4 244,289.5 244,289.6 244.1,289.6 244.2,289.6 244.3,289.7 244.4,289.7 244.5,289.8 244.6,289.8 244.8,289.9 245,289.9 245.3,290 245.5,290 245.8,290 246,290 246.3,290 246.5,290.1 246.8,290.1 247,290.1 247.3,290.1 247.5,290.1 247.8,290.1 248,290.1 248.3,290.1 248.5,290.1 248.8,290.1 249,290.1 249.3,290.1 249.5,290.1 249.8,290.1 250,290.1 250.3,290.1 250.5,290.2 250.8,290.2 251,290.2 251.3,290.2 251.5,290.2 251.8,290.2 252,290.2 252.3,290.2 252.5,290.2 252.8,290.2 253,290.2 253.3,290.2 253.5,290.2 253.8,290.2 254,290.2 254.3,290.2 254.5,290.2 254.8,290.2 255,290.2 255.3,290.2 255.5,290.2 255.8,290.2 256.1,290.2 256.3,290.2 256.6,290.2 256.8,290.2 257.1,290.2 257.3,290.2 257.6,290.2 257.8,290.2 258.1,290.2 258.3,290.2 258.6,290.2 258.8,290.2 259.1,290.2 259.3,290.2 259.6,290.2 259.8,290.2 260.1,290.2 260.3,290.2 260.6,290.2 260.8,290.2 261.1,290.2 261.3,290.2 261.6,290.2 261.8,290.2 262.1,290.2 262.3,290.2 262.6,290.2 262.8,290.2 263.1,290.2 263.3,290.2 263.6,290.2 263.8,290.2 264.1,290.2 264.3,290.1 264.6,290.1 264.8,290.1 265.1,290.1 265.3,290.1 265.6,290.1 265.8,290.1 266.1,290.1 266.3,290.1 266.6,290.1 266.8,290.1 267.1,290 267.3,290 267.6,289.9 267.8,289.9 268.1,289.8 268.3,289.8 268.6,289.7 268.8,289.6 269.1,289.5 269.3,289.3 269.6,289.2 269.8,289.1 270.1,288.9 270.3,288.8 270.6,288.6 270.8,288.5 271.1,288.3 271.3,288.2 271.6,288.1 271.8,288 272.1,288 272.3,288 272.6,288 272.8,288 273.1,288 273.3,288 273.6,288.1 273.8,288.1 274.1,288.1 274.3,288.2 274.6,288.3 274.8,288.3 275.1,288.4 275.3,288.4 275.6,288.5 275.8,288.6 276.1,288.6 276.3,288.7 276.6,288.8 276.8,288.9 277.1,288.9 277.3,289 277.6,289.1 277.8,289.2 278.1,289.2 278.3,289.3 278.6,289.3 278.8,289.4 279.1,289.5 279.3,289.5 279.6,289.6 279.8,289.6 280.1,289.7 280.3,289.7 280.6,289.7" fill="none" stroke="#1c1c1c" stroke-width="1.6" stroke-linejoin="round" stroke-linecap="round"/>
<path d="M231.8,290.7 232,290.7 232.3,290.7 232.5,290.7 232.8,290.7 233,290.7 233.3,290.7 233.5,290.7 233.8,290.7 234,290.7 234.3,290.7 234.5,290.6 234.8,290.6 235,290.6 235.3,290.6 235.5,290.6 235.8,290.6 236,290.6 236.3,290.6 236.5,290.5 236.8,290.5 237,290.5 237.3,290.5 237.5,290.5 237.8,290.5 238,290.4 238.3,290.4 238.5,290.4 238.8,290.3 239,290.3 239.3,290.3 239.5,290.2 239.8,290.2 240,290.1 240.3,290.1 240.5,290 240.6,290 240.7,290 240.8,289.9 240.9,289.9 241,289.8 241.1,289.8 241.2,289.7 241.3,289.7 241.4,289.6 241.5,289.5 241.6,289.4 241.7,289.3 241.8,289.2 241.9,289.1 242,288.9 242,288.8 242.1,288.8 242.2,288.6 242.3,288.4 242.4,288.3 242.5,288.2 242.6,288.2 242.7,288.2 242.8,288.3 242.9,288.4 243,288.6 243,288.7 243.1,288.8 243.2,288.9 243.3,289 243.4,289.2 243.5,289.3 243.6,289.4 243.7,289.5 243.8,289.6 243.9,289.6 244,289.7 244.1,289.7 244.2,289.8 244.3,289.8 244.4,289.8 244.5,289.9 244.6,289.9 244.8,289.9 245,290 245.3,290 245.5,290 245.8,290 246,290.1 246.3,290.1 246.5,290.1 246.8,290.1 247,290.1 247.3,290.1 247.5,290.1 247.8,290.1 248,290.1 248.3,290.1 248.5,290.1 248.8,290.1 249,290.1 249.3,290.1 249.5,290.1 249.8,290.1 250,290.2 250.3,290.2 250.5,290.2 250.8,290.2 251,290.2 251.3,290.2 251.5,290.2 251.8,290.2 252,290.2 252.3,290.2 252.5,290.2 252.8,290.2 253,290.2 253.3,290.2 253.5,290.2 253.8,290.2 254,290.2 254.3,290.2 254.5,290.2 254.8,290.2 255,290.2 255.3,290.2 255.5,290.2 255.8,290.2 256.1,290.2 256.3,290.2 256.6,290.2 256.8,290.2 257.1,290.2 257.3,290.2 257.6,290.2 257.8,290.2 258.1,290.2 258.3,290.2 258.6,290.2 258.8,290.2 259.1,290.2 259.3,290.2 259.6,290.2 259.8,290.2 260.1,290.2 260.3,290.2 260.6,290.2 260.8,290.2 261.1,290.2 261.3,290.2 261.6,290.2 261.8,290.2 262.1,290.2 262.3,290.2 262.6,290.2 262.8,290.2 263.1,290.2 263.3,290.2 263.6,290.1 263.8,290.1 264.1,290.1 264.3,290.1 264.6,290.1 264.8,290.1 265.1,290.1 265.3,290.1 265.6,290.1 265.8,290.1 266.1,290.1 266.3,290.1 266.6,290.1 266.8,290.1 267.1,290 267.3,290 267.6,290 267.8,289.9 268.1,289.9 268.3,289.8 268.6,289.7 268.8,289.6 269.1,289.5 269.3,289.4 269.6,289.3 269.8,289.2 270.1,289.1 270.3,288.9 270.6,288.8 270.8,288.7 271.1,288.6 271.3,288.5 271.6,288.4 271.8,288.3 272.1,288.3 272.3,288.3 272.6,288.3 272.8,288.3 273.1,288.3 273.3,288.3 273.6,288.4 273.8,288.4 274.1,288.4 274.3,288.5 274.6,288.5 274.8,288.6 275.1,288.6 275.3,288.7 275.6,288.8 275.8,288.8 276.1,288.9 276.3,289 276.6,289 276.8,289.1 277.1,289.2 277.3,289.2 277.6,289.3 277.8,289.3 278.1,289.4 278.3,289.5 278.6,289.5 278.8,289.6 279.1,289.6 279.3,289.7 279.6,289.7 279.8,289.8 280.1,289.8 280.3,289.8 280.6,289.9" fill="none" stroke="#e8382d" stroke-width="1.7" stroke-linejoin="round" stroke-linecap="round"/>
<path d="M292.8,291.8 293.1,291.8 293.3,291.8 293.6,291.8 293.8,291.8 294.1,291.8 294.3,291.8 294.6,291.8 294.8,291.8 295.1,291.8 295.3,291.8 295.6,291.8 295.8,291.8 296.1,291.8 296.3,291.8 296.6,291.8 296.8,291.8 297.1,291.8 297.3,291.8 297.6,291.8 297.8,291.8 298.1,291.8 298.3,291.8 298.6,291.8 298.8,291.8 299.1,291.7 299.3,291.7 299.6,291.7 299.8,291.7 300.1,291.7 300.3,291.7 300.6,291.7 300.8,291.7 301.1,291.7 301.3,291.7 301.6,291.7 301.7,291.6 301.8,291.6 301.9,291.6 302,291.6 302.1,291.6 302.2,291.6 302.3,291.6 302.4,291.6 302.5,291.6 302.6,291.6 302.7,291.5 302.8,291.5 302.9,291.5 303,291.5 303.1,291.4 303.2,291.4 303.3,291.3 303.4,291.3 303.5,291.3 303.6,291.3 303.7,291.3 303.8,291.3 303.9,291.3 304,291.4 304.1,291.4 304.2,291.5 304.3,291.5 304.4,291.5 304.5,291.5 304.6,291.6 304.7,291.6 304.8,291.6 304.9,291.6 305,291.6 305.1,291.6 305.2,291.6 305.3,291.6 305.4,291.6 305.5,291.6 305.6,291.7 305.8,291.7 306.1,291.7 306.3,291.7 306.6,291.7 306.8,291.7 307.1,291.7 307.3,291.7 307.6,291.7 307.8,291.7 308.1,291.7 308.3,291.7 308.6,291.7 308.8,291.7 309.1,291.7 309.3,291.7 309.6,291.7 309.8,291.7 310.1,291.7 310.3,291.7 310.6,291.7 310.8,291.7 311.1,291.7 311.3,291.7 311.6,291.7 311.8,291.7 312.1,291.7 312.3,291.7 312.6,291.7 312.8,291.7 313.1,291.7 313.3,291.7 313.6,291.7 313.8,291.7 314.1,291.7 314.3,291.7 314.6,291.7 314.8,291.7 315.1,291.7 315.3,291.7 315.6,291.7 315.8,291.7 316.1,291.7 316.3,291.7 316.6,291.7 316.8,291.7 317.1,291.7 317.3,291.7 317.6,291.7 317.8,291.7 318.1,291.7 318.3,291.7 318.6,291.7 318.8,291.7 319.1,291.7 319.3,291.7 319.6,291.7 319.8,291.7 320.1,291.7 320.3,291.7 320.6,291.7 320.8,291.7 321.1,291.7 321.3,291.7 321.6,291.7 321.8,291.7 322.1,291.7 322.3,291.7 322.6,291.7 322.8,291.7 323.1,291.7 323.3,291.7 323.6,291.7 323.8,291.7 324.1,291.7 324.3,291.7 324.6,291.7 324.8,291.7 325.1,291.7 325.3,291.7 325.6,291.7 325.8,291.7 326.1,291.7 326.3,291.7 326.6,291.7 326.8,291.7 327.1,291.7 327.3,291.7 327.6,291.6 327.8,291.6 328.1,291.6 328.3,291.6 328.6,291.6 328.8,291.6 329.1,291.5 329.3,291.5 329.6,291.5 329.8,291.4 330.1,291.4 330.3,291.3 330.6,291.2 330.8,291.2 331.1,291.1 331.3,291 331.6,291 331.8,290.9 332.1,290.8 332.3,290.8 332.6,290.7 332.8,290.7 333.1,290.7 333.3,290.7 333.6,290.7 333.8,290.7 334.1,290.7 334.3,290.7 334.6,290.7 334.8,290.7 335.1,290.8 335.3,290.8 335.6,290.8 335.8,290.8 336.1,290.9 336.3,290.9 336.6,290.9 336.8,291 337.1,291 337.3,291.1 337.6,291.1 337.8,291.1 338.1,291.2 338.3,291.2 338.6,291.2 338.8,291.3 339.1,291.3 339.3,291.3 339.6,291.4 339.8,291.4 340.1,291.4 340.3,291.4 340.6,291.5 340.8,291.5 341.1,291.5 341.3,291.5 341.6,291.6" fill="none" stroke="#1c1c1c" stroke-width="1.6" stroke-linejoin="round" stroke-linecap="round"/>
<path d="M292.8,291.8 293.1,291.8 293.3,291.8 293.6,291.8 293.8,291.8 294.1,291.8 294.3,291.8 294.6,291.8 294.8,291.8 295.1,291.8 295.3,291.8 295.6,291.8 295.8,291.8 296.1,291.8 296.3,291.8 296.6,291.8 296.8,291.8 297.1,291.8 297.3,291.8 297.6,291.8 297.8,291.8 298.1,291.8 298.3,291.8 298.6,291.8 298.8,291.8 299.1,291.7 299.3,291.7 299.6,291.7 299.8,291.7 300.1,291.7 300.3,291.7 300.6,291.7 300.8,291.7 301.1,291.7 301.3,291.7 301.6,291.7 301.7,291.7 301.8,291.7 301.9,291.6 302,291.6 302.1,291.6 302.2,291.6 302.3,291.6 302.4,291.6 302.5,291.6 302.6,291.6 302.7,291.6 302.8,291.6 302.9,291.5 303,291.5 303.1,291.5 303.2,291.5 303.3,291.5 303.4,291.4 303.5,291.4 303.6,291.4 303.7,291.4 303.8,291.4 303.9,291.5 304,291.5 304.1,291.5 304.2,291.5 304.3,291.5 304.4,291.6 304.5,291.6 304.6,291.6 304.7,291.6 304.8,291.6 304.9,291.6 305,291.6 305.1,291.6 305.2,291.6 305.3,291.6 305.4,291.7 305.5,291.7 305.6,291.7 305.8,291.7 306.1,291.7 306.3,291.7 306.6,291.7 306.8,291.7 307.1,291.7 307.3,291.7 307.6,291.7 307.8,291.7 308.1,291.7 308.3,291.7 308.6,291.7 308.8,291.7 309.1,291.7 309.3,291.7 309.6,291.7 309.8,291.7 310.1,291.7 310.3,291.7 310.6,291.7 310.8,291.7 311.1,291.7 311.3,291.7 311.6,291.7 311.8,291.7 312.1,291.7 312.3,291.7 312.6,291.7 312.8,291.7 313.1,291.7 313.3,291.7 313.6,291.7 313.8,291.7 314.1,291.7 314.3,291.7 314.6,291.7 314.8,291.7 315.1,291.7 315.3,291.7 315.6,291.7 315.8,291.7 316.1,291.7 316.3,291.7 316.6,291.7 316.8,291.7 317.1,291.7 317.3,291.7 317.6,291.7 317.8,291.7 318.1,291.7 318.3,291.7 318.6,291.7 318.8,291.7 319.1,291.7 319.3,291.7 319.6,291.7 319.8,291.7 320.1,291.7 320.3,291.7 320.6,291.7 320.8,291.7 321.1,291.7 321.3,291.7 321.6,291.7 321.8,291.7 322.1,291.7 322.3,291.7 322.6,291.7 322.8,291.7 323.1,291.7 323.3,291.7 323.6,291.7 323.8,291.7 324.1,291.7 324.3,291.7 324.6,291.7 324.8,291.7 325.1,291.7 325.3,291.7 325.6,291.7 325.8,291.7 326.1,291.7 326.3,291.7 326.6,291.7 326.8,291.7 327.1,291.7 327.3,291.7 327.6,291.7 327.8,291.6 328.1,291.6 328.3,291.6 328.6,291.6 328.8,291.6 329.1,291.6 329.3,291.5 329.6,291.5 329.8,291.4 330.1,291.4 330.3,291.4 330.6,291.3 330.8,291.2 331.1,291.2 331.3,291.1 331.6,291.1 331.8,291 332.1,291 332.3,290.9 332.6,290.9 332.8,290.8 333.1,290.8 333.3,290.8 333.6,290.8 333.8,290.8 334.1,290.8 334.3,290.8 334.6,290.9 334.8,290.9 335.1,290.9 335.3,290.9 335.6,290.9 335.8,291 336.1,291 336.3,291 336.6,291 336.8,291.1 337.1,291.1 337.3,291.1 337.6,291.2 337.8,291.2 338.1,291.2 338.3,291.3 338.6,291.3 338.8,291.3 339.1,291.3 339.3,291.4 339.6,291.4 339.8,291.4 340.1,291.4 340.3,291.5 340.6,291.5 340.8,291.5 341.1,291.5 341.3,291.5 341.6,291.6" fill="none" stroke="#e8382d" stroke-width="1.7" stroke-linejoin="round" stroke-linecap="round"/>
<path d="M49.4,352.3 49.6,352.3 49.9,352.2 50.1,352.2 50.4,352.2 50.6,352.1 50.9,352.1 51.1,352 51.4,352 51.6,351.9 51.9,351.9 52.1,351.8 52.4,351.7 52.6,351.7 52.9,351.6 53.1,351.5 53.4,351.4 53.6,351.3 53.9,351.2 54.1,351.1 54.4,351 54.6,350.8 54.9,350.7 55.1,350.5 55.4,350.3 55.6,350.1 55.9,349.8 56.1,349.5 56.4,349.2 56.6,348.8 56.9,348.4 57.1,347.8 57.4,347.2 57.6,346.4 57.9,345.4 58.1,344 58.2,343.7 58.3,343.1 58.4,342.3 58.5,341.5 58.6,340.5 58.6,340 58.7,339.5 58.8,338.3 58.9,336.9 59,335.4 59.1,333.7 59.1,332.7 59.2,331.7 59.3,329.6 59.4,327.2 59.5,324.5 59.6,321.7 59.6,320.3 59.7,318.8 59.8,316 59.9,313.3 60,311.2 60.1,309.8 60.1,309.5 60.2,309.3 60.3,309.8 60.4,311.2 60.5,313.3 60.6,315.9 60.6,317.3 60.7,318.7 60.8,321.5 60.9,324.3 61,326.8 61.1,329.1 61.1,330.2 61.2,331.2 61.3,333.1 61.4,334.7 61.5,336.1 61.6,337.4 61.6,337.9 61.7,338.5 61.8,339.4 61.9,340.3 62,341 62.1,341.7 62.1,342 62.2,342.3 62.4,343.3 62.6,344.3 62.9,345 63.1,345.6 63.4,346.1 63.6,346.4 63.9,346.7 64.1,347 64.4,347.2 64.6,347.4 64.9,347.6 65.1,347.7 65.4,347.8 65.6,347.9 65.9,348 66.1,348.1 66.4,348.2 66.6,348.2 66.9,348.3 67.1,348.3 67.4,348.4 67.6,348.4 67.9,348.5 68.1,348.5 68.4,348.5 68.6,348.6 68.9,348.6 69.1,348.6 69.4,348.6 69.6,348.7 69.9,348.7 70.1,348.7 70.4,348.7 70.6,348.7 70.9,348.8 71.1,348.8 71.4,348.8 71.6,348.8 71.9,348.8 72.1,348.8 72.4,348.8 72.6,348.8 72.9,348.9 73.1,348.9 73.4,348.9 73.6,348.9 73.9,348.9 74.1,348.9 74.4,348.9 74.6,348.9 74.9,348.9 75.1,348.9 75.4,348.9 75.6,348.9 75.9,348.9 76.1,348.9 76.4,348.9 76.6,348.9 76.9,348.9 77.1,348.9 77.4,348.9 77.6,348.9 77.9,348.9 78.1,348.9 78.4,348.9 78.6,348.9 78.9,348.9 79.1,348.9 79.4,348.9 79.6,348.9 79.9,348.9 80.1,348.9 80.4,348.9 80.6,348.9 80.9,348.9 81.1,348.9 81.4,348.9 81.6,348.9 81.9,348.9 82.1,348.9 82.4,348.8 82.6,348.8 82.9,348.8 83.1,348.8 83.4,348.8 83.6,348.8 83.9,348.8 84.1,348.8 84.4,348.7 84.6,348.7 84.9,348.6 85.1,348.6 85.4,348.5 85.6,348.4 85.9,348.3 86.1,348.2 86.4,348.1 86.6,347.9 86.9,347.7 87.1,347.5 87.4,347.4 87.6,347.2 87.9,347 88.1,346.8 88.4,346.6 88.6,346.4 88.9,346.3 89.1,346.2 89.4,346.1 89.6,346.1 89.9,346.1 90.1,346.2 90.4,346.2 90.6,346.3 90.9,346.4 91.1,346.5 91.4,346.6 91.6,346.7 91.9,346.8 92.1,346.9 92.4,347.1 92.7,347.2 92.9,347.4 93.2,347.5 93.4,347.7 93.7,347.9 93.9,348 94.2,348.2 94.4,348.4 94.7,348.5 94.9,348.7 95.2,348.9 95.4,349.1 95.7,349.2 95.9,349.4 96.2,349.5 96.4,349.7 96.7,349.9 96.9,350 97.2,350.2 97.4,350.3 97.7,350.4 97.9,350.6 98.2,350.7" fill="none" stroke="#1c1c1c" stroke-width="1.6" stroke-linejoin="round" stroke-linecap="round"/>
<path d="M49.4,352.4 49.6,352.3 49.9,352.3 50.1,352.3 50.4,352.3 50.6,352.3 50.9,352.2 51.1,352.2 51.4,352.1 51.6,352.1 51.9,352 52.1,352 52.4,351.9 52.6,351.9 52.9,351.8 53.1,351.7 53.4,351.7 53.6,351.6 53.9,351.5 54.1,351.4 54.4,351.3 54.6,351.2 54.9,351.1 55.1,351 55.4,350.8 55.6,350.7 55.9,350.5 56.1,350.3 56.4,350 56.6,349.7 56.9,349.4 57.1,349 57.4,348.5 57.6,348 57.9,347.3 58.1,346.3 58.2,346.1 58.3,345.6 58.4,345.1 58.5,344.5 58.6,343.9 58.6,343.5 58.7,343.1 58.8,342.3 58.9,341.4 59,340.4 59.1,339.2 59.1,338.5 59.2,337.9 59.3,336.4 59.4,334.8 59.5,333 59.6,331.1 59.6,330.1 59.7,329.1 59.8,327.2 59.9,325.4 60,324 60.1,323.1 60.1,322.8 60.2,322.7 60.3,323.1 60.4,324 60.5,325.4 60.6,327.1 60.6,328 60.7,329 60.8,330.9 60.9,332.7 61,334.4 61.1,336 61.1,336.7 61.2,337.4 61.3,338.6 61.4,339.7 61.5,340.7 61.6,341.5 61.6,341.9 61.7,342.2 61.8,342.9 61.9,343.5 62,344 62.1,344.4 62.1,344.6 62.2,344.8 62.4,345.5 62.6,346.1 62.9,346.6 63.1,347 63.4,347.3 63.6,347.6 63.9,347.8 64.1,348 64.4,348.1 64.6,348.2 64.9,348.3 65.1,348.4 65.4,348.5 65.6,348.6 65.9,348.6 66.1,348.7 66.4,348.7 66.6,348.8 66.9,348.8 67.1,348.8 67.4,348.9 67.6,348.9 67.9,348.9 68.1,349 68.4,349 68.6,349 68.9,349 69.1,349 69.4,349.1 69.6,349.1 69.9,349.1 70.1,349.1 70.4,349.1 70.6,349.1 70.9,349.1 71.1,349.2 71.4,349.2 71.6,349.2 71.9,349.2 72.1,349.2 72.4,349.2 72.6,349.2 72.9,349.2 73.1,349.2 73.4,349.2 73.6,349.2 73.9,349.2 74.1,349.2 74.4,349.2 74.6,349.3 74.9,349.3 75.1,349.3 75.4,349.3 75.6,349.3 75.9,349.3 76.1,349.3 76.4,349.3 76.6,349.3 76.9,349.3 77.1,349.3 77.4,349.3 77.6,349.2 77.9,349.2 78.1,349.2 78.4,349.2 78.6,349.2 78.9,349.2 79.1,349.2 79.4,349.2 79.6,349.2 79.9,349.2 80.1,349.2 80.4,349.2 80.6,349.2 80.9,349.2 81.1,349.2 81.4,349.2 81.6,349.2 81.9,349.2 82.1,349.2 82.4,349.2 82.6,349.2 82.9,349.2 83.1,349.1 83.4,349.1 83.6,349.1 83.9,349.1 84.1,349.1 84.4,349.1 84.6,349 84.9,349 85.1,348.9 85.4,348.9 85.6,348.8 85.9,348.7 86.1,348.6 86.4,348.5 86.6,348.3 86.9,348.2 87.1,348 87.4,347.8 87.6,347.6 87.9,347.5 88.1,347.3 88.4,347.1 88.6,347 88.9,346.9 89.1,346.8 89.4,346.7 89.6,346.7 89.9,346.7 90.1,346.8 90.4,346.8 90.6,346.9 90.9,347 91.1,347 91.4,347.1 91.6,347.2 91.9,347.4 92.1,347.5 92.4,347.6 92.7,347.7 92.9,347.9 93.2,348 93.4,348.2 93.7,348.3 93.9,348.5 94.2,348.7 94.4,348.8 94.7,349 94.9,349.1 95.2,349.3 95.4,349.5 95.7,349.6 95.9,349.8 96.2,349.9 96.4,350.1 96.7,350.2 96.9,350.4 97.2,350.5 97.4,350.6 97.7,350.8 97.9,350.9 98.2,351" fill="none" stroke="#e8382d" stroke-width="1.7" stroke-linejoin="round" stroke-linecap="round"/>
<path d="M110.6,352.7 110.8,352.7 111.1,352.6 111.3,352.6 111.6,352.6 111.8,352.6 112.1,352.6 112.3,352.6 112.6,352.6 112.8,352.5 113.1,352.5 113.3,352.5 113.6,352.5 113.8,352.4 114.1,352.4 114.3,352.4 114.6,352.3 114.8,352.3 115.1,352.2 115.3,352.2 115.6,352.1 115.8,352.1 116.1,352 116.3,351.9 116.6,351.8 116.8,351.7 117.1,351.6 117.3,351.5 117.6,351.3 117.8,351.1 118.1,350.9 118.3,350.6 118.6,350.2 118.8,349.8 119.1,349.2 119.3,348.4 119.4,348.3 119.5,347.9 119.6,347.4 119.7,347 119.8,346.4 119.8,346.1 119.9,345.8 120,345.1 120.1,344.3 120.2,343.3 120.3,342.3 120.3,341.7 120.4,341.1 120.5,339.8 120.6,338.3 120.7,336.7 120.8,334.9 120.8,334 120.9,333.1 121,331.4 121.1,329.7 121.2,328.4 121.3,327.5 121.3,327.3 121.4,327.2 121.5,327.5 121.6,328.4 121.7,329.7 121.8,331.3 121.8,332.2 121.9,333.1 122,334.9 122.1,336.6 122.2,338.3 122.3,339.7 122.3,340.4 122.4,341 122.5,342.2 122.6,343.2 122.7,344.1 122.8,344.9 122.8,345.3 122.9,345.6 123,346.2 123.1,346.8 123.2,347.2 123.3,347.7 123.3,347.8 123.4,348 123.6,348.7 123.8,349.3 124.1,349.7 124.3,350.1 124.6,350.4 124.8,350.6 125.1,350.8 125.3,351 125.6,351.1 125.8,351.3 126.1,351.4 126.3,351.4 126.6,351.5 126.8,351.6 127.1,351.6 127.3,351.7 127.6,351.7 127.8,351.8 128.1,351.8 128.3,351.8 128.6,351.9 128.8,351.9 129.1,351.9 129.3,351.9 129.6,352 129.8,352 130.1,352 130.3,352 130.6,352 130.8,352.1 131.1,352.1 131.3,352.1 131.6,352.1 131.8,352.1 132.1,352.1 132.3,352.1 132.6,352.1 132.8,352.1 133.1,352.1 133.3,352.2 133.6,352.2 133.8,352.2 134.1,352.2 134.3,352.2 134.6,352.2 134.8,352.2 135.1,352.2 135.3,352.2 135.6,352.2 135.8,352.2 136.1,352.2 136.3,352.2 136.6,352.2 136.8,352.2 137.1,352.2 137.3,352.2 137.6,352.2 137.8,352.2 138.1,352.2 138.3,352.2 138.6,352.2 138.8,352.2 139.1,352.2 139.3,352.2 139.6,352.2 139.8,352.2 140.1,352.2 140.3,352.2 140.6,352.2 140.8,352.2 141.1,352.2 141.3,352.2 141.6,352.2 141.8,352.2 142.1,352.2 142.3,352.2 142.6,352.2 142.8,352.2 143.1,352.2 143.3,352.2 143.6,352.2 143.8,352.2 144.1,352.2 144.3,352.2 144.6,352.1 144.8,352.1 145.1,352.1 145.3,352.1 145.6,352.1 145.8,352.1 146.1,352.1 146.3,352 146.6,352 146.8,351.9 147.1,351.9 147.3,351.8 147.6,351.8 147.8,351.7 148.1,351.6 148.3,351.5 148.6,351.4 148.8,351.3 149.1,351.2 149.3,351.1 149.6,351 149.8,350.9 150.1,350.9 150.3,350.8 150.6,350.8 150.8,350.8 151.1,350.8 151.3,350.8 151.6,350.8 151.8,350.8 152.1,350.9 152.3,350.9 152.6,351 152.8,351 153.1,351.1 153.3,351.1 153.6,351.2 153.8,351.2 154.1,351.3 154.3,351.4 154.6,351.5 154.8,351.5 155.1,351.6 155.3,351.7 155.6,351.8 155.8,351.9 156.1,351.9 156.3,352 156.6,352.1 156.8,352.2 157.1,352.2 157.3,352.3 157.6,352.4 157.8,352.4 158.1,352.5 158.3,352.6 158.6,352.6 158.8,352.7 159.1,352.8 159.3,352.8" fill="none" stroke="#1c1c1c" stroke-width="1.6" stroke-linejoin="round" stroke-linecap="round"/>
<path d="M110.6,352.7 110.8,352.7 111.1,352.7 111.3,352.7 111.6,352.7 111.8,352.7 112.1,352.7 112.3,352.7 112.6,352.6 112.8,352.6 113.1,352.6 113.3,352.6 113.6,352.6 113.8,352.6 114.1,352.5 114.3,352.5 114.6,352.5 114.8,352.5 115.1,352.4 115.3,352.4 115.6,352.4 115.8,352.3 116.1,352.3 116.3,352.2 116.6,352.2 116.8,352.1 117.1,352 117.3,351.9 117.6,351.8 117.8,351.6 118.1,351.5 118.3,351.3 118.6,351 118.8,350.7 119.1,350.3 119.3,349.8 119.4,349.6 119.5,349.4 119.6,349.1 119.7,348.7 119.8,348.3 119.8,348.1 119.9,347.9 120,347.4 120.1,346.8 120.2,346.2 120.3,345.4 120.3,345 120.4,344.6 120.5,343.6 120.6,342.6 120.7,341.4 120.8,340.2 120.8,339.5 120.9,338.9 121,337.6 121.1,336.5 121.2,335.5 121.3,334.9 121.3,334.7 121.4,334.7 121.5,334.9 121.6,335.5 121.7,336.4 121.8,337.6 121.8,338.2 121.9,338.9 122,340.2 122.1,341.4 122.2,342.6 122.3,343.6 122.3,344.1 122.4,344.5 122.5,345.4 122.6,346.1 122.7,346.7 122.8,347.3 122.8,347.6 122.9,347.8 123,348.2 123.1,348.6 123.2,349 123.3,349.3 123.3,349.4 123.4,349.5 123.6,350 123.8,350.4 124.1,350.8 124.3,351 124.6,351.2 124.8,351.4 125.1,351.5 125.3,351.7 125.6,351.8 125.8,351.8 126.1,351.9 126.3,352 126.6,352 126.8,352.1 127.1,352.1 127.3,352.1 127.6,352.2 127.8,352.2 128.1,352.2 128.3,352.3 128.6,352.3 128.8,352.3 129.1,352.3 129.3,352.3 129.6,352.3 129.8,352.4 130.1,352.4 130.3,352.4 130.6,352.4 130.8,352.4 131.1,352.4 131.3,352.4 131.6,352.4 131.8,352.5 132.1,352.5 132.3,352.5 132.6,352.5 132.8,352.5 133.1,352.5 133.3,352.5 133.6,352.5 133.8,352.5 134.1,352.5 134.3,352.5 134.6,352.5 134.8,352.5 135.1,352.5 135.3,352.5 135.6,352.5 135.8,352.5 136.1,352.5 136.3,352.5 136.6,352.5 136.8,352.5 137.1,352.5 137.3,352.5 137.6,352.5 137.8,352.5 138.1,352.5 138.3,352.5 138.6,352.5 138.8,352.5 139.1,352.5 139.3,352.5 139.6,352.5 139.8,352.5 140.1,352.5 140.3,352.5 140.6,352.5 140.8,352.5 141.1,352.5 141.3,352.5 141.6,352.5 141.8,352.5 142.1,352.5 142.3,352.5 142.6,352.5 142.8,352.5 143.1,352.5 143.3,352.5 143.6,352.5 143.8,352.5 144.1,352.5 144.3,352.5 144.6,352.5 144.8,352.5 145.1,352.4 145.3,352.4 145.6,352.4 145.8,352.4 146.1,352.4 146.3,352.3 146.6,352.3 146.8,352.3 147.1,352.2 147.3,352.1 147.6,352.1 147.8,352 148.1,351.9 148.3,351.8 148.6,351.7 148.8,351.6 149.1,351.5 149.3,351.4 149.6,351.3 149.8,351.2 150.1,351.2 150.3,351.1 150.6,351.1 150.8,351 151.1,351 151.3,351 151.6,351.1 151.8,351.1 152.1,351.1 152.3,351.2 152.6,351.2 152.8,351.2 153.1,351.3 153.3,351.3 153.6,351.4 153.8,351.5 154.1,351.5 154.3,351.6 154.6,351.6 154.8,351.7 155.1,351.8 155.3,351.8 155.6,351.9 155.8,352 156.1,352.1 156.3,352.1 156.6,352.2 156.8,352.3 157.1,352.3 157.3,352.4 157.6,352.4 157.8,352.5 158.1,352.6 158.3,352.6 158.6,352.7 158.8,352.7 159.1,352.8 159.3,352.8" fill="none" stroke="#e8382d" stroke-width="1.7" stroke-linejoin="round" stroke-linecap="round"/>
<path d="M171.6,353.6 171.8,353.6 172.1,353.6 172.3,353.6 172.6,353.6 172.8,353.6 173.1,353.6 173.3,353.6 173.6,353.5 173.8,353.5 174.1,353.5 174.3,353.5 174.6,353.5 174.8,353.4 175.1,353.4 175.3,353.4 175.6,353.4 175.8,353.3 176.1,353.3 176.3,353.3 176.6,353.2 176.8,353.2 177.1,353.1 177.3,353.1 177.6,353 177.8,353 178.1,352.9 178.3,352.8 178.6,352.7 178.8,352.5 179.1,352.4 179.3,352.2 179.6,351.9 179.8,351.6 180.1,351.2 180.3,350.7 180.4,350.6 180.5,350.4 180.6,350.1 180.7,349.7 180.8,349.4 180.8,349.2 180.9,349 181,348.5 181.1,348 181.2,347.4 181.3,346.7 181.3,346.3 181.4,345.9 181.5,345 181.6,344 181.7,343 181.8,341.8 181.8,341.2 181.9,340.6 182,339.5 182.1,338.4 182.2,337.5 182.3,336.9 182.3,336.8 182.4,336.7 182.5,336.9 182.6,337.5 182.7,338.4 182.8,339.4 182.8,340 182.9,340.6 183,341.8 183.1,342.9 183.2,344 183.3,344.9 183.3,345.4 183.4,345.8 183.5,346.6 183.6,347.2 183.7,347.8 183.8,348.3 183.8,348.6 183.9,348.8 184,349.2 184.1,349.5 184.2,349.9 184.3,350.1 184.3,350.3 184.4,350.4 184.6,350.8 184.8,351.2 185.1,351.5 185.3,351.7 185.6,351.9 185.8,352.1 186.1,352.2 186.3,352.3 186.6,352.4 186.8,352.5 187.1,352.6 187.3,352.6 187.6,352.7 187.8,352.7 188.1,352.7 188.3,352.8 188.6,352.8 188.8,352.8 189.1,352.9 189.3,352.9 189.6,352.9 189.8,352.9 190.1,352.9 190.3,352.9 190.6,353 190.8,353 191.1,353 191.3,353 191.6,353 191.8,353 192.1,353 192.3,353 192.6,353 192.8,353.1 193.1,353.1 193.3,353.1 193.6,353.1 193.8,353.1 194.1,353.1 194.3,353.1 194.6,353.1 194.8,353.1 195.1,353.1 195.3,353.1 195.6,353.1 195.8,353.1 196.1,353.1 196.3,353.1 196.6,353.1 196.8,353.1 197.1,353.1 197.3,353.1 197.6,353.1 197.8,353.1 198.1,353.1 198.3,353.1 198.6,353.1 198.8,353.1 199.1,353.1 199.3,353.1 199.6,353.1 199.8,353.1 200.1,353.1 200.3,353.1 200.6,353.1 200.8,353.1 201.1,353.1 201.3,353.1 201.6,353.1 201.8,353.1 202.1,353.1 202.3,353.1 202.6,353.1 202.8,353.1 203.1,353.1 203.3,353.1 203.6,353.1 203.8,353.1 204.1,353.1 204.3,353.1 204.6,353.1 204.8,353.1 205.1,353.1 205.3,353.1 205.6,353.1 205.8,353.1 206.1,353.1 206.3,353 206.6,353 206.8,353 207.1,353 207.3,353 207.6,353 207.8,352.9 208.1,352.9 208.3,352.9 208.6,352.8 208.8,352.8 209.1,352.7 209.3,352.7 209.6,352.6 209.8,352.6 210.1,352.5 210.3,352.5 210.6,352.4 210.8,352.4 211.1,352.3 211.3,352.3 211.6,352.3 211.8,352.3 212.1,352.3 212.3,352.3 212.6,352.3 212.8,352.3 213.1,352.3 213.3,352.4 213.6,352.4 213.8,352.4 214.1,352.5 214.3,352.5 214.6,352.6 214.9,352.6 215.1,352.7 215.4,352.7 215.6,352.8 215.9,352.8 216.1,352.9 216.4,352.9 216.6,353 216.9,353 217.1,353.1 217.4,353.1 217.6,353.2 217.9,353.2 218.1,353.3 218.4,353.3 218.6,353.4 218.9,353.4 219.1,353.5 219.4,353.5 219.6,353.6 219.9,353.6 220.1,353.7 220.4,353.7" fill="none" stroke="#1c1c1c" stroke-width="1.6" stroke-linejoin="round" stroke-linecap="round"/>
<path d="M171.6,353.7 171.8,353.7 172.1,353.6 172.3,353.6 172.6,353.6 172.8,353.6 173.1,353.6 173.3,353.6 173.6,353.6 173.8,353.6 174.1,353.6 174.3,353.6 174.6,353.6 174.8,353.6 175.1,353.5 175.3,353.5 175.6,353.5 175.8,353.5 176.1,353.5 176.3,353.4 176.6,353.4 176.8,353.4 177.1,353.4 177.3,353.3 177.6,353.3 177.8,353.2 178.1,353.2 178.3,353.1 178.6,353 178.8,353 179.1,352.8 179.3,352.7 179.6,352.6 179.8,352.4 180.1,352.1 180.3,351.8 180.4,351.7 180.5,351.5 180.6,351.3 180.7,351.1 180.8,350.9 180.8,350.7 180.9,350.6 181,350.3 181.1,349.9 181.2,349.5 181.3,349.1 181.3,348.8 181.4,348.5 181.5,348 181.6,347.3 181.7,346.6 181.8,345.8 181.8,345.4 181.9,345 182,344.2 182.1,343.5 182.2,342.9 182.3,342.5 182.3,342.4 182.4,342.4 182.5,342.5 182.6,342.9 182.7,343.5 182.8,344.2 182.8,344.6 182.9,345 183,345.8 183.1,346.6 183.2,347.3 183.3,347.9 183.3,348.2 183.4,348.5 183.5,349 183.6,349.5 183.7,349.9 183.8,350.2 183.8,350.4 183.9,350.5 184,350.8 184.1,351 184.2,351.2 184.3,351.4 184.3,351.5 184.4,351.6 184.6,351.9 184.8,352.1 185.1,352.3 185.3,352.5 185.6,352.6 185.8,352.7 186.1,352.8 186.3,352.9 186.6,352.9 186.8,353 187.1,353 187.3,353.1 187.6,353.1 187.8,353.1 188.1,353.2 188.3,353.2 188.6,353.2 188.8,353.2 189.1,353.2 189.3,353.3 189.6,353.3 189.8,353.3 190.1,353.3 190.3,353.3 190.6,353.3 190.8,353.3 191.1,353.3 191.3,353.3 191.6,353.4 191.8,353.4 192.1,353.4 192.3,353.4 192.6,353.4 192.8,353.4 193.1,353.4 193.3,353.4 193.6,353.4 193.8,353.4 194.1,353.4 194.3,353.4 194.6,353.4 194.8,353.4 195.1,353.4 195.3,353.4 195.6,353.4 195.8,353.4 196.1,353.4 196.3,353.4 196.6,353.4 196.8,353.4 197.1,353.4 197.3,353.4 197.6,353.4 197.8,353.4 198.1,353.4 198.3,353.4 198.6,353.4 198.8,353.4 199.1,353.4 199.3,353.4 199.6,353.4 199.8,353.4 200.1,353.4 200.3,353.4 200.6,353.4 200.8,353.4 201.1,353.4 201.3,353.4 201.6,353.4 201.8,353.4 202.1,353.4 202.3,353.4 202.6,353.4 202.8,353.4 203.1,353.4 203.3,353.4 203.6,353.4 203.8,353.4 204.1,353.4 204.3,353.4 204.6,353.4 204.8,353.4 205.1,353.4 205.3,353.4 205.6,353.4 205.8,353.4 206.1,353.4 206.3,353.4 206.6,353.3 206.8,353.3 207.1,353.3 207.3,353.3 207.6,353.3 207.8,353.3 208.1,353.2 208.3,353.2 208.6,353.1 208.8,353.1 209.1,353 209.3,353 209.6,352.9 209.8,352.9 210.1,352.8 210.3,352.7 210.6,352.7 210.8,352.6 211.1,352.6 211.3,352.6 211.6,352.5 211.8,352.5 212.1,352.5 212.3,352.5 212.6,352.6 212.8,352.6 213.1,352.6 213.3,352.6 213.6,352.6 213.8,352.7 214.1,352.7 214.3,352.7 214.6,352.8 214.9,352.8 215.1,352.8 215.4,352.9 215.6,352.9 215.9,353 216.1,353 216.4,353.1 216.6,353.1 216.9,353.2 217.1,353.2 217.4,353.3 217.6,353.3 217.9,353.3 218.1,353.4 218.4,353.4 218.6,353.5 218.9,353.5 219.1,353.5 219.4,353.6 219.6,353.6 219.9,353.7 220.1,353.7 220.4,353.7" fill="none" stroke="#e8382d" stroke-width="1.7" stroke-linejoin="round" stroke-linecap="round"/>
<path d="M232.6,354.3 232.8,354.3 233.1,354.3 233.3,354.3 233.6,354.3 233.8,354.3 234.1,354.3 234.3,354.3 234.6,354.3 234.8,354.2 235.1,354.2 235.3,354.2 235.6,354.2 235.8,354.2 236.1,354.2 236.3,354.2 236.6,354.2 236.8,354.2 237.1,354.2 237.3,354.1 237.6,354.1 237.8,354.1 238.1,354.1 238.3,354.1 238.6,354.1 238.8,354 239.1,354 239.3,354 239.6,353.9 239.8,353.9 240.1,353.8 240.3,353.7 240.6,353.6 240.8,353.5 241.1,353.4 241.3,353.2 241.4,353.1 241.5,353.1 241.6,352.9 241.7,352.8 241.8,352.7 241.8,352.6 241.9,352.5 242,352.4 242.1,352.2 242.2,351.9 242.3,351.7 242.3,351.6 242.4,351.4 242.5,351.1 242.6,350.7 242.7,350.3 242.8,349.9 242.8,349.7 242.9,349.5 243,349.1 243.1,348.7 243.2,348.4 243.3,348.1 243.4,348.1 243.5,348.1 243.6,348.4 243.7,348.7 243.8,349.1 243.8,349.3 243.9,349.5 244,349.9 244.1,350.3 244.2,350.7 244.3,351.1 244.3,351.2 244.4,351.4 244.5,351.6 244.6,351.9 244.7,352.1 244.8,352.3 244.8,352.4 244.9,352.5 245,352.6 245.1,352.7 245.2,352.8 245.3,352.9 245.3,353 245.4,353 245.6,353.2 245.8,353.3 246.1,353.4 246.3,353.5 246.6,353.6 246.8,353.7 247.1,353.7 247.3,353.7 247.6,353.8 247.8,353.8 248.1,353.8 248.3,353.8 248.6,353.9 248.8,353.9 249.1,353.9 249.3,353.9 249.6,353.9 249.8,353.9 250.1,353.9 250.3,353.9 250.6,353.9 250.8,354 251.1,354 251.3,354 251.6,354 251.8,354 252.1,354 252.3,354 252.6,354 252.8,354 253.1,354 253.3,354 253.6,354 253.8,354 254.1,354 254.3,354 254.6,354 254.8,354 255.1,354 255.3,354 255.6,354 255.8,354 256.1,354 256.4,354 256.6,354 256.9,354 257.1,354 257.4,354 257.6,354.1 257.9,354.1 258.1,354.1 258.4,354.1 258.6,354.1 258.9,354.1 259.1,354.1 259.4,354 259.6,354 259.9,354 260.1,354 260.4,354 260.6,354 260.9,354 261.1,354 261.4,354 261.6,354 261.9,354 262.1,354 262.4,354 262.6,354 262.9,354 263.1,354 263.4,354 263.6,354 263.9,354 264.1,354 264.4,354 264.6,354 264.9,354 265.1,354 265.4,354 265.6,354 265.9,354 266.1,354 266.4,354 266.6,354 266.9,354 267.1,354 267.4,354 267.6,354 267.9,354 268.1,353.9 268.4,353.9 268.6,353.9 268.9,353.9 269.1,353.9 269.4,353.9 269.6,353.8 269.9,353.8 270.1,353.8 270.4,353.7 270.6,353.7 270.9,353.6 271.1,353.6 271.4,353.6 271.6,353.5 271.9,353.5 272.1,353.5 272.4,353.4 272.6,353.4 272.9,353.4 273.1,353.4 273.4,353.4 273.6,353.4 273.9,353.4 274.1,353.4 274.4,353.4 274.6,353.4 274.9,353.5 275.1,353.5 275.4,353.5 275.6,353.5 275.9,353.5 276.1,353.6 276.4,353.6 276.6,353.6 276.9,353.6 277.1,353.7 277.4,353.7 277.6,353.7 277.9,353.7 278.1,353.8 278.4,353.8 278.6,353.8 278.9,353.8 279.1,353.9 279.4,353.9 279.6,353.9 279.9,353.9 280.1,353.9 280.4,354 280.6,354 280.9,354 281.1,354 281.4,354" fill="none" stroke="#1c1c1c" stroke-width="1.6" stroke-linejoin="round" stroke-linecap="round"/>
<path d="M232.6,354.3 232.8,354.3 233.1,354.3 233.3,354.3 233.6,354.3 233.8,354.3 234.1,354.3 234.3,354.3 234.6,354.3 234.8,354.3 235.1,354.3 235.3,354.3 235.6,354.2 235.8,354.2 236.1,354.2 236.3,354.2 236.6,354.2 236.8,354.2 237.1,354.2 237.3,354.2 237.6,354.2 237.8,354.2 238.1,354.1 238.3,354.1 238.6,354.1 238.8,354.1 239.1,354.1 239.3,354 239.6,354 239.8,353.9 240.1,353.9 240.3,353.8 240.6,353.8 240.8,353.7 241.1,353.6 241.3,353.4 241.4,353.4 241.5,353.3 241.6,353.2 241.7,353.1 241.8,353 241.9,352.9 242,352.8 242.1,352.6 242.2,352.5 242.3,352.3 242.3,352.2 242.4,352.1 242.5,351.8 242.6,351.6 242.7,351.3 242.8,351 242.8,350.8 242.9,350.6 243,350.3 243.1,350 243.2,349.8 243.3,349.6 243.4,349.6 243.5,349.6 243.6,349.8 243.7,350 243.8,350.3 243.8,350.5 243.9,350.6 244,350.9 244.1,351.2 244.2,351.5 244.3,351.8 244.3,351.9 244.4,352 244.5,352.2 244.6,352.4 244.7,352.6 244.8,352.7 244.8,352.8 244.9,352.8 245,353 245.1,353.1 245.2,353.1 245.3,353.2 245.4,353.3 245.6,353.4 245.8,353.5 246.1,353.6 246.3,353.6 246.6,353.7 246.8,353.7 247.1,353.8 247.3,353.8 247.6,353.8 247.8,353.9 248.1,353.9 248.3,353.9 248.6,353.9 248.8,353.9 249.1,353.9 249.3,353.9 249.6,353.9 249.8,354 250.1,354 250.3,354 250.6,354 250.8,354 251.1,354 251.3,354 251.6,354 251.8,354 252.1,354 252.3,354 252.6,354 252.8,354 253.1,354 253.3,354 253.6,354 253.8,354 254.1,354 254.3,354 254.6,354 254.8,354 255.1,354 255.3,354 255.6,354 255.8,354 256.1,354.1 256.4,354.1 256.6,354.1 256.9,354.1 257.1,354.1 257.4,354.1 257.6,354.1 257.9,354.1 258.1,354.1 258.4,354.1 258.6,354.1 258.9,354.1 259.1,354.1 259.4,354.1 259.6,354.1 259.9,354.1 260.1,354.1 260.4,354 260.6,354 260.9,354 261.1,354 261.4,354 261.6,354 261.9,354 262.1,354 262.4,354 262.6,354 262.9,354 263.1,354 263.4,354 263.6,354 263.9,354 264.1,354 264.4,354 264.6,354 264.9,354 265.1,354 265.4,354 265.6,354 265.9,354 266.1,354 266.4,354 266.6,354 266.9,354 267.1,354 267.4,354 267.6,354 267.9,354 268.1,353.9 268.4,353.9 268.6,353.9 268.9,353.9 269.1,353.9 269.4,353.9 269.6,353.8 269.9,353.8 270.1,353.8 270.4,353.7 270.6,353.7 270.9,353.6 271.1,353.6 271.4,353.6 271.6,353.5 271.9,353.5 272.1,353.5 272.4,353.4 272.6,353.4 272.9,353.4 273.1,353.4 273.4,353.4 273.6,353.4 273.9,353.4 274.1,353.4 274.4,353.4 274.6,353.4 274.9,353.5 275.1,353.5 275.4,353.5 275.6,353.5 275.9,353.5 276.1,353.6 276.4,353.6 276.6,353.6 276.9,353.6 277.1,353.7 277.4,353.7 277.6,353.7 277.9,353.7 278.1,353.8 278.4,353.8 278.6,353.8 278.9,353.8 279.1,353.9 279.4,353.9 279.6,353.9 279.9,353.9 280.1,353.9 280.4,354 280.6,354 280.9,354 281.1,354 281.4,354" fill="none" stroke="#e8382d" stroke-width="1.7" stroke-linejoin="round" stroke-linecap="round"/>
<path d="M293.6,354.9 293.9,354.9 294.1,354.9 294.4,354.9 294.6,354.9 294.9,354.9 295.1,354.9 295.4,354.9 295.6,354.9 295.9,354.9 296.1,354.9 296.4,354.9 296.6,354.9 296.9,354.9 297.1,354.9 297.4,354.9 297.6,354.9 297.9,354.9 298.1,354.9 298.4,354.9 298.6,354.9 298.9,354.9 299.1,354.9 299.4,354.9 299.6,354.9 299.9,354.9 300.1,354.9 300.4,354.9 300.6,354.9 300.9,354.9 301.1,354.9 301.4,354.8 301.6,354.8 301.9,354.8 302.1,354.8 302.4,354.8 302.5,354.8 302.6,354.8 302.7,354.8 302.8,354.8 302.9,354.8 303,354.8 303.1,354.8 303.2,354.8 303.3,354.7 303.4,354.7 303.5,354.7 303.6,354.7 303.7,354.7 303.8,354.7 303.9,354.7 304,354.7 304.1,354.6 304.2,354.6 304.3,354.6 304.4,354.6 304.5,354.6 304.6,354.6 304.7,354.6 304.8,354.7 304.9,354.7 305,354.7 305.1,354.7 305.2,354.7 305.3,354.7 305.4,354.7 305.5,354.7 305.6,354.7 305.7,354.7 305.8,354.7 305.9,354.7 306,354.7 306.1,354.7 306.2,354.7 306.3,354.7 306.4,354.7 306.6,354.8 306.9,354.8 307.1,354.8 307.4,354.8 307.6,354.8 307.9,354.8 308.1,354.8 308.4,354.8 308.6,354.8 308.9,354.8 309.1,354.8 309.4,354.8 309.6,354.8 309.9,354.8 310.1,354.8 310.4,354.8 310.6,354.8 310.9,354.8 311.1,354.8 311.4,354.8 311.6,354.8 311.9,354.8 312.1,354.8 312.4,354.8 312.6,354.8 312.9,354.8 313.1,354.8 313.4,354.8 313.6,354.8 313.9,354.8 314.1,354.8 314.4,354.8 314.6,354.8 314.9,354.8 315.1,354.8 315.4,354.8 315.6,354.8 315.9,354.8 316.1,354.8 316.4,354.8 316.6,354.8 316.9,354.8 317.1,354.8 317.4,354.8 317.6,354.8 317.9,354.8 318.1,354.8 318.4,354.8 318.6,354.8 318.9,354.8 319.1,354.8 319.4,354.8 319.6,354.8 319.9,354.8 320.1,354.8 320.4,354.8 320.6,354.8 320.9,354.8 321.1,354.8 321.4,354.8 321.6,354.8 321.9,354.8 322.1,354.8 322.4,354.8 322.6,354.8 322.9,354.8 323.1,354.8 323.4,354.8 323.6,354.8 323.9,354.8 324.1,354.8 324.4,354.8 324.6,354.8 324.9,354.8 325.1,354.8 325.4,354.8 325.6,354.8 325.9,354.8 326.1,354.8 326.4,354.8 326.6,354.8 326.9,354.8 327.1,354.8 327.4,354.8 327.6,354.8 327.9,354.7 328.1,354.7 328.4,354.7 328.6,354.7 328.9,354.7 329.1,354.7 329.4,354.7 329.6,354.7 329.9,354.7 330.1,354.7 330.4,354.6 330.6,354.6 330.9,354.6 331.1,354.6 331.4,354.5 331.6,354.5 331.9,354.5 332.1,354.4 332.4,354.4 332.6,354.4 332.9,354.4 333.1,354.3 333.4,354.3 333.6,354.3 333.9,354.3 334.1,354.3 334.4,354.3 334.6,354.3 334.9,354.3 335.1,354.3 335.4,354.3 335.6,354.3 335.9,354.3 336.1,354.3 336.4,354.3 336.6,354.3 336.9,354.3 337.1,354.4 337.4,354.4 337.6,354.4 337.9,354.4 338.1,354.4 338.4,354.4 338.6,354.4 338.9,354.5 339.1,354.5 339.4,354.5 339.6,354.5 339.9,354.5 340.1,354.5 340.4,354.5 340.6,354.6 340.9,354.6 341.1,354.6 341.4,354.6 341.6,354.6 341.9,354.6 342.1,354.6 342.4,354.6" fill="none" stroke="#1c1c1c" stroke-width="1.6" stroke-linejoin="round" stroke-linecap="round"/>
<path d="M293.6,354.9 293.9,354.9 294.1,354.9 294.4,354.9 294.6,354.9 294.9,354.9 295.1,354.9 295.4,354.9 295.6,354.9 295.9,354.9 296.1,354.9 296.4,354.9 296.6,354.9 296.9,354.9 297.1,354.9 297.4,354.9 297.6,354.9 297.9,354.9 298.1,354.9 298.4,354.9 298.6,354.9 298.9,354.9 299.1,354.9 299.4,354.9 299.6,354.9 299.9,354.9 300.1,354.9 300.4,354.9 300.6,354.9 300.9,354.9 301.1,354.9 301.4,354.8 301.6,354.8 301.9,354.8 302.1,354.8 302.4,354.8 302.5,354.8 302.6,354.8 302.7,354.8 302.8,354.8 302.9,354.8 303,354.8 303.1,354.8 303.2,354.8 303.3,354.7 303.4,354.7 303.5,354.7 303.6,354.7 303.7,354.7 303.8,354.7 303.9,354.7 304,354.7 304.1,354.6 304.2,354.6 304.3,354.6 304.4,354.6 304.5,354.6 304.6,354.6 304.7,354.6 304.8,354.7 304.9,354.7 305,354.7 305.1,354.7 305.2,354.7 305.3,354.7 305.4,354.7 305.5,354.7 305.6,354.7 305.7,354.7 305.8,354.7 305.9,354.7 306,354.7 306.1,354.7 306.2,354.7 306.3,354.7 306.4,354.7 306.6,354.8 306.9,354.8 307.1,354.8 307.4,354.8 307.6,354.8 307.9,354.8 308.1,354.8 308.4,354.8 308.6,354.8 308.9,354.8 309.1,354.8 309.4,354.8 309.6,354.8 309.9,354.8 310.1,354.8 310.4,354.8 310.6,354.8 310.9,354.8 311.1,354.8 311.4,354.8 311.6,354.8 311.9,354.8 312.1,354.8 312.4,354.8 312.6,354.8 312.9,354.8 313.1,354.8 313.4,354.8 313.6,354.8 313.9,354.8 314.1,354.8 314.4,354.8 314.6,354.8 314.9,354.8 315.1,354.8 315.4,354.8 315.6,354.8 315.9,354.8 316.1,354.8 316.4,354.8 316.6,354.8 316.9,354.8 317.1,354.8 317.4,354.8 317.6,354.8 317.9,354.8 318.1,354.8 318.4,354.8 318.6,354.8 318.9,354.8 319.1,354.8 319.4,354.8 319.6,354.8 319.9,354.8 320.1,354.8 320.4,354.8 320.6,354.8 320.9,354.8 321.1,354.8 321.4,354.8 321.6,354.8 321.9,354.8 322.1,354.8 322.4,354.8 322.6,354.8 322.9,354.8 323.1,354.8 323.4,354.8 323.6,354.8 323.9,354.8 324.1,354.8 324.4,354.8 324.6,354.8 324.9,354.8 325.1,354.8 325.4,354.8 325.6,354.8 325.9,354.8 326.1,354.8 326.4,354.8 326.6,354.8 326.9,354.8 327.1,354.8 327.4,354.8 327.6,354.8 327.9,354.7 328.1,354.7 328.4,354.7 328.6,354.7 328.9,354.7 329.1,354.7 329.4,354.7 329.6,354.7 329.9,354.7 330.1,354.7 330.4,354.6 330.6,354.6 330.9,354.6 331.1,354.6 331.4,354.5 331.6,354.5 331.9,354.5 332.1,354.4 332.4,354.4 332.6,354.4 332.9,354.4 333.1,354.3 333.4,354.3 333.6,354.3 333.9,354.3 334.1,354.3 334.4,354.3 334.6,354.3 334.9,354.3 335.1,354.3 335.4,354.3 335.6,354.3 335.9,354.3 336.1,354.3 336.4,354.3 336.6,354.3 336.9,354.3 337.1,354.4 337.4,354.4 337.6,354.4 337.9,354.4 338.1,354.4 338.4,354.4 338.6,354.4 338.9,354.5 339.1,354.5 339.4,354.5 339.6,354.5 339.9,354.5 340.1,354.5 340.4,354.5 340.6,354.6 340.9,354.6 341.1,354.6 341.4,354.6 341.6,354.6 341.9,354.6 342.1,354.6 342.4,354.6" fill="none" stroke="#e8382d" stroke-width="1.7" stroke-linejoin="round" stroke-linecap="round"/>
<text x="51.7" y="368.6" font-size="8" fill="#444444" text-anchor="end" transform="rotate(-60 51.7 368.6)">−3kb</text>
<text x="62.5" y="368.6" font-size="8" fill="#444444" text-anchor="end" transform="rotate(-60 62.5 368.6)">TSS</text>
<text x="88.8" y="368.6" font-size="8" fill="#444444" text-anchor="end" transform="rotate(-60 88.8 368.6)">TTS</text>
<text x="100.5" y="368.6" font-size="8" fill="#444444" text-anchor="end" transform="rotate(-60 100.5 368.6)">3kb</text>
<text x="112.9" y="368.6" font-size="8" fill="#444444" text-anchor="end" transform="rotate(-60 112.9 368.6)">−3kb</text>
<text x="123.7" y="368.6" font-size="8" fill="#444444" text-anchor="end" transform="rotate(-60 123.7 368.6)">TSS</text>
<text x="150" y="368.6" font-size="8" fill="#444444" text-anchor="end" transform="rotate(-60 150 368.6)">TTS</text>
<text x="161.7" y="368.6" font-size="8" fill="#444444" text-anchor="end" transform="rotate(-60 161.7 368.6)">3kb</text>
<text x="173.9" y="368.6" font-size="8" fill="#444444" text-anchor="end" transform="rotate(-60 173.9 368.6)">−3kb</text>
<text x="184.7" y="368.6" font-size="8" fill="#444444" text-anchor="end" transform="rotate(-60 184.7 368.6)">TSS</text>
<text x="211" y="368.6" font-size="8" fill="#444444" text-anchor="end" transform="rotate(-60 211 368.6)">TTS</text>
<text x="222.7" y="368.6" font-size="8" fill="#444444" text-anchor="end" transform="rotate(-60 222.7 368.6)">3kb</text>
<text x="234.9" y="368.6" font-size="8" fill="#444444" text-anchor="end" transform="rotate(-60 234.9 368.6)">−3kb</text>
<text x="245.7" y="368.6" font-size="8" fill="#444444" text-anchor="end" transform="rotate(-60 245.7 368.6)">TSS</text>
<text x="272" y="368.6" font-size="8" fill="#444444" text-anchor="end" transform="rotate(-60 272 368.6)">TTS</text>
<text x="283.7" y="368.6" font-size="8" fill="#444444" text-anchor="end" transform="rotate(-60 283.7 368.6)">3kb</text>
<text x="295.9" y="368.6" font-size="8" fill="#444444" text-anchor="end" transform="rotate(-60 295.9 368.6)">−3kb</text>
<text x="306.7" y="368.6" font-size="8" fill="#444444" text-anchor="end" transform="rotate(-60 306.7 368.6)">TSS</text>
<text x="333" y="368.6" font-size="8" fill="#444444" text-anchor="end" transform="rotate(-60 333 368.6)">TTS</text>
<text x="344.7" y="368.6" font-size="8" fill="#444444" text-anchor="end" transform="rotate(-60 344.7 368.6)">3kb</text>
<text x="25" y="202" font-size="11.2" fill="#1c1c1c" text-anchor="middle" transform="rotate(-90 25 202)">Average coverage</text>
<line x1="347.3" y1="110" x2="347.3" y2="146.2" stroke="#1c1c1c" stroke-width="1.2"/>
<path d="M343.8,111 L347.3,104.6 L350.8,111 Z" fill="#111"/>
<line x1="347.3" y1="150.2" x2="347.3" y2="154" stroke="#1c1c1c" stroke-width="1.2"/>
<path d="M343.8,153.6 L347.3,159.8 L350.8,153.6 Z" fill="#111"/>
<text x="355.6" y="127.5" font-size="7.2" fill="#444" text-anchor="middle" transform="rotate(-90 355.6 127.5)">sense</text>
<text x="357" y="150.7" font-size="7.2" fill="#444" text-anchor="end" transform="rotate(-90 357 150.7)">anti-</text>
<text x="363.5" y="150.7" font-size="7.2" fill="#444" text-anchor="end" transform="rotate(-90 363.5 150.7)">sense</text>
<line x1="151.9" y1="394" x2="162.4" y2="394" stroke="#1c1c1c" stroke-width="1.6"/>
<text x="165.9" y="397" font-size="8" fill="#1c1c1c">WT</text>
<line x1="189.9" y1="394" x2="198.9" y2="394" stroke="#e8382d" stroke-width="1.6"/>
<text x="203.2" y="397" font-size="8.2" fill="#1c1c1c" font-style="italic">Dot1l -/-</text>
<text x="372.5" y="14.7" font-size="19.5" fill="#1c1c1c">b</text>
<rect x="435" y="41.8" width="5.3" height="44.2" fill="#ebe6b3"/>
<rect x="443.3" y="41.8" width="30.2" height="44.2" fill="#cfe3b9"/>
<line x1="435" y1="41.8" x2="435" y2="86" stroke="#2ca8d2" stroke-width="0.8" stroke-dasharray="1 1.2"/>
<line x1="440.3" y1="41.8" x2="440.3" y2="86" stroke="#2ca8d2" stroke-width="0.8" stroke-dasharray="1 1.2"/>
<line x1="443.3" y1="41.8" x2="443.3" y2="86" stroke="#2ca8d2" stroke-width="0.8" stroke-dasharray="1 1.2"/>
<line x1="473.5" y1="41.8" x2="473.5" y2="86" stroke="#2ca8d2" stroke-width="0.8" stroke-dasharray="1 1.2"/>
<line x1="422" y1="33.9" x2="422" y2="86" stroke="#333333" stroke-width="1.2"/>
<line x1="422" y1="86" x2="475" y2="86" stroke="#333333" stroke-width="1.2"/>
<line x1="424.3" y1="86" x2="424.3" y2="89.4" stroke="#333333" stroke-width="1"/>
<line x1="436.3" y1="86" x2="436.3" y2="89.4" stroke="#333333" stroke-width="1"/>
<line x1="473.2" y1="86" x2="473.2" y2="89.4" stroke="#333333" stroke-width="1"/>
<line x1="418" y1="84.6" x2="422" y2="84.6" stroke="#333333" stroke-width="1"/>
<text x="416.8" y="87.12" font-size="7" fill="#666666" text-anchor="end">0</text>
<line x1="418" y1="71.75" x2="422" y2="71.75" stroke="#333333" stroke-width="1"/>
<text x="416.8" y="74.27" font-size="7" fill="#666666" text-anchor="end">5</text>
<line x1="418" y1="58.9" x2="422" y2="58.9" stroke="#333333" stroke-width="1"/>
<text x="416.8" y="61.42" font-size="7" fill="#666666" text-anchor="end">10</text>
<line x1="418" y1="46.05" x2="422" y2="46.05" stroke="#333333" stroke-width="1"/>
<text x="416.8" y="48.57" font-size="7" fill="#666666" text-anchor="end">15</text>
<rect x="435" y="101" width="5.3" height="53.2" fill="#ebe6b3"/>
<rect x="443.3" y="101" width="30.2" height="53.2" fill="#cfe3b9"/>
<line x1="435" y1="101" x2="435" y2="154.2" stroke="#2ca8d2" stroke-width="0.8" stroke-dasharray="1 1.2"/>
<line x1="440.3" y1="101" x2="440.3" y2="154.2" stroke="#2ca8d2" stroke-width="0.8" stroke-dasharray="1 1.2"/>
<line x1="443.3" y1="101" x2="443.3" y2="154.2" stroke="#2ca8d2" stroke-width="0.8" stroke-dasharray="1 1.2"/>
<line x1="473.5" y1="101" x2="473.5" y2="154.2" stroke="#2ca8d2" stroke-width="0.8" stroke-dasharray="1 1.2"/>
<line x1="422" y1="100.8" x2="422" y2="154.2" stroke="#333333" stroke-width="1.2"/>
<line x1="422" y1="154.2" x2="475" y2="154.2" stroke="#333333" stroke-width="1.2"/>
<line x1="424.3" y1="154.2" x2="424.3" y2="157.6" stroke="#333333" stroke-width="1"/>
<line x1="436.3" y1="154.2" x2="436.3" y2="157.6" stroke="#333333" stroke-width="1"/>
<line x1="473.2" y1="154.2" x2="473.2" y2="157.6" stroke="#333333" stroke-width="1"/>
<line x1="418" y1="152.6" x2="422" y2="152.6" stroke="#333333" stroke-width="1"/>
<text x="416.8" y="154.9" font-size="6.4" fill="#666666" text-anchor="end">−1</text>
<line x1="418" y1="145.4" x2="422" y2="145.4" stroke="#333333" stroke-width="1"/>
<text x="416.8" y="147.7" font-size="6.4" fill="#666666" text-anchor="end">0</text>
<line x1="418" y1="138.2" x2="422" y2="138.2" stroke="#333333" stroke-width="1"/>
<text x="416.8" y="140.5" font-size="6.4" fill="#666666" text-anchor="end">1</text>
<line x1="418" y1="131" x2="422" y2="131" stroke="#333333" stroke-width="1"/>
<text x="416.8" y="133.3" font-size="6.4" fill="#666666" text-anchor="end">2</text>
<line x1="418" y1="123.8" x2="422" y2="123.8" stroke="#333333" stroke-width="1"/>
<text x="416.8" y="126.1" font-size="6.4" fill="#666666" text-anchor="end">3</text>
<line x1="418" y1="116.6" x2="422" y2="116.6" stroke="#333333" stroke-width="1"/>
<text x="416.8" y="118.9" font-size="6.4" fill="#666666" text-anchor="end">4</text>
<line x1="418" y1="109.4" x2="422" y2="109.4" stroke="#333333" stroke-width="1"/>
<text x="416.8" y="111.7" font-size="6.4" fill="#666666" text-anchor="end">5</text>
<line x1="418" y1="102.2" x2="422" y2="102.2" stroke="#333333" stroke-width="1"/>
<text x="416.8" y="104.5" font-size="6.4" fill="#666666" text-anchor="end">6</text>
<rect x="435" y="174.5" width="5.3" height="52.3" fill="#ebe6b3"/>
<rect x="443.3" y="182.1" width="30.2" height="44.7" fill="#cfe3b9"/>
<line x1="435" y1="174.5" x2="435" y2="226.8" stroke="#2ca8d2" stroke-width="0.8" stroke-dasharray="1 1.2"/>
<line x1="440.3" y1="174.5" x2="440.3" y2="226.8" stroke="#2ca8d2" stroke-width="0.8" stroke-dasharray="1 1.2"/>
<line x1="443.3" y1="182.1" x2="443.3" y2="226.8" stroke="#2ca8d2" stroke-width="0.8" stroke-dasharray="1 1.2"/>
<line x1="473.5" y1="182.1" x2="473.5" y2="226.8" stroke="#2ca8d2" stroke-width="0.8" stroke-dasharray="1 1.2"/>
<line x1="422" y1="174.5" x2="422" y2="226.8" stroke="#333333" stroke-width="1.2"/>
<line x1="422" y1="226.8" x2="475" y2="226.8" stroke="#333333" stroke-width="1.2"/>
<line x1="424.3" y1="226.8" x2="424.3" y2="230.2" stroke="#333333" stroke-width="1"/>
<line x1="436.3" y1="226.8" x2="436.3" y2="230.2" stroke="#333333" stroke-width="1"/>
<line x1="473.2" y1="226.8" x2="473.2" y2="230.2" stroke="#333333" stroke-width="1"/>
<line x1="418" y1="225.1" x2="422" y2="225.1" stroke="#333333" stroke-width="1"/>
<text x="416.8" y="227.62" font-size="7" fill="#666666" text-anchor="end">0</text>
<line x1="418" y1="218.23" x2="422" y2="218.23" stroke="#333333" stroke-width="1"/>
<text x="416.8" y="220.75" font-size="7" fill="#666666" text-anchor="end">10</text>
<line x1="418" y1="211.36" x2="422" y2="211.36" stroke="#333333" stroke-width="1"/>
<text x="416.8" y="213.88" font-size="7" fill="#666666" text-anchor="end">20</text>
<line x1="418" y1="204.49" x2="422" y2="204.49" stroke="#333333" stroke-width="1"/>
<text x="416.8" y="207.01" font-size="7" fill="#666666" text-anchor="end">30</text>
<line x1="418" y1="197.62" x2="422" y2="197.62" stroke="#333333" stroke-width="1"/>
<text x="416.8" y="200.14" font-size="7" fill="#666666" text-anchor="end">40</text>
<line x1="418" y1="190.75" x2="422" y2="190.75" stroke="#333333" stroke-width="1"/>
<text x="416.8" y="193.27" font-size="7" fill="#666666" text-anchor="end">50</text>
<line x1="418" y1="183.88" x2="422" y2="183.88" stroke="#333333" stroke-width="1"/>
<text x="416.8" y="186.4" font-size="7" fill="#666666" text-anchor="end">60</text>
<line x1="418" y1="177.01" x2="422" y2="177.01" stroke="#333333" stroke-width="1"/>
<text x="416.8" y="179.53" font-size="7" fill="#666666" text-anchor="end">70</text>
<rect x="435" y="240.9" width="5.3" height="52.6" fill="#ebe6b3"/>
<rect x="443.3" y="250.8" width="30.2" height="42.7" fill="#cfe3b9"/>
<line x1="435" y1="240.9" x2="435" y2="293.5" stroke="#2ca8d2" stroke-width="0.8" stroke-dasharray="1 1.2"/>
<line x1="440.3" y1="240.9" x2="440.3" y2="293.5" stroke="#2ca8d2" stroke-width="0.8" stroke-dasharray="1 1.2"/>
<line x1="443.3" y1="250.8" x2="443.3" y2="293.5" stroke="#2ca8d2" stroke-width="0.8" stroke-dasharray="1 1.2"/>
<line x1="473.5" y1="250.8" x2="473.5" y2="293.5" stroke="#2ca8d2" stroke-width="0.8" stroke-dasharray="1 1.2"/>
<line x1="422" y1="240.9" x2="422" y2="293.5" stroke="#333333" stroke-width="1.2"/>
<line x1="422" y1="293.5" x2="475" y2="293.5" stroke="#333333" stroke-width="1.2"/>
<line x1="424.3" y1="293.5" x2="424.3" y2="296.9" stroke="#333333" stroke-width="1"/>
<line x1="436.3" y1="293.5" x2="436.3" y2="296.9" stroke="#333333" stroke-width="1"/>
<line x1="473.2" y1="293.5" x2="473.2" y2="296.9" stroke="#333333" stroke-width="1"/>
<line x1="418" y1="285.3" x2="422" y2="285.3" stroke="#333333" stroke-width="1"/>
<text x="416.8" y="287.82" font-size="7" fill="#666666" text-anchor="end">10</text>
<line x1="418" y1="272.65" x2="422" y2="272.65" stroke="#333333" stroke-width="1"/>
<text x="416.8" y="275.17" font-size="7" fill="#666666" text-anchor="end">15</text>
<line x1="418" y1="260" x2="422" y2="260" stroke="#333333" stroke-width="1"/>
<text x="416.8" y="262.52" font-size="7" fill="#666666" text-anchor="end">20</text>
<line x1="418" y1="247.35" x2="422" y2="247.35" stroke="#333333" stroke-width="1"/>
<text x="416.8" y="249.87" font-size="7" fill="#666666" text-anchor="end">25</text>
<rect x="435" y="308.8" width="5.3" height="51.6" fill="#ebe6b3"/>
<rect x="443.3" y="316" width="30.2" height="44.4" fill="#cfe3b9"/>
<line x1="435" y1="308.8" x2="435" y2="360.4" stroke="#2ca8d2" stroke-width="0.8" stroke-dasharray="1 1.2"/>
<line x1="440.3" y1="308.8" x2="440.3" y2="360.4" stroke="#2ca8d2" stroke-width="0.8" stroke-dasharray="1 1.2"/>
<line x1="443.3" y1="316" x2="443.3" y2="360.4" stroke="#2ca8d2" stroke-width="0.8" stroke-dasharray="1 1.2"/>
<line x1="473.5" y1="316" x2="473.5" y2="360.4" stroke="#2ca8d2" stroke-width="0.8" stroke-dasharray="1 1.2"/>
<line x1="422" y1="307.3" x2="422" y2="360.4" stroke="#333333" stroke-width="1.2"/>
<line x1="422" y1="360.4" x2="475" y2="360.4" stroke="#333333" stroke-width="1.2"/>
<line x1="424.3" y1="360.4" x2="424.3" y2="363.8" stroke="#333333" stroke-width="1"/>
<line x1="436.3" y1="360.4" x2="436.3" y2="363.8" stroke="#333333" stroke-width="1"/>
<line x1="448.6" y1="360.4" x2="448.6" y2="363.8" stroke="#333333" stroke-width="1"/>
<line x1="460.9" y1="360.4" x2="460.9" y2="363.8" stroke="#333333" stroke-width="1"/>
<line x1="473.2" y1="360.4" x2="473.2" y2="363.8" stroke="#333333" stroke-width="1"/>
<line x1="418" y1="349.45" x2="422" y2="349.45" stroke="#333333" stroke-width="1"/>
<text x="416.8" y="351.97" font-size="7" fill="#666666" text-anchor="end">5</text>
<line x1="418" y1="334.7" x2="422" y2="334.7" stroke="#333333" stroke-width="1"/>
<text x="416.8" y="337.22" font-size="7" fill="#666666" text-anchor="end">10</text>
<line x1="418" y1="319.95" x2="422" y2="319.95" stroke="#333333" stroke-width="1"/>
<text x="416.8" y="322.47" font-size="7" fill="#666666" text-anchor="end">15</text>
<text x="448" y="26.1" font-size="9.2" fill="#1c1c1c" text-anchor="middle">Q1</text>
<text x="450.3" y="37.7" font-size="8.5" fill="#1c1c1c" text-anchor="middle">H3K79me3</text>
<text x="444.4" y="98.4" font-size="8.5" fill="#1c1c1c" text-anchor="middle">TT-seq</text>
<text x="442.4" y="179.7" font-size="8.5" fill="#1c1c1c">RNAPII</text>
<text x="443.7" y="248.3" font-size="8.5" fill="#1c1c1c">S2P-RNAPII</text>
<text x="443.4" y="314.6" font-size="8.5" fill="#1c1c1c">S5P-RNAPII</text>
<text x="402" y="184.4" font-size="9.7" fill="#1c1c1c" text-anchor="middle" transform="rotate(-90 402 184.4)">Average coverage</text>
<text x="420" y="372.6" font-size="8.2" fill="#1c1c1c" text-anchor="middle">-1kb</text>
<text x="469.3" y="372.6" font-size="8.2" fill="#1c1c1c">+3kb</text>
<text x="441.5" y="371.5" font-size="8.2" fill="#1c1c1c" text-anchor="end" transform="rotate(-42 441.5 371.5)">TSS</text>
<path d="M424,72.3 424.2,72.3 424.5,72.4 424.7,72.4 425,72.5 425.2,72.6 425.5,72.6 425.7,72.7 426,72.8 426.2,72.9 426.5,73 426.7,73.1 427,73.2 427.2,73.3 427.4,73.4 427.7,73.5 427.9,73.6 428.2,73.7 428.4,73.8 428.7,73.9 428.9,74.1 429.2,74.2 429.4,74.3 429.7,74.5 429.9,74.6 430.2,74.8 430.4,74.9 430.6,75.1 430.9,75.3 431.1,75.5 431.4,75.6 431.6,75.8 431.9,76 432.1,76.2 432.4,76.4 432.6,76.6 432.9,76.9 433.1,77.1 433.3,77.4 433.6,77.6 433.8,77.9 434.1,78.2 434.3,78.5 434.6,78.8 434.8,79 435.1,79.3 435.3,79.5 435.6,79.6 435.7,79.7 435.8,79.8 436.1,79.9 436.3,80 436.5,79.8 436.8,79.4 437,78.8 437.3,78.1 437.5,77.3 437.8,76.5 438,75.7 438.1,75.3 438.3,75 438.5,74.3 438.8,73.5 439,72.7 439.3,71.8 439.5,71 439.7,70.1 440,69.3 440.2,68.4 440.5,67.5 440.7,66.7 441,65.9 441.2,65.1 441.5,64.3 441.7,63.5 442,62.7 442.2,61.9 442.5,61.2 442.7,60.4 442.9,59.7 443.1,59.4 443.2,59.1 443.4,58.4 443.7,57.8 443.9,57.1 444.2,56.4 444.4,55.8 444.7,55.2 444.9,54.6 445.2,54 445.4,53.5 445.6,53 445.9,52.6 446.1,52.2 446.4,51.9 446.6,51.5 446.9,51.2 447.1,50.9 447.4,50.6 447.6,50.3 447.9,50 448.1,49.7 448.4,49.5 448.6,49.2 448.8,49 449.1,48.7 449.3,48.5 449.6,48.3 449.8,48.1 450.1,47.9 450.3,47.8 450.6,47.6 450.8,47.5 451.1,47.3 451.3,47.2 451.6,47.1 451.8,47 452,46.8 452.3,46.7 452.5,46.6 452.8,46.5 453,46.4 453.3,46.3 453.5,46.2 453.8,46.2 454,46.1 454.3,46.1 454.5,46.1 454.8,46 455,46.1 455.2,46.1 455.5,46.1 455.7,46.2 456,46.2 456.2,46.3 456.5,46.4 456.7,46.4 457,46.5 457.2,46.6 457.5,46.6 457.7,46.7 457.9,46.8 458.2,46.8 458.4,46.9 458.7,47 458.9,47.1 459.2,47.1 459.4,47.2 459.7,47.3 459.9,47.4 460.2,47.5 460.4,47.5 460.7,47.6 460.9,47.7 461.1,47.8 461.4,47.9 461.6,48 461.9,48.1 462.1,48.2 462.4,48.3 462.6,48.4 462.9,48.5 463.1,48.6 463.4,48.7 463.6,48.8 463.9,48.9 464.1,49 464.3,49.1 464.6,49.2 464.8,49.3 465.1,49.5 465.3,49.6 465.6,49.7 465.8,49.8 466.1,49.9 466.3,50.1 466.6,50.2 466.8,50.3 467.1,50.4 467.3,50.6 467.5,50.7 467.8,50.8 468,51 468.3,51.1 468.5,51.3 468.8,51.4 469,51.5 469.3,51.7 469.5,51.8 469.8,52 470,52.1 470.2,52.3 470.5,52.4 470.7,52.6 471,52.8 471.2,52.9 471.5,53.1 471.7,53.2 472,53.4 472.2,53.6 472.5,53.8 472.7,53.9 473,54.1 473.2,54.3" fill="none" stroke="#1b9e55" stroke-width="1.9" stroke-linejoin="round" stroke-linecap="round"/>
<line x1="423" y1="145.4" x2="475" y2="145.4" stroke="#1c1c1c" stroke-width="1"/>
<path d="M424,151.3 424.2,151.3 424.5,151.3 424.7,151.3 425,151.3 425.2,151.3 425.5,151.3 425.7,151.3 426,151.3 426.2,151.2 426.5,151.2 426.7,151.2 427,151.2 427.2,151.2 427.4,151.2 427.7,151.1 427.9,151.1 428.2,151.1 428.4,151.1 428.7,151 428.9,151 429.2,151 429.4,150.9 429.7,150.9 429.9,150.8 430.2,150.7 430.4,150.6 430.6,150.5 430.9,150.3 431.1,150.2 431.4,150.1 431.6,149.9 431.9,149.8 432,149.7 432.1,149.6 432.4,149.5 432.6,149.3 432.9,149.1 433.1,148.9 433.3,148.7 433.6,148.5 433.8,148.3 434.1,148.1 434.3,147.8 434.6,147.6 434.8,147.4 435.1,147.2 435.3,147 435.6,146.7 435.8,146.5 436.1,146.2 436.3,146 436.5,145.9 436.8,145.8 436.9,145.8 437,145.8 437.3,145.8 437.5,145.8 437.8,145.8 438,145.9 438.3,145.9 438.5,146 438.8,146 439,146 439.3,146.1 439.5,146.1 439.7,146.1 440,146.1 440.2,146.1 440.5,146.1 440.7,146.1 441,146.1 441.2,146.1 441.5,146.1 441.7,146.1 442,146.1 442.2,146.1 442.5,146.1 442.7,146.1 442.9,146.1 443.2,146.1 443.4,146.1 443.7,146.1 443.9,146.1 444.2,146.1 444.4,146.1 444.7,146.1 444.9,146.1 445.2,146.1 445.4,146.1 445.6,146.1 445.9,146.1 446.1,146.1 446.4,146.1 446.6,146.1 446.9,146.1 447.1,146.1 447.4,146.1 447.6,146.1 447.9,146.1 448.1,146.1 448.4,146.1 448.6,146.1 448.8,146.1 449.1,146.1 449.3,146.1 449.6,146.1 449.8,146.1 450.1,146.1 450.3,146.1 450.6,146.1 450.8,146.1 451.1,146.1 451.3,146.1 451.6,146.1 451.8,146.1 452,146.1 452.3,146.1 452.5,146.1 452.8,146.1 453,146.1 453.3,146.1 453.5,146.1 453.8,146.1 454,146.1 454.3,146.1 454.5,146.1 454.8,146.1 455,146.1 455.2,146.1 455.5,146.1 455.7,146.1 456,146.1 456.2,146.1 456.5,146.1 456.7,146.1 457,146.1 457.2,146.1 457.5,146.1 457.7,146.1 457.9,146.1 458.2,146.1 458.4,146.1 458.7,146.1 458.9,146.1 459.2,146.1 459.4,146.1 459.7,146.1 459.9,146.1 460.2,146.1 460.4,146.1 460.7,146.1 460.9,146.1 461.1,146.1 461.4,146.1 461.6,146.1 461.9,146.1 462.1,146.1 462.4,146.1 462.6,146.1 462.9,146.1 463.1,146.1 463.4,146.1 463.6,146.1 463.9,146.1 464.1,146.1 464.3,146.1 464.6,146.1 464.8,146.1 465.1,146.1 465.3,146.1 465.6,146.1 465.8,146.1 466.1,146.1 466.3,146.1 466.6,146.1 466.8,146.1 467.1,146.1 467.3,146.1 467.5,146.1 467.8,146.1 468,146.1 468.3,146.1 468.5,146.1 468.8,146.1 469,146.1 469.3,146.1 469.5,146.1 469.8,146.1 470,146.1 470.2,146.1 470.5,146.1 470.7,146.1 471,146.1 471.2,146.1 471.5,146.1 471.7,146.1 472,146.1 472.2,146.1 472.5,146.1 472.7,146.1 473,146.1 473.2,146.1" fill="none" stroke="#e8382d" stroke-width="1.8" stroke-linejoin="round" stroke-linecap="round"/>
<path d="M439.7,135.8 440,136.1 440.2,135.2 440.5,134.9 440.6,134.7 440.7,134.4 441,134 441.2,133 441.5,132.3 441.7,130.6 442,130.4 442.2,129.7 442.4,128.9 442.4,129 442.7,128.4 442.9,127.5 443.2,126.5 443.4,126 443.7,124.9 443.9,124.5 444.2,123.8 444.4,122.6 444.7,122.2 444.9,121.9 445.2,121.1 445.4,120.3 445.6,119.1 445.9,119.4 446.1,118.9 446.1,118.4 446.4,118.6 446.6,117.9 446.9,116.9 447.1,116.5 447.4,116.3 447.6,115.6 447.9,116.7 448.1,114.6 448.4,115.2 448.6,115.2 448.6,114.3 448.8,113.8 449.1,114.1 449.3,114.1 449.6,113.4 449.8,113.2 450.1,112.3 450.3,112.4 450.6,112.5 450.8,111.9 451.1,112.4 451.1,112.7 451.3,111.9 451.6,111.7 451.8,112 452,112.1 452.3,111.5 452.5,112.7 452.8,111 453,111 453.3,112 453.5,111 453.8,111.4 454,110.5 454.3,111.8 454.5,111.2 454.8,110.3 455,110 455.2,111.6 455.5,110.8 455.7,110.3 456,110.8 456,109.7 456.2,111.1 456.5,110.3 456.7,111 457,109.8 457.2,110.6 457.5,110.8 457.7,111.5 457.9,109.8 458.2,110.3 458.4,110.4 458.7,110.2 458.9,110.6 459.2,111.2 459.4,111.3 459.7,111.4 459.9,110.3 460.2,111.8 460.4,111.4 460.7,111.3 460.9,111.1 460.9,110.9 461.1,111.9 461.4,112.1 461.6,111.3 461.9,110.8 462.1,111.1 462.4,111.4 462.6,111.7 462.9,111.4 463.1,111.8 463.4,111.3 463.6,112.1 463.9,111.7 464.1,111.9 464.3,111.6 464.6,111.8 464.8,110.8 465.1,111.4 465.3,111.4 465.6,113.2 465.8,112.4 466.1,112.6 466.3,112.1 466.6,113.5 466.8,111.9 467.1,112.1 467.3,113.2 467.5,113.2 467.8,113.1 468,112.8 468.3,112.6 468.5,112 468.8,113.1 469,112.8 469.3,113.1 469.5,112.4 469.8,113 470,112.8 470.2,114 470.5,113.6 470.7,114 471,113 471.2,113.5 471.5,114 471.7,114.1 472,113.8 472.2,114.4 472.5,114.6 472.7,114.1 473,113.3 473.2,114.5 473.2,114.7" fill="none" stroke="#1c1c1c" stroke-width="1.6" stroke-linejoin="round" stroke-linecap="round"/>
<path d="M424,144 424.2,144 424.5,143.9 424.7,143.9 425,144 425.2,144 425.5,144 425.7,144 426,144 426.2,144 426.5,144 426.7,143.9 427,144 427.2,143.9 427.4,144 427.7,143.9 427.9,144 428.2,143.9 428.4,144 428.7,144 428.9,144 429.2,144 429.4,144 429.7,144 429.9,143.9 430.2,144 430.4,144 430.6,144 430.9,143.9 431.1,144 431.4,144 431.6,144 431.9,144 432.1,143.9 432.4,144 432.6,143.9 432.9,143.9 433.1,144 433.3,144 433.6,144 433.8,143.9 434.1,143.9 434.3,144 434.6,144 434.8,144 435.1,144 435.3,143.9 435.6,143.6 435.8,143.4 436.1,143 436.3,142.5 436.3,142.6 436.5,141.3 436.8,139 437,136.3 437.3,134.4 437.5,132.9 437.5,133.2 437.8,133 438,132.7 438.3,132.6 438.5,132.4 438.8,132.5 439,132.5 439.3,132.4 439.4,132.6 439.5,132.2 439.7,132.6 440,132.7 440,132.1 440.2,132.4 440.5,132.3 440.7,131.3 441,131.1 441.2,130.2 441.5,129.9 441.7,129 442,128.6 442.2,127.9 442.4,126.9 442.5,126.7 442.7,125.7 442.9,124.5 443.2,124.6 443.4,123.1 443.7,122.7 443.9,121.6 444.2,121.1 444.4,120.1 444.7,118.9 444.9,118.2 445.2,116.8 445.4,116.2 445.6,114.6 445.9,114.3 446.1,113.6 446.1,113.2 446.4,112.9 446.6,112.5 446.9,112 447.1,111.4 447.4,110.3 447.6,110 447.9,109.7 448.1,109 448.4,109.3 448.6,108.4 448.6,109.4 448.8,107.7 449.1,108 449.3,107.7 449.6,107.2 449.8,107.3 450.1,107.2 450.3,106.2 450.6,106.5 450.8,106.9 451.1,105.9 451.1,107.1 451.3,105 451.6,105.8 451.8,105.4 452,103.9 452.3,103.7 452.5,104.6 452.8,104.1 453,103.6 453.3,103 453.5,103.9 453.8,103.5 454,102.8 454.3,103.2 454.5,102.9 454.8,102.9 454.8,103.9 455,103.8 455.2,104.8 455.5,103.4 455.7,102.5 456,103.9 456.2,102.6 456.5,102.8 456.7,103.4 457,103.4 457.2,103.3 457.5,103.9 457.7,103.6 457.9,103.5 458.2,103.1 458.4,103.1 458.7,104 458.9,103.1 459.2,104 459.4,103.7 459.7,103.4 459.7,103.7 459.9,103.7 460.2,103.5 460.4,104 460.7,104.1 460.9,103.9 461.1,103.3 461.4,103.9 461.6,102.8 461.9,103.8 462.1,105.7 462.4,104.3 462.6,103.2 462.9,104.2 463.1,104.5 463.4,104.8 463.6,103.6 463.9,103.8 464.1,104.1 464.3,104.3 464.6,103.8 464.8,104.2 465.1,105.4 465.3,104.4 465.6,104.8 465.8,105 466.1,104.6 466.3,105.1 466.6,106.8 466.8,104.4 467.1,104.8 467.3,105.5 467.5,105.7 467.8,105.5 468,106.4 468.3,105.6 468.5,106 468.8,106.2 469,106.6 469.3,106.5 469.5,105.7 469.8,105.7 470,106.2 470.2,106.6 470.5,107.2 470.7,106.4 471,106.1 471.2,107.9 471.5,106.5 471.7,108.4 472,107.5 472.2,107.3 472.5,108.3 472.7,108.5 473,107.7 473.2,107.5 473.2,108.2" fill="none" stroke="#e8382d" stroke-width="1.8" stroke-linejoin="round" stroke-linecap="round"/>
<path d="M424,220.3 424.1,220.3 424.2,220.3 424.4,220.3 424.5,220.2 424.6,220.2 424.7,220.2 424.9,220.1 425,220.1 425.1,220 425.2,220 425.4,219.9 425.5,219.9 425.6,219.8 425.7,219.7 425.8,219.7 426,219.6 426.1,219.5 426.2,219.4 426.3,219.3 426.5,219.2 426.6,219.1 426.7,219 426.8,219 427,218.9 427.1,218.8 427.2,218.6 427.3,218.5 427.4,218.4 427.6,218.3 427.7,218.2 427.8,218.1 427.9,218 428.1,217.9 428.2,217.7 428.3,217.6 428.4,217.4 428.6,217.2 428.7,217 428.8,216.8 428.9,216.6 429,216.4 429.2,216.2 429.3,215.9 429.4,215.7 429.5,215.5 429.7,215.2 429.8,214.9 429.9,214.7 430,214.4 430.2,214.1 430.3,213.9 430.4,213.6 430.5,213.3 430.6,213 430.8,212.7 430.9,212.4 431,212.1 431.1,211.7 431.3,211.3 431.4,210.9 431.5,210.5 431.6,210.1 431.7,209.6 431.9,209.2 432,208.7 432.1,208.2 432.2,207.8 432.4,207.3 432.5,206.9 432.6,206.4 432.7,206 432.9,205.6 433,205.2 433.1,204.8 433.2,204.5 433.3,204.2 433.5,203.9 433.6,203.7 433.7,203.4 433.8,203.2 434,203 434.1,202.7 434.2,202.4 434.3,202.1 434.5,201.7 434.6,201.3 434.7,200.7 434.8,200.1 434.9,199.4 435.1,198.6 435.2,197.8 435.3,196.9 435.4,196 435.6,195.1 435.7,194.2 435.8,193.2 435.9,192 436.1,190.7 436.2,189.2 436.3,187.7 436.4,186.2 436.5,184.7 436.7,183.2 436.8,181.8 436.9,180.5 437,179.3 437.2,178.4 437.3,177.6 437.4,177.2 437.5,177 437.7,177.1 437.8,177.3 437.9,177.7 438,178.2 438.1,178.7 438.3,179.4 438.4,180.1 438.5,180.9 438.6,181.7 438.8,182.5 438.9,183.5 439,184.9 439.1,186.6 439.3,188.5 439.4,190.5 439.5,192.5 439.6,194.4 439.7,196.2 439.9,197.8 440,199 440.1,200 440.2,201 440.4,202 440.5,202.9 440.6,203.8 440.7,204.7 440.9,205.5 441,206.2 441.1,206.9 441.2,207.6 441.3,208.2 441.5,208.7 441.6,209.2 441.7,209.6 441.8,210 442,210.3 442.1,210.6 442.2,210.9 442.3,211.1 442.5,211.4 442.6,211.7 442.7,211.9 442.8,212.2 442.9,212.4 443.1,212.6 443.2,212.8 443.3,213 443.4,213.2 443.6,213.4 443.7,213.6 443.8,213.8 443.9,214 444,214.1 444.2,214.3 444.3,214.4 444.4,214.6 444.5,214.7 444.7,214.9 444.8,215 444.9,215.1 445,215.2 445.2,215.4 445.3,215.5 445.4,215.6 445.5,215.7 445.6,215.8 445.8,215.9 445.9,216 446,216.1 446.1,216.2 446.3,216.3 446.4,216.3 446.5,216.4 446.6,216.5 446.8,216.6 446.9,216.7 447,216.8 447.1,216.9 447.2,216.9 447.4,217 447.5,217.1 447.6,217.2 447.7,217.2 447.9,217.3 448,217.4 448.1,217.4 448.2,217.5 448.4,217.6 448.5,217.6 448.6,217.7 448.7,217.8 448.8,217.8 449,217.9 449.1,217.9 449.2,218 449.3,218 449.5,218.1 449.6,218.1 449.7,218.2 449.8,218.2 450,218.3 450.1,218.3 450.2,218.3 450.3,218.4 450.4,218.4 450.6,218.5 450.7,218.5 450.8,218.5 450.9,218.5 451.1,218.6 451.2,218.6 451.3,218.6 451.4,218.6 451.6,218.7 451.7,218.7 451.8,218.7 451.9,218.7 452,218.8 452.2,218.8 452.3,218.8 452.4,218.8 452.5,218.9 452.7,218.9 452.8,218.9 452.9,218.9 453,218.9 453.2,219 453.3,219 453.4,219 453.5,219 453.6,219 453.8,219.1 453.9,219.1 454,219.1 454.1,219.1 454.3,219.1 454.4,219.2 454.5,219.2 454.6,219.2 454.8,219.2 454.9,219.2 455,219.2 455.1,219.3 455.2,219.3 455.4,219.3 455.5,219.3 455.6,219.3 455.7,219.3 455.9,219.4 456,219.4 456.1,219.4 456.2,219.4 456.3,219.4 456.5,219.4 456.6,219.4 456.7,219.5 456.8,219.5 457,219.5 457.1,219.5 457.2,219.5 457.3,219.5 457.5,219.5 457.6,219.5 457.7,219.6 457.8,219.6 457.9,219.6 458.1,219.6 458.2,219.6 458.3,219.6 458.4,219.6 458.6,219.6 458.7,219.6 458.8,219.6 458.9,219.6 459.1,219.7 459.2,219.7 459.3,219.7 459.4,219.7 459.5,219.7 459.7,219.7 459.8,219.7 459.9,219.7 460,219.7 460.2,219.7 460.3,219.7 460.4,219.7 460.5,219.7 460.7,219.7 460.8,219.7 460.9,219.7 461,219.7 461.1,219.7 461.3,219.8 461.4,219.8 461.5,219.8 461.6,219.8 461.8,219.8 461.9,219.8 462,219.8 462.1,219.8 462.3,219.8 462.4,219.8 462.5,219.8 462.6,219.8 462.7,219.8 462.9,219.8 463,219.8 463.1,219.8 463.2,219.8 463.4,219.8 463.5,219.8 463.6,219.8 463.7,219.8 463.9,219.8 464,219.8 464.1,219.8 464.2,219.8 464.3,219.8 464.5,219.8 464.6,219.8 464.7,219.8 464.8,219.8 465,219.8 465.1,219.9 465.2,219.9 465.3,219.9 465.5,219.9 465.6,219.9 465.7,219.9 465.8,219.9 465.9,219.9 466.1,219.9 466.2,219.9 466.3,219.9 466.4,219.9 466.6,219.9 466.7,219.9 466.8,219.9 466.9,219.9 467.1,219.9 467.2,219.9 467.3,219.9 467.4,219.9 467.5,219.9 467.7,219.9 467.8,219.9 467.9,219.9 468,219.9 468.2,219.9 468.3,219.9 468.4,219.9 468.5,219.9 468.6,219.9 468.8,219.9 468.9,219.9 469,219.9 469.1,219.9 469.3,219.9 469.4,219.9 469.5,219.9 469.6,219.9 469.8,219.9 469.9,219.9 470,219.9 470.1,219.9 470.2,219.9 470.4,219.9 470.5,219.9 470.6,219.9 470.7,219.9 470.9,219.9 471,219.9 471.1,219.9 471.2,219.9 471.4,219.9 471.5,219.9 471.6,219.9 471.7,219.9 471.8,219.9 472,219.9 472.1,219.9 472.2,219.9 472.3,219.9 472.5,219.9 472.6,219.9 472.7,219.9 472.8,219.9 473,219.9 473.1,219.9 473.2,219.9" fill="none" stroke="#1c1c1c" stroke-width="2" stroke-linejoin="round" stroke-linecap="round"/>
<path d="M424,220.4 424.1,220.4 424.2,220.4 424.4,220.3 424.5,220.3 424.6,220.3 424.7,220.3 424.9,220.2 425,220.2 425.1,220.1 425.2,220.1 425.4,220 425.5,220 425.6,219.9 425.7,219.8 425.8,219.7 426,219.7 426.1,219.6 426.2,219.5 426.3,219.4 426.5,219.3 426.6,219.2 426.7,219.1 426.8,219 427,218.9 427.1,218.8 427.2,218.7 427.3,218.6 427.4,218.5 427.6,218.4 427.7,218.3 427.8,218.2 427.9,218.1 428.1,218 428.2,217.8 428.3,217.7 428.4,217.5 428.6,217.3 428.7,217.1 428.8,216.9 428.9,216.7 429,216.5 429.2,216.3 429.3,216.1 429.4,215.8 429.5,215.6 429.7,215.4 429.8,215.1 429.9,214.8 430,214.6 430.2,214.3 430.3,214 430.4,213.8 430.5,213.5 430.6,213.2 430.8,212.9 430.9,212.6 431,212.3 431.1,211.9 431.3,211.5 431.4,211.1 431.5,210.7 431.6,210.3 431.7,209.8 431.9,209.4 432,208.9 432.1,208.5 432.2,208 432.4,207.6 432.5,207.1 432.6,206.7 432.7,206.3 432.9,205.9 433,205.5 433.1,205.1 433.2,204.8 433.3,204.5 433.5,204.2 433.6,204 433.7,203.8 433.8,203.5 434,203.3 434.1,203.1 434.2,202.8 434.3,202.5 434.5,202.1 434.6,201.6 434.7,201.1 434.8,200.5 434.9,199.7 435.1,199 435.2,198.2 435.3,197.3 435.4,196.4 435.6,195.5 435.7,194.6 435.8,193.7 435.9,192.5 436.1,191.2 436.2,189.8 436.3,188.3 436.4,186.8 436.5,185.3 436.7,183.8 436.8,182.4 436.9,181.1 437,180 437.2,179.1 437.3,178.3 437.4,177.9 437.5,177.7 437.7,177.8 437.8,178 437.9,178.4 438,178.9 438.1,179.4 438.3,180.1 438.4,180.8 438.5,181.5 438.6,182.3 438.8,183.1 438.9,184.2 439,185.5 439.1,187.2 439.3,189 439.4,191 439.5,193 439.6,194.9 439.7,196.6 439.9,198.2 440,199.4 440.1,200.4 440.2,201.4 440.4,202.3 440.5,203.3 440.6,204.1 440.7,205 440.9,205.8 441,206.5 441.1,207.2 441.2,207.9 441.3,208.5 441.5,209 441.6,209.5 441.7,209.9 441.8,210.2 442,210.5 442.1,210.8 442.2,211.1 442.3,211.4 442.5,211.6 442.6,211.9 442.7,212.1 442.8,212.3 442.9,212.6 443.1,212.8 443.2,213 443.3,213.2 443.4,213.4 443.6,213.6 443.7,213.8 443.8,214 443.9,214.1 444,214.3 444.2,214.4 444.3,214.6 444.4,214.7 444.5,214.9 444.7,215 444.8,215.1 444.9,215.3 445,215.4 445.2,215.5 445.3,215.6 445.4,215.7 445.5,215.8 445.6,215.9 445.8,216 445.9,216.1 446,216.2 446.1,216.3 446.3,216.4 446.4,216.5 446.5,216.6 446.6,216.6 446.8,216.7 446.9,216.8 447,216.9 447.1,217 447.2,217.1 447.4,217.1 447.5,217.2 447.6,217.3 447.7,217.3 447.9,217.4 448,217.5 448.1,217.6 448.2,217.6 448.4,217.7 448.5,217.7 448.6,217.8 448.7,217.9 448.8,217.9 449,218 449.1,218 449.2,218.1 449.3,218.1 449.5,218.2 449.6,218.2 449.7,218.3 449.8,218.3 450,218.4 450.1,218.4 450.2,218.5 450.3,218.5 450.4,218.5 450.6,218.6 450.7,218.6 450.8,218.6 450.9,218.6 451.1,218.7 451.2,218.7 451.3,218.7 451.4,218.7 451.6,218.8 451.7,218.8 451.8,218.8 451.9,218.8 452,218.9 452.2,218.9 452.3,218.9 452.4,218.9 452.5,219 452.7,219 452.8,219 452.9,219 453,219 453.2,219.1 453.3,219.1 453.4,219.1 453.5,219.1 453.6,219.1 453.8,219.2 453.9,219.2 454,219.2 454.1,219.2 454.3,219.2 454.4,219.2 454.5,219.3 454.6,219.3 454.8,219.3 454.9,219.3 455,219.3 455.1,219.4 455.2,219.4 455.4,219.4 455.5,219.4 455.6,219.4 455.7,219.4 455.9,219.4 456,219.5 456.1,219.5 456.2,219.5 456.3,219.5 456.5,219.5 456.6,219.5 456.7,219.5 456.8,219.6 457,219.6 457.1,219.6 457.2,219.6 457.3,219.6 457.5,219.6 457.6,219.6 457.7,219.6 457.8,219.6 457.9,219.7 458.1,219.7 458.2,219.7 458.3,219.7 458.4,219.7 458.6,219.7 458.7,219.7 458.8,219.7 458.9,219.7 459.1,219.7 459.2,219.7 459.3,219.8 459.4,219.8 459.5,219.8 459.7,219.8 459.8,219.8 459.9,219.8 460,219.8 460.2,219.8 460.3,219.8 460.4,219.8 460.5,219.8 460.7,219.8 460.8,219.8 460.9,219.8 461,219.8 461.1,219.8 461.3,219.8 461.4,219.8 461.5,219.8 461.6,219.8 461.8,219.8 461.9,219.9 462,219.9 462.1,219.9 462.3,219.9 462.4,219.9 462.5,219.9 462.6,219.9 462.7,219.9 462.9,219.9 463,219.9 463.1,219.9 463.2,219.9 463.4,219.9 463.5,219.9 463.6,219.9 463.7,219.9 463.9,219.9 464,219.9 464.1,219.9 464.2,219.9 464.3,219.9 464.5,219.9 464.6,219.9 464.7,219.9 464.8,219.9 465,219.9 465.1,219.9 465.2,219.9 465.3,219.9 465.5,219.9 465.6,219.9 465.7,219.9 465.8,219.9 465.9,219.9 466.1,220 466.2,220 466.3,220 466.4,220 466.6,220 466.7,220 466.8,220 466.9,220 467.1,220 467.2,220 467.3,220 467.4,220 467.5,220 467.7,220 467.8,220 467.9,220 468,220 468.2,220 468.3,220 468.4,220 468.5,220 468.6,220 468.8,220 468.9,220 469,220 469.1,220 469.3,220 469.4,220 469.5,220 469.6,220 469.8,220 469.9,220 470,220 470.1,220 470.2,220 470.4,220 470.5,220 470.6,220 470.7,220 470.9,220 471,220 471.1,220 471.2,220 471.4,220 471.5,220 471.6,220 471.7,220 471.8,220 472,220 472.1,220 472.2,220 472.3,220 472.5,220 472.6,220 472.7,220 472.8,220 473,220 473.1,220 473.2,220" fill="none" stroke="#e8382d" stroke-width="1.9" stroke-linejoin="round" stroke-linecap="round"/>
<path d="M424,285.3 424.1,285.2 424.2,285 424.4,284.9 424.5,284.8 424.6,284.6 424.7,284.5 424.9,284.4 425,284.2 425.1,284.1 425.2,283.9 425.4,283.7 425.5,283.6 425.6,283.4 425.7,283.3 425.8,283.1 426,282.9 426.1,282.7 426.2,282.6 426.3,282.4 426.5,282.2 426.6,282 426.7,281.9 426.8,281.7 427,281.5 427.1,281.3 427.2,281.1 427.3,280.9 427.4,280.7 427.6,280.5 427.7,280.3 427.8,280.1 427.9,279.9 428.1,279.7 428.2,279.5 428.3,279.3 428.4,279.1 428.6,278.9 428.7,278.6 428.8,278.4 428.9,278.2 429,278 429.2,277.8 429.3,277.6 429.4,277.3 429.5,277.1 429.7,276.9 429.8,276.7 429.9,276.4 430,276.2 430.2,276 430.3,275.7 430.4,275.5 430.5,275.2 430.6,275 430.8,274.7 430.9,274.4 431,274.2 431.1,273.9 431.3,273.6 431.4,273.3 431.5,273 431.6,272.7 431.7,272.4 431.9,272.1 432,271.8 432.1,271.5 432.2,271.2 432.4,270.8 432.5,270.5 432.6,270.1 432.7,269.8 432.9,269.4 433,269 433.1,268.5 433.2,268.1 433.3,267.7 433.5,267.2 433.6,266.7 433.7,266.2 433.8,265.7 434,265.2 434.1,264.7 434.2,264.1 434.3,263.6 434.5,263 434.6,262.4 434.7,261.8 434.8,261.2 434.9,260.6 435.1,260 435.2,259.4 435.3,258.7 435.4,257.9 435.6,257.2 435.7,256.4 435.8,255.6 435.9,254.8 436.1,254 436.2,253.2 436.3,252.4 436.4,251.6 436.5,250.7 436.7,249.8 436.8,248.8 436.9,247.8 437,246.9 437.2,246 437.3,245.2 437.4,244.5 437.5,244 437.7,243.7 437.8,243.6 437.9,243.7 438,243.9 438.1,244.4 438.3,244.9 438.4,245.6 438.5,246.3 438.6,247 438.8,247.8 438.9,248.6 439,249.4 439.1,250 439.3,250.7 439.4,251.1 439.5,251.6 439.6,252 439.7,252.4 439.9,252.8 440,253.2 440.1,253.6 440.2,254 440.4,254.3 440.5,254.7 440.6,255 440.7,255.3 440.9,255.5 441,255.8 441.1,256 441.2,256.2 441.3,256.4 441.5,256.5 441.6,256.7 441.7,256.9 441.8,257 442,257.1 442.1,257.3 442.2,257.4 442.3,257.5 442.5,257.7 442.6,257.8 442.7,257.9 442.8,258 442.9,258.1 443.1,258.2 443.2,258.3 443.3,258.4 443.4,258.5 443.6,258.6 443.7,258.7 443.8,258.7 443.9,258.8 444,258.9 444.2,259 444.3,259.1 444.4,259.2 444.5,259.2 444.7,259.3 444.8,259.4 444.9,259.5 445,259.6 445.2,259.7 445.3,259.8 445.4,259.9 445.5,260 445.6,260.1 445.8,260.2 445.9,260.3 446,260.4 446.1,260.5 446.3,260.6 446.4,260.7 446.5,260.9 446.6,261 446.8,261.1 446.9,261.3 447,261.4 447.1,261.5 447.2,261.7 447.4,261.8 447.5,262 447.6,262.1 447.7,262.3 447.9,262.4 448,262.5 448.1,262.7 448.2,262.8 448.4,263 448.5,263.1 448.6,263.3 448.7,263.4 448.8,263.6 449,263.7 449.1,263.9 449.2,264 449.3,264.2 449.5,264.3 449.6,264.5 449.7,264.6 449.8,264.8 450,264.9 450.1,265.1 450.2,265.2 450.3,265.3 450.4,265.5 450.6,265.6 450.7,265.7 450.8,265.8 450.9,266 451.1,266.1 451.2,266.2 451.3,266.3 451.4,266.4 451.6,266.5 451.7,266.6 451.8,266.7 451.9,266.8 452,266.9 452.2,267 452.3,267.1 452.4,267.2 452.5,267.2 452.7,267.3 452.8,267.4 452.9,267.5 453,267.5 453.2,267.6 453.3,267.7 453.4,267.8 453.5,267.8 453.6,267.9 453.8,268 453.9,268.1 454,268.1 454.1,268.2 454.3,268.3 454.4,268.4 454.5,268.4 454.6,268.5 454.8,268.6 454.9,268.6 455,268.7 455.1,268.8 455.2,268.8 455.4,268.9 455.5,268.9 455.6,269 455.7,269.1 455.9,269.1 456,269.2 456.1,269.2 456.2,269.3 456.3,269.4 456.5,269.4 456.6,269.5 456.7,269.5 456.8,269.6 457,269.6 457.1,269.7 457.2,269.7 457.3,269.8 457.5,269.8 457.6,269.9 457.7,269.9 457.8,269.9 457.9,270 458.1,270 458.2,270.1 458.3,270.1 458.4,270.1 458.6,270.2 458.7,270.2 458.8,270.2 458.9,270.2 459.1,270.3 459.2,270.3 459.3,270.3 459.4,270.3 459.5,270.4 459.7,270.4 459.8,270.4 459.9,270.4 460,270.4 460.2,270.4 460.3,270.5 460.4,270.5 460.5,270.5 460.7,270.5 460.8,270.5 460.9,270.5 461,270.5 461.1,270.6 461.3,270.6 461.4,270.6 461.5,270.6 461.6,270.6 461.8,270.6 461.9,270.6 462,270.7 462.1,270.7 462.3,270.7 462.4,270.7 462.5,270.7 462.6,270.7 462.7,270.7 462.9,270.7 463,270.8 463.1,270.8 463.2,270.8 463.4,270.8 463.5,270.8 463.6,270.8 463.7,270.8 463.9,270.8 464,270.8 464.1,270.8 464.2,270.8 464.3,270.8 464.5,270.8 464.6,270.9 464.7,270.9 464.8,270.9 465,270.9 465.1,270.9 465.2,270.9 465.3,270.9 465.5,270.9 465.6,270.9 465.7,270.9 465.8,270.9 465.9,270.9 466.1,270.9 466.2,270.9 466.3,270.9 466.4,270.9 466.6,270.9 466.7,270.9 466.8,270.9 466.9,270.9 467.1,270.9 467.2,270.9 467.3,270.9 467.4,270.9 467.5,270.9 467.7,270.9 467.8,270.8 467.9,270.8 468,270.8 468.2,270.8 468.3,270.8 468.4,270.8 468.5,270.8 468.6,270.8 468.8,270.8 468.9,270.8 469,270.8 469.1,270.8 469.3,270.8 469.4,270.8 469.5,270.8 469.6,270.8 469.8,270.7 469.9,270.7 470,270.7 470.1,270.7 470.2,270.7 470.4,270.7 470.5,270.7 470.6,270.7 470.7,270.7 470.9,270.7 471,270.6 471.1,270.6 471.2,270.6 471.4,270.6 471.5,270.6 471.6,270.6 471.7,270.6 471.8,270.6 472,270.5 472.1,270.5 472.2,270.5 472.3,270.5 472.5,270.5 472.6,270.5 472.7,270.4 472.8,270.4 473,270.4 473.1,270.4 473.2,270.4" fill="none" stroke="#1c1c1c" stroke-width="1.7" stroke-linejoin="round" stroke-linecap="round"/>
<path d="M424,285.8 424.1,285.8 424.2,285.6 424.4,285.4 424.5,285.2 424.6,285.2 424.7,285.1 424.9,285 425,284.8 425.1,284.6 425.2,284.5 425.4,284.5 425.5,284.3 425.6,284 425.7,284 425.8,284 426,283.7 426.1,283.7 426.2,283.5 426.3,283.3 426.5,283.2 426.6,283 426.7,282.9 426.8,282.8 427,282.6 427.1,282.4 427.2,282.4 427.3,282.2 427.4,282.1 427.6,281.9 427.7,281.8 427.8,281.6 427.9,281.4 428.1,281.3 428.2,281.2 428.3,281 428.4,280.9 428.6,280.8 428.7,280.5 428.8,280.5 428.9,280.2 429,280.2 429.2,279.9 429.3,279.8 429.4,279.6 429.5,279.5 429.7,279.4 429.8,279.2 429.9,279 430,278.7 430.2,278.7 430.3,278.4 430.4,278.4 430.5,278.2 430.6,278 430.8,277.7 430.9,277.6 431,277.3 431.1,277.2 431.3,277.1 431.4,276.9 431.5,276.8 431.6,276.6 431.7,276.3 431.9,276.3 432,276.1 432.1,275.9 432.2,275.7 432.4,275.6 432.5,275.4 432.6,275.2 432.7,275.1 432.9,274.8 433,274.8 433.1,274.6 433.2,274.5 433.3,274.1 433.5,274.1 433.6,274 433.7,273.9 433.8,273.6 434,273.5 434.1,273.4 434.2,273 434.3,273 434.5,272.7 434.6,272.5 434.7,272.3 434.8,272 434.9,271.6 435.1,271.4 435.1,271.5 435.2,271.2 435.3,270.6 435.4,270.1 435.6,269.5 435.7,268.9 435.8,268.2 435.9,267.5 436.1,266.7 436.2,265.9 436.3,265.1 436.4,263.9 436.5,262.9 436.7,261.7 436.8,259.8 436.9,258.4 437,257 437.2,255.3 437.3,254 437.4,252.9 437.5,252 437.7,251.5 437.8,251.1 437.8,251 437.9,251.3 438,251.5 438.1,251.7 438.3,252.6 438.4,253 438.5,253.7 438.6,254.5 438.8,255.2 438.9,255.7 439,256.2 439,256.3 439.1,256.7 439.3,257.3 439.4,257.9 439.5,258.5 439.6,259.2 439.7,259.8 439.9,260.1 440,260.7 440.1,261.1 440.2,261.2 440.2,261.4 440.4,261.4 440.5,261.4 440.6,261.5 440.7,261.5 440.9,261.7 441,261.9 441.1,261.6 441.2,261.7 441.3,262 441.5,261.8 441.6,262 441.7,262.2 441.8,262.1 442,262.1 442.1,262 442.2,262.3 442.3,262.2 442.4,262.3 442.5,262.3 442.6,262.4 442.7,262.4 442.8,262.3 442.9,262.4 443.1,262.7 443.2,262.7 443.3,262.7 443.4,262.8 443.6,262.8 443.7,263 443.8,262.7 443.9,262.9 444,263.1 444.2,263 444.3,263 444.4,263.4 444.5,263.3 444.7,263.3 444.8,263.3 444.9,263.4 445,263.5 445.2,263.5 445.3,263.4 445.4,263.4 445.5,263.8 445.6,263.9 445.8,263.6 445.9,264 446,264 446.1,264 446.3,264 446.4,264.1 446.5,264.3 446.6,264.3 446.8,264.4 446.9,264.3 447,264.6 447.1,264.8 447.2,264.8 447.4,264.7 447.5,264.9 447.6,265.2 447.7,265.1 447.9,265.2 448,265.1 448.1,265.4 448.2,265.4 448.4,265.4 448.5,265.7 448.6,265.7 448.7,265.6 448.8,265.7 449,265.9 449.1,266 449.2,266 449.3,266.2 449.5,266.3 449.6,266.5 449.7,266.5 449.8,266.6 450,266.4 450.1,266.8 450.2,266.7 450.3,266.8 450.4,267 450.6,267 450.7,267.4 450.8,267.3 450.9,267.3 451.1,267.6 451.2,267.6 451.3,267.5 451.4,267.7 451.6,267.8 451.7,267.8 451.8,267.9 451.9,267.9 452,267.9 452.2,268.1 452.3,268.2 452.3,268.1 452.4,268 452.5,268.2 452.7,268.2 452.8,268.3 452.9,268.5 453,268.5 453.2,268.4 453.3,268.5 453.4,268.7 453.5,268.8 453.6,268.7 453.8,268.8 453.9,268.9 454,268.9 454.1,268.9 454.3,269 454.4,269 454.5,269 454.6,269 454.8,269.1 454.9,269.3 455,269.3 455.1,269.3 455.2,269.4 455.4,269.4 455.5,269.4 455.6,269.6 455.7,269.8 455.9,269.6 456,269.7 456.1,269.7 456.2,269.9 456.3,269.7 456.5,269.8 456.6,270 456.7,270 456.8,270 457,270.1 457.1,270.1 457.2,270.2 457.3,270.1 457.5,270.2 457.6,270.2 457.7,270.3 457.8,270.5 457.9,270.3 458.1,270.4 458.2,270.4 458.3,270.4 458.4,270.5 458.6,270.4 458.7,270.6 458.8,270.6 458.9,270.6 459.1,270.5 459.2,270.5 459.3,270.6 459.4,270.7 459.5,270.5 459.7,270.7 459.7,270.5 459.8,270.6 459.9,270.7 460,270.7 460.2,270.6 460.3,270.6 460.4,270.7 460.5,270.6 460.7,270.5 460.8,270.7 460.9,270.8 461,270.8 461.1,270.8 461.3,270.8 461.4,270.8 461.5,270.9 461.6,270.7 461.8,271 461.9,270.9 462,270.6 462.1,270.7 462.3,270.7 462.4,270.8 462.5,270.6 462.6,270.8 462.7,270.8 462.9,270.9 463,270.8 463.1,270.9 463.2,270.9 463.4,270.9 463.5,270.8 463.6,270.9 463.7,270.8 463.9,271 464,270.9 464.1,270.7 464.2,270.9 464.3,270.8 464.5,270.8 464.6,270.8 464.7,270.8 464.8,271 465,270.9 465.1,270.9 465.2,271 465.3,270.9 465.5,271 465.6,271 465.7,270.9 465.8,270.9 465.9,271 466.1,270.9 466.2,270.9 466.3,270.9 466.4,270.9 466.6,270.9 466.7,270.8 466.8,270.8 466.9,270.8 467.1,270.9 467.2,270.9 467.3,270.8 467.4,270.9 467.5,270.9 467.7,271.1 467.8,271.1 467.9,270.8 468,270.8 468.2,270.7 468.3,270.8 468.4,270.8 468.5,270.8 468.6,270.9 468.8,270.7 468.9,270.8 469,270.7 469.1,270.8 469.3,270.7 469.4,270.7 469.5,270.8 469.6,270.8 469.8,270.8 469.9,270.7 470,270.6 470.1,270.7 470.2,270.6 470.4,270.6 470.5,270.6 470.6,270.6 470.7,270.7 470.9,270.6 471,270.5 471.1,270.7 471.2,270.6 471.4,270.6 471.5,270.5 471.6,270.7 471.7,270.4 471.8,270.6 472,270.7 472.1,270.4 472.2,270.4 472.3,270.4 472.5,270.4 472.6,270.5 472.7,270.5 472.8,270.4 473,270.3 473.1,270.3 473.2,270.4" fill="none" stroke="#e8382d" stroke-width="1.8" stroke-linejoin="round" stroke-linecap="round"/>
<path d="M424,353.9 424.1,353.8 424.2,353.8 424.4,353.7 424.5,353.7 424.6,353.6 424.7,353.5 424.9,353.5 425,353.4 425.1,353.3 425.2,353.2 425.4,353.1 425.5,353 425.6,352.9 425.7,352.8 425.8,352.7 426,352.6 426.1,352.4 426.2,352.3 426.3,352.2 426.5,352 426.6,351.9 426.7,351.8 426.8,351.6 427,351.5 427.1,351.3 427.2,351.2 427.3,351 427.4,350.9 427.6,350.7 427.7,350.6 427.8,350.4 427.9,350.2 428.1,350.1 428.2,349.9 428.3,349.7 428.4,349.6 428.6,349.4 428.7,349.2 428.8,349 428.9,348.9 429,348.7 429.2,348.5 429.3,348.3 429.4,348.1 429.5,347.9 429.7,347.7 429.8,347.5 429.9,347.3 430,347 430.2,346.8 430.3,346.6 430.4,346.3 430.5,346 430.6,345.8 430.8,345.5 430.9,345.2 431,345 431.1,344.7 431.3,344.4 431.4,344.1 431.5,343.7 431.6,343.4 431.7,343.1 431.9,342.8 432,342.4 432.1,342.1 432.2,341.7 432.4,341.4 432.5,341 432.6,340.6 432.7,340.2 432.9,339.8 433,339.3 433.1,338.9 433.2,338.4 433.3,337.9 433.5,337.3 433.6,336.8 433.7,336.2 433.8,335.6 434,335 434.1,334.4 434.2,333.7 434.3,333.1 434.5,332.4 434.6,331.7 434.7,331 434.8,330.3 434.9,329.5 435.1,328.8 435.2,328 435.3,327.2 435.4,326.3 435.6,325.3 435.7,324.3 435.8,323.3 435.9,322.2 436.1,321.2 436.2,320.1 436.3,319 436.4,318 436.5,317 436.7,315.9 436.8,315 436.9,314 437,313.1 437.2,312 437.3,310.8 437.4,309.8 437.5,309 437.7,308.4 437.8,308.1 437.9,308.3 438,308.9 438.1,309.7 438.3,310.7 438.4,311.9 438.5,313.3 438.6,314.8 438.8,316.3 438.9,317.8 439,319.3 439.1,320.7 439.3,321.9 439.4,322.9 439.5,323.8 439.6,324.7 439.7,325.6 439.9,326.5 440,327.4 440.1,328.3 440.2,329.2 440.4,330 440.5,330.8 440.6,331.6 440.7,332.4 440.9,333.1 441,333.9 441.1,334.5 441.2,335.2 441.3,335.8 441.5,336.3 441.6,336.8 441.7,337.3 441.8,337.6 441.8,337.7 442,338 442.1,338.4 442.2,338.7 442.3,339 442.5,339.4 442.6,339.7 442.7,340 442.8,340.3 442.9,340.6 443.1,340.8 443.2,341.1 443.3,341.4 443.4,341.6 443.6,341.9 443.7,342.1 443.8,342.4 443.9,342.6 444,342.8 444.2,343 444.3,343.2 444.4,343.4 444.5,343.6 444.7,343.8 444.8,344 444.9,344.2 445,344.3 445.2,344.5 445.3,344.7 445.4,344.8 445.5,345 445.6,345.1 445.8,345.2 445.9,345.4 446,345.5 446.1,345.6 446.3,345.7 446.4,345.9 446.5,346 446.6,346.1 446.8,346.2 446.9,346.3 447,346.4 447.1,346.5 447.2,346.6 447.4,346.7 447.5,346.8 447.6,346.9 447.7,347.1 447.9,347.2 448,347.3 448.1,347.3 448.2,347.4 448.4,347.5 448.5,347.6 448.6,347.7 448.7,347.8 448.8,347.9 449,348 449.1,348.1 449.2,348.2 449.3,348.2 449.5,348.3 449.6,348.4 449.7,348.5 449.8,348.6 450,348.7 450.1,348.7 450.2,348.8 450.3,348.9 450.4,349 450.6,349 450.7,349.1 450.8,349.2 450.9,349.2 451.1,349.3 451.2,349.4 451.3,349.4 451.4,349.5 451.6,349.6 451.7,349.6 451.8,349.7 451.9,349.8 452,349.8 452.2,349.9 452.3,349.9 452.4,350 452.5,350 452.7,350.1 452.8,350.2 452.9,350.2 453,350.3 453.2,350.3 453.3,350.4 453.4,350.4 453.5,350.5 453.6,350.5 453.8,350.6 453.9,350.6 454,350.7 454.1,350.7 454.3,350.7 454.4,350.8 454.5,350.8 454.6,350.9 454.8,350.9 454.9,351 455,351 455.1,351.1 455.2,351.1 455.4,351.1 455.5,351.2 455.6,351.2 455.7,351.3 455.9,351.3 456,351.3 456.1,351.4 456.2,351.4 456.3,351.4 456.5,351.5 456.6,351.5 456.7,351.6 456.8,351.6 457,351.6 457.1,351.7 457.2,351.7 457.3,351.7 457.5,351.8 457.6,351.8 457.7,351.8 457.8,351.9 457.9,351.9 458.1,351.9 458.2,352 458.3,352 458.4,352 458.6,352.1 458.7,352.1 458.8,352.1 458.9,352.2 459.1,352.2 459.2,352.2 459.3,352.2 459.4,352.3 459.5,352.3 459.7,352.3 459.8,352.4 459.9,352.4 460,352.4 460.2,352.4 460.3,352.5 460.4,352.5 460.5,352.5 460.7,352.5 460.8,352.6 460.9,352.6 461,352.6 461.1,352.6 461.3,352.7 461.4,352.7 461.5,352.7 461.6,352.7 461.8,352.7 461.9,352.8 462,352.8 462.1,352.8 462.3,352.8 462.4,352.8 462.5,352.9 462.6,352.9 462.7,352.9 462.9,352.9 463,352.9 463.1,353 463.2,353 463.4,353 463.5,353 463.6,353 463.7,353 463.9,353.1 464,353.1 464.1,353.1 464.2,353.1 464.3,353.1 464.5,353.1 464.6,353.2 464.7,353.2 464.8,353.2 465,353.2 465.1,353.2 465.2,353.2 465.3,353.2 465.5,353.3 465.6,353.3 465.7,353.3 465.8,353.3 465.9,353.3 466.1,353.3 466.2,353.4 466.3,353.4 466.4,353.4 466.6,353.4 466.7,353.4 466.8,353.4 466.9,353.4 467.1,353.5 467.2,353.5 467.3,353.5 467.4,353.5 467.5,353.5 467.7,353.5 467.8,353.5 467.9,353.5 468,353.6 468.2,353.6 468.3,353.6 468.4,353.6 468.5,353.6 468.6,353.6 468.8,353.6 468.9,353.6 469,353.7 469.1,353.7 469.3,353.7 469.4,353.7 469.5,353.7 469.6,353.7 469.8,353.7 469.9,353.7 470,353.7 470.1,353.7 470.2,353.8 470.4,353.8 470.5,353.8 470.6,353.8 470.7,353.8 470.9,353.8 471,353.8 471.1,353.8 471.2,353.8 471.4,353.8 471.5,353.8 471.6,353.8 471.7,353.8 471.8,353.8 472,353.8 472.1,353.8 472.2,353.9 472.3,353.9 472.5,353.9 472.6,353.9 472.7,353.9 472.8,353.9 473,353.9 473.1,353.9 473.2,353.9" fill="none" stroke="#1c1c1c" stroke-width="1.7" stroke-linejoin="round" stroke-linecap="round"/>
<path d="M424,355.3 424.1,355.3 424.2,355.3 424.4,355.3 424.5,355.2 424.6,355.2 424.7,355.1 424.9,355.1 425,355 425.1,354.9 425.2,354.9 425.4,354.8 425.5,354.7 425.6,354.7 425.7,354.6 425.8,354.5 426,354.4 426.1,354.3 426.2,354.3 426.3,354.2 426.5,354.1 426.6,354 426.7,353.9 426.8,353.8 427,353.7 427.1,353.6 427.2,353.5 427.3,353.3 427.4,353.2 427.6,353.1 427.7,353 427.8,352.9 427.9,352.8 428.1,352.7 428.2,352.5 428.3,352.4 428.4,352.3 428.6,352.2 428.7,352.1 428.8,351.9 428.9,351.8 429,351.7 429.2,351.6 429.3,351.4 429.4,351.3 429.5,351.1 429.7,351 429.8,350.8 429.9,350.7 430,350.5 430.2,350.4 430.3,350.2 430.4,350 430.5,349.8 430.6,349.7 430.8,349.5 430.9,349.3 431,349.1 431.1,348.9 431.3,348.7 431.4,348.4 431.5,348.2 431.6,348 431.7,347.8 431.9,347.5 432,347.3 432.1,347 432.2,346.7 432.4,346.5 432.5,346.2 432.6,345.9 432.7,345.6 432.9,345.3 433,344.9 433.1,344.5 433.2,344.1 433.3,343.7 433.5,343.2 433.6,342.8 433.7,342.3 433.8,341.8 434,341.2 434.1,340.7 434.2,340.2 434.3,339.6 434.5,339 434.6,338.5 434.7,337.9 434.8,337.3 434.9,336.8 435.1,336.2 435.2,335.6 435.3,334.9 435.4,334.2 435.6,333.5 435.7,332.8 435.8,332 435.9,331.3 436.1,330.5 436.2,329.8 436.3,329 436.4,328.3 436.5,327.6 436.7,327 436.8,326.4 436.9,325.8 437,325.3 437.2,324.7 437.3,324.2 437.4,323.7 437.5,323.3 437.7,323 437.8,322.9 437.9,323 438,323.4 438.1,324 438.3,324.7 438.4,325.6 438.5,326.5 438.6,327.6 438.8,328.6 438.9,329.7 439,330.7 439.1,331.7 439.3,332.5 439.4,333.2 439.5,333.9 439.6,334.5 439.7,335.1 439.9,335.7 440,336.4 440.1,337 440.2,337.6 440.4,338.1 440.5,338.7 440.6,339.3 440.7,339.8 440.9,340.3 441,340.8 441.1,341.3 441.2,341.7 441.3,342.2 441.5,342.5 441.6,342.9 441.7,343.2 441.8,343.6 442,343.8 442.1,344.1 442.2,344.4 442.3,344.6 442.5,344.9 442.6,345.2 442.7,345.4 442.8,345.6 442.9,345.9 443.1,346.1 443.2,346.3 443.3,346.6 443.4,346.8 443.6,347 443.7,347.2 443.8,347.4 443.9,347.6 444,347.8 444.2,347.9 444.3,348.1 444.4,348.3 444.5,348.4 444.7,348.6 444.8,348.8 444.9,348.9 445,349 445.2,349.2 445.3,349.3 445.4,349.4 445.5,349.5 445.6,349.7 445.8,349.8 445.9,349.9 446,350 446.1,350 446.3,350.1 446.4,350.2 446.5,350.3 446.6,350.4 446.8,350.4 446.9,350.5 447,350.6 447.1,350.7 447.2,350.8 447.4,350.8 447.5,350.9 447.6,351 447.7,351 447.9,351.1 448,351.2 448.1,351.2 448.2,351.3 448.4,351.4 448.5,351.4 448.6,351.5 448.7,351.5 448.8,351.6 449,351.7 449.1,351.7 449.2,351.8 449.3,351.8 449.5,351.9 449.6,351.9 449.7,352 449.8,352 450,352.1 450.1,352.1 450.2,352.2 450.3,352.2 450.4,352.3 450.6,352.3 450.7,352.4 450.8,352.4 450.9,352.5 451.1,352.5 451.2,352.6 451.3,352.6 451.4,352.6 451.6,352.7 451.7,352.7 451.8,352.8 451.9,352.8 452,352.8 452.2,352.9 452.3,352.9 452.4,353 452.5,353 452.7,353 452.8,353.1 452.9,353.1 453,353.1 453.2,353.2 453.3,353.2 453.4,353.2 453.5,353.3 453.6,353.3 453.8,353.3 453.9,353.4 454,353.4 454.1,353.4 454.3,353.5 454.4,353.5 454.5,353.5 454.6,353.6 454.8,353.6 454.9,353.6 455,353.6 455.1,353.7 455.2,353.7 455.4,353.7 455.5,353.8 455.6,353.8 455.7,353.8 455.9,353.8 456,353.9 456.1,353.9 456.2,353.9 456.3,354 456.5,354 456.6,354 456.7,354 456.8,354.1 457,354.1 457.1,354.1 457.2,354.1 457.3,354.2 457.5,354.2 457.6,354.2 457.7,354.3 457.8,354.3 457.9,354.3 458.1,354.3 458.2,354.4 458.3,354.4 458.4,354.4 458.6,354.4 458.7,354.5 458.8,354.5 458.9,354.5 459.1,354.5 459.2,354.5 459.3,354.6 459.4,354.6 459.5,354.6 459.7,354.6 459.8,354.7 459.9,354.7 460,354.7 460.2,354.7 460.3,354.7 460.4,354.7 460.5,354.8 460.7,354.8 460.8,354.8 460.9,354.8 461,354.8 461.1,354.9 461.3,354.9 461.4,354.9 461.5,354.9 461.6,354.9 461.8,354.9 461.9,354.9 462,355 462.1,355 462.3,355 462.4,355 462.5,355 462.6,355 462.7,355 462.9,355 463,355 463.1,355 463.2,355 463.4,355.1 463.5,355.1 463.6,355.1 463.7,355.1 463.9,355.1 464,355.1 464.1,355.1 464.2,355.1 464.3,355.1 464.5,355.1 464.6,355.1 464.7,355.1 464.8,355.1 465,355.1 465.1,355.1 465.2,355.1 465.3,355.2 465.5,355.2 465.6,355.2 465.7,355.2 465.8,355.2 465.9,355.2 466.1,355.2 466.2,355.2 466.3,355.2 466.4,355.2 466.6,355.2 466.7,355.2 466.8,355.2 466.9,355.2 467.1,355.2 467.2,355.2 467.3,355.2 467.4,355.2 467.5,355.2 467.7,355.2 467.8,355.2 467.9,355.3 468,355.3 468.2,355.3 468.3,355.3 468.4,355.3 468.5,355.3 468.6,355.3 468.8,355.3 468.9,355.3 469,355.3 469.1,355.3 469.3,355.3 469.4,355.3 469.5,355.3 469.6,355.3 469.8,355.3 469.9,355.3 470,355.3 470.1,355.3 470.2,355.3 470.4,355.3 470.5,355.3 470.6,355.3 470.7,355.3 470.9,355.3 471,355.3 471.1,355.3 471.2,355.3 471.4,355.3 471.5,355.3 471.6,355.3 471.7,355.3 471.8,355.3 472,355.3 472.1,355.3 472.2,355.3 472.3,355.3 472.5,355.3 472.6,355.3 472.7,355.3 472.8,355.3 473,355.3 473.1,355.3 473.2,355.3" fill="none" stroke="#e8382d" stroke-width="1.8" stroke-linejoin="round" stroke-linecap="round"/>
<text x="504" y="14.5" font-size="19.5" fill="#1c1c1c">c</text>
<text x="591.7" y="39.7" font-size="8.4" fill="#1c1c1c" text-anchor="middle">-0.1kb</text>
<text x="592" y="49.6" font-size="8.4" fill="#1c1c1c" text-anchor="middle">to +0.3kb</text>
<text x="650.6" y="39.7" font-size="8.4" fill="#1c1c1c" text-anchor="middle">+0.5kb</text>
<text x="651.5" y="49.6" font-size="8.4" fill="#1c1c1c" text-anchor="middle">to +3kb</text>
<rect x="560.3" y="59.9" width="52.5" height="24" fill="#ebe6b3"/>
<rect x="621.1" y="56" width="59" height="31.9" fill="#cfe3b9"/>
<text x="585.3" y="70.4" font-size="8.4" fill="#1c1c1c" text-anchor="middle">Signal at</text>
<text x="585.6" y="79.4" font-size="8.4" fill="#1c1c1c" text-anchor="middle">TSS</text>
<text x="649.4" y="65.8" font-size="8.4" fill="#1c1c1c" text-anchor="middle">Signal at</text>
<text x="650.2" y="74.8" font-size="8.4" fill="#1c1c1c" text-anchor="middle">H3K79me3</text>
<text x="650.3" y="83.8" font-size="8.4" fill="#1c1c1c" text-anchor="middle">peak</text>
<line x1="575.4" y1="104.2" x2="575.4" y2="164.1" stroke="#333333" stroke-width="1.1"/>
<line x1="575.4" y1="164.1" x2="599.8" y2="164.1" stroke="#333333" stroke-width="1.1"/>
<line x1="572" y1="120.4" x2="575.4" y2="120.4" stroke="#333333" stroke-width="1"/>
<text x="572.4" y="122.6" font-size="6.4" fill="#666666" text-anchor="end">100</text>
<line x1="572" y1="141.1" x2="575.4" y2="141.1" stroke="#333333" stroke-width="1"/>
<text x="572.4" y="143.3" font-size="6.4" fill="#666666" text-anchor="end">50</text>
<line x1="572" y1="161" x2="575.4" y2="161" stroke="#333333" stroke-width="1"/>
<text x="572.4" y="163.2" font-size="6.4" fill="#666666" text-anchor="end">0</text>
<line x1="582.15" y1="164.1" x2="582.15" y2="167.3" stroke="#333333" stroke-width="1"/>
<line x1="582.15" y1="107.3" x2="582.15" y2="130.5" stroke="#1c1c1c" stroke-width="1.8"/>
<line x1="582.15" y1="147.4" x2="582.15" y2="161" stroke="#1c1c1c" stroke-width="1.8"/>
<rect x="578.1" y="130.5" width="8.1" height="16.9" fill="none" stroke="#1c1c1c" stroke-width="1.8"/>
<line x1="578.1" y1="139.7" x2="586.2" y2="139.7" stroke="#1c1c1c" stroke-width="1.8"/>
<line x1="593" y1="164.1" x2="593" y2="167.3" stroke="#333333" stroke-width="1"/>
<line x1="593" y1="109.3" x2="593" y2="132.3" stroke="#e8382d" stroke-width="1.7"/>
<line x1="593" y1="148.4" x2="593" y2="161" stroke="#e8382d" stroke-width="1.7"/>
<rect x="588.6" y="132.3" width="8.8" height="16.1" fill="none" stroke="#e8382d" stroke-width="1.7"/>
<line x1="588.6" y1="140.9" x2="597.4" y2="140.9" stroke="#e8382d" stroke-width="1.7"/>
<text x="591.6" y="101.9" font-size="7" fill="#333" text-anchor="middle" font-style="italic">p&lt;2e-16</text>
<line x1="640.6" y1="103.5" x2="640.6" y2="163.6" stroke="#333333" stroke-width="1.1"/>
<line x1="640.6" y1="163.6" x2="665" y2="163.6" stroke="#333333" stroke-width="1.1"/>
<line x1="637.2" y1="112.3" x2="640.6" y2="112.3" stroke="#333333" stroke-width="1"/>
<text x="637" y="114.5" font-size="6.4" fill="#666666" text-anchor="end">20</text>
<line x1="637.2" y1="124.9" x2="640.6" y2="124.9" stroke="#333333" stroke-width="1"/>
<text x="637" y="127.1" font-size="6.4" fill="#666666" text-anchor="end">15</text>
<line x1="637.2" y1="137" x2="640.6" y2="137" stroke="#333333" stroke-width="1"/>
<text x="637" y="139.2" font-size="6.4" fill="#666666" text-anchor="end">10</text>
<line x1="637.2" y1="149.1" x2="640.6" y2="149.1" stroke="#333333" stroke-width="1"/>
<text x="637" y="151.3" font-size="6.4" fill="#666666" text-anchor="end">5</text>
<line x1="637.2" y1="160.9" x2="640.6" y2="160.9" stroke="#333333" stroke-width="1"/>
<text x="637" y="163.1" font-size="6.4" fill="#666666" text-anchor="end">0</text>
<line x1="647.15" y1="163.6" x2="647.15" y2="166.8" stroke="#333333" stroke-width="1"/>
<line x1="647.15" y1="106.9" x2="647.15" y2="133.5" stroke="#1c1c1c" stroke-width="1.8"/>
<line x1="647.15" y1="152.2" x2="647.15" y2="160.9" stroke="#1c1c1c" stroke-width="1.8"/>
<rect x="642.8" y="133.5" width="8.7" height="18.7" fill="none" stroke="#1c1c1c" stroke-width="1.8"/>
<line x1="642.8" y1="145.8" x2="651.5" y2="145.8" stroke="#1c1c1c" stroke-width="1.8"/>
<line x1="658.15" y1="163.6" x2="658.15" y2="166.8" stroke="#333333" stroke-width="1"/>
<line x1="658.15" y1="115" x2="658.15" y2="137.6" stroke="#e8382d" stroke-width="1.7"/>
<line x1="658.15" y1="153.2" x2="658.15" y2="160.9" stroke="#e8382d" stroke-width="1.7"/>
<rect x="653.5" y="137.6" width="9.3" height="15.6" fill="none" stroke="#e8382d" stroke-width="1.7"/>
<line x1="653.5" y1="148.5" x2="662.8" y2="148.5" stroke="#e8382d" stroke-width="1.7"/>
<text x="656" y="100.5" font-size="7" fill="#333" text-anchor="middle" font-style="italic">p&lt;2e-16</text>
<line x1="575.4" y1="192.9" x2="575.4" y2="253.3" stroke="#333333" stroke-width="1.1"/>
<line x1="575.4" y1="253.3" x2="599.8" y2="253.3" stroke="#333333" stroke-width="1.1"/>
<line x1="572" y1="196.7" x2="575.4" y2="196.7" stroke="#333333" stroke-width="1"/>
<text x="572.4" y="198.9" font-size="6.4" fill="#666666" text-anchor="end">50</text>
<line x1="572" y1="207.4" x2="575.4" y2="207.4" stroke="#333333" stroke-width="1"/>
<text x="572.4" y="209.6" font-size="6.4" fill="#666666" text-anchor="end">40</text>
<line x1="572" y1="218.3" x2="575.4" y2="218.3" stroke="#333333" stroke-width="1"/>
<text x="572.4" y="220.5" font-size="6.4" fill="#666666" text-anchor="end">30</text>
<line x1="572" y1="229.3" x2="575.4" y2="229.3" stroke="#333333" stroke-width="1"/>
<text x="572.4" y="231.5" font-size="6.4" fill="#666666" text-anchor="end">20</text>
<line x1="572" y1="240" x2="575.4" y2="240" stroke="#333333" stroke-width="1"/>
<text x="572.4" y="242.2" font-size="6.4" fill="#666666" text-anchor="end">10</text>
<line x1="572" y1="250.2" x2="575.4" y2="250.2" stroke="#333333" stroke-width="1"/>
<text x="572.4" y="252.4" font-size="6.4" fill="#666666" text-anchor="end">0</text>
<line x1="582.15" y1="253.3" x2="582.15" y2="256.5" stroke="#333333" stroke-width="1"/>
<line x1="582.15" y1="195.5" x2="582.15" y2="220.1" stroke="#1c1c1c" stroke-width="1.8"/>
<line x1="582.15" y1="236.6" x2="582.15" y2="250.2" stroke="#1c1c1c" stroke-width="1.8"/>
<rect x="578.1" y="220.1" width="8.1" height="16.5" fill="none" stroke="#1c1c1c" stroke-width="1.8"/>
<line x1="578.1" y1="229.7" x2="586.2" y2="229.7" stroke="#1c1c1c" stroke-width="1.8"/>
<line x1="593" y1="253.3" x2="593" y2="256.5" stroke="#333333" stroke-width="1"/>
<line x1="593" y1="206.2" x2="593" y2="225.5" stroke="#e8382d" stroke-width="1.7"/>
<line x1="593" y1="239.6" x2="593" y2="250.2" stroke="#e8382d" stroke-width="1.7"/>
<rect x="588.6" y="225.5" width="8.8" height="14.1" fill="none" stroke="#e8382d" stroke-width="1.7"/>
<line x1="588.6" y1="233.5" x2="597.4" y2="233.5" stroke="#e8382d" stroke-width="1.7"/>
<text x="591.2" y="189.7" font-size="7" fill="#333" text-anchor="middle" font-style="italic">p&lt;2e-16</text>
<line x1="640.6" y1="191.4" x2="640.6" y2="252.3" stroke="#333333" stroke-width="1.1"/>
<line x1="640.6" y1="252.3" x2="665" y2="252.3" stroke="#333333" stroke-width="1.1"/>
<line x1="637.2" y1="199.3" x2="640.6" y2="199.3" stroke="#333333" stroke-width="1"/>
<text x="637" y="201.5" font-size="6.4" fill="#666666" text-anchor="end">30</text>
<line x1="637.2" y1="216.4" x2="640.6" y2="216.4" stroke="#333333" stroke-width="1"/>
<text x="637" y="218.6" font-size="6.4" fill="#666666" text-anchor="end">20</text>
<line x1="637.2" y1="233.3" x2="640.6" y2="233.3" stroke="#333333" stroke-width="1"/>
<text x="637" y="235.5" font-size="6.4" fill="#666666" text-anchor="end">10</text>
<line x1="637.2" y1="250" x2="640.6" y2="250" stroke="#333333" stroke-width="1"/>
<text x="637" y="252.2" font-size="6.4" fill="#666666" text-anchor="end">0</text>
<line x1="647.15" y1="252.3" x2="647.15" y2="255.5" stroke="#333333" stroke-width="1"/>
<line x1="647.15" y1="194.5" x2="647.15" y2="219.4" stroke="#1c1c1c" stroke-width="1.8"/>
<line x1="647.15" y1="236.3" x2="647.15" y2="250" stroke="#1c1c1c" stroke-width="1.8"/>
<rect x="642.8" y="219.4" width="8.7" height="16.9" fill="none" stroke="#1c1c1c" stroke-width="1.8"/>
<line x1="642.8" y1="230.1" x2="651.5" y2="230.1" stroke="#1c1c1c" stroke-width="1.8"/>
<line x1="658.15" y1="252.3" x2="658.15" y2="255.5" stroke="#333333" stroke-width="1"/>
<line x1="658.15" y1="197.1" x2="658.15" y2="220.4" stroke="#e8382d" stroke-width="1.7"/>
<line x1="658.15" y1="236.6" x2="658.15" y2="248.8" stroke="#e8382d" stroke-width="1.7"/>
<rect x="653.5" y="220.4" width="9.3" height="16.2" fill="none" stroke="#e8382d" stroke-width="1.7"/>
<line x1="653.5" y1="230.5" x2="662.8" y2="230.5" stroke="#e8382d" stroke-width="1.7"/>
<text x="656.5" y="187.9" font-size="7" fill="#333" text-anchor="middle" font-style="italic">p=3e-8</text>
<line x1="575.4" y1="284.2" x2="575.4" y2="344" stroke="#333333" stroke-width="1.1"/>
<line x1="575.4" y1="344" x2="599.8" y2="344" stroke="#333333" stroke-width="1.1"/>
<line x1="572" y1="294.3" x2="575.4" y2="294.3" stroke="#333333" stroke-width="1"/>
<text x="572.4" y="296.5" font-size="6.4" fill="#666666" text-anchor="end">30</text>
<line x1="572" y1="310.1" x2="575.4" y2="310.1" stroke="#333333" stroke-width="1"/>
<text x="572.4" y="312.3" font-size="6.4" fill="#666666" text-anchor="end">20</text>
<line x1="572" y1="325.8" x2="575.4" y2="325.8" stroke="#333333" stroke-width="1"/>
<text x="572.4" y="328" font-size="6.4" fill="#666666" text-anchor="end">10</text>
<line x1="572" y1="341.6" x2="575.4" y2="341.6" stroke="#333333" stroke-width="1"/>
<text x="572.4" y="343.8" font-size="6.4" fill="#666666" text-anchor="end">0</text>
<line x1="582.15" y1="344" x2="582.15" y2="347.2" stroke="#333333" stroke-width="1"/>
<line x1="582.15" y1="286.9" x2="582.15" y2="309.6" stroke="#1c1c1c" stroke-width="1.8"/>
<line x1="582.15" y1="325.4" x2="582.15" y2="341" stroke="#1c1c1c" stroke-width="1.8"/>
<rect x="578.1" y="309.6" width="8.1" height="15.8" fill="none" stroke="#1c1c1c" stroke-width="1.8"/>
<line x1="578.1" y1="318" x2="586.2" y2="318" stroke="#1c1c1c" stroke-width="1.8"/>
<line x1="593" y1="344" x2="593" y2="347.2" stroke="#333333" stroke-width="1"/>
<line x1="593" y1="301.8" x2="593" y2="318" stroke="#e8382d" stroke-width="1.7"/>
<line x1="593" y1="330.1" x2="593" y2="341.6" stroke="#e8382d" stroke-width="1.7"/>
<rect x="588.6" y="318" width="8.8" height="12.1" fill="none" stroke="#e8382d" stroke-width="1.7"/>
<line x1="588.6" y1="324.7" x2="597.4" y2="324.7" stroke="#e8382d" stroke-width="1.7"/>
<text x="592" y="282.2" font-size="7" fill="#333" text-anchor="middle" font-style="italic">p&lt;2e-16</text>
<line x1="583.2" y1="284.4" x2="593.6" y2="284.4" stroke="#444" stroke-width="0.9"/>
<line x1="640.6" y1="282.8" x2="640.6" y2="343.6" stroke="#333333" stroke-width="1.1"/>
<line x1="640.6" y1="343.6" x2="665" y2="343.6" stroke="#333333" stroke-width="1.1"/>
<line x1="637.2" y1="295.3" x2="640.6" y2="295.3" stroke="#333333" stroke-width="1"/>
<text x="637" y="297.5" font-size="6.4" fill="#666666" text-anchor="end">7.5</text>
<line x1="637.2" y1="312.3" x2="640.6" y2="312.3" stroke="#333333" stroke-width="1"/>
<text x="637" y="314.5" font-size="6.4" fill="#666666" text-anchor="end">5.0</text>
<line x1="637.2" y1="328.5" x2="640.6" y2="328.5" stroke="#333333" stroke-width="1"/>
<text x="637" y="330.7" font-size="6.4" fill="#666666" text-anchor="end">2.5</text>
<line x1="647.15" y1="343.6" x2="647.15" y2="346.8" stroke="#333333" stroke-width="1"/>
<line x1="647.15" y1="286" x2="647.15" y2="310.5" stroke="#1c1c1c" stroke-width="1.8"/>
<line x1="647.15" y1="327.8" x2="647.15" y2="340.5" stroke="#1c1c1c" stroke-width="1.8"/>
<rect x="642.8" y="310.5" width="8.7" height="17.3" fill="none" stroke="#1c1c1c" stroke-width="1.8"/>
<line x1="642.8" y1="321.4" x2="651.5" y2="321.4" stroke="#1c1c1c" stroke-width="1.8"/>
<line x1="658.15" y1="343.6" x2="658.15" y2="346.8" stroke="#333333" stroke-width="1"/>
<line x1="658.15" y1="300.8" x2="658.15" y2="318" stroke="#e8382d" stroke-width="1.7"/>
<line x1="658.15" y1="330.5" x2="658.15" y2="339.6" stroke="#e8382d" stroke-width="1.7"/>
<rect x="653.5" y="318" width="9.3" height="12.5" fill="none" stroke="#e8382d" stroke-width="1.7"/>
<line x1="653.5" y1="325.4" x2="662.8" y2="325.4" stroke="#e8382d" stroke-width="1.7"/>
<text x="658" y="280.8" font-size="7" fill="#333" text-anchor="middle" font-style="italic">p&lt;2e-16</text>
<line x1="648.8" y1="283.4" x2="659.3" y2="283.4" stroke="#444" stroke-width="0.9"/>
<text x="558.2" y="132.2" font-size="9.6" fill="#1c1c1c" text-anchor="middle" transform="rotate(-90 558.2 132.2)">RNAPII</text>
<text x="557.4" y="220.8" font-size="9.6" fill="#1c1c1c" text-anchor="middle" transform="rotate(-90 557.4 220.8)">S2P-RNAPII</text>
<text x="558.6" y="313.2" font-size="9.6" fill="#1c1c1c" text-anchor="middle" transform="rotate(-90 558.6 313.2)">S5P-RNAPII</text>
<text x="538" y="222.4" font-size="10.8" fill="#1c1c1c" text-anchor="middle" transform="rotate(-90 538 222.4)">Normalized signal</text>
<rect x="591.9" y="360.6" width="5.6" height="5.6" fill="none" stroke="#1c1c1c" stroke-width="1.5"/>
<text x="601.5" y="366.6" font-size="8.4" fill="#1c1c1c">WT</text>
<rect x="625" y="360.6" width="5.4" height="5.4" fill="none" stroke="#e8382d" stroke-width="1.5"/>
<text x="635.2" y="366.6" font-size="8.4" fill="#1c1c1c" font-style="italic">Dot1l -/-</text>
<text x="0" y="430.8" font-size="19.5" fill="#1c1c1c">d</text>
<text x="98" y="439.3" font-size="8.3" fill="#1c1c1c" text-anchor="middle">RNAPII</text>
<text x="98.9" y="448.8" font-size="8.3" fill="#1c1c1c" text-anchor="middle">promoter-proximal pausing</text>
<line x1="68.2" y1="468.2" x2="68.2" y2="563.7" stroke="#333333" stroke-width="1.1"/>
<line x1="68.2" y1="563.7" x2="132.3" y2="563.7" stroke="#333333" stroke-width="1.1"/>
<line x1="63.6" y1="468.2" x2="68.2" y2="468.2" stroke="#333333" stroke-width="1"/>
<text x="62.3" y="470.5" font-size="6.6" fill="#666666" text-anchor="end">200</text>
<line x1="63.6" y1="491" x2="68.2" y2="491" stroke="#333333" stroke-width="1"/>
<text x="62.3" y="493.3" font-size="6.6" fill="#666666" text-anchor="end">150</text>
<line x1="63.6" y1="513.7" x2="68.2" y2="513.7" stroke="#333333" stroke-width="1"/>
<text x="62.3" y="516" font-size="6.6" fill="#666666" text-anchor="end">100</text>
<line x1="63.6" y1="536.4" x2="68.2" y2="536.4" stroke="#333333" stroke-width="1"/>
<text x="62.3" y="538.7" font-size="6.6" fill="#666666" text-anchor="end">50</text>
<line x1="63.6" y1="558.8" x2="68.2" y2="558.8" stroke="#333333" stroke-width="1"/>
<text x="62.3" y="561.1" font-size="6.6" fill="#666666" text-anchor="end">0</text>
<line x1="80.9" y1="563.7" x2="80.9" y2="567.5" stroke="#333333" stroke-width="1"/>
<line x1="101.6" y1="563.7" x2="101.6" y2="567.5" stroke="#333333" stroke-width="1"/>
<line x1="122.4" y1="563.7" x2="122.4" y2="567.5" stroke="#333333" stroke-width="1"/>
<line x1="77.1" y1="531.8" x2="77.1" y2="544.6" stroke="#1c1c1c" stroke-width="1.8"/>
<line x1="77.1" y1="553.1" x2="77.1" y2="558.6" stroke="#1c1c1c" stroke-width="1.8"/>
<rect x="73.3" y="544.6" width="7.6" height="8.5" fill="none" stroke="#1c1c1c" stroke-width="1.8"/>
<line x1="73.3" y1="549.1" x2="80.9" y2="549.1" stroke="#1c1c1c" stroke-width="1.8"/>
<line x1="86.1" y1="538.5" x2="86.1" y2="547.7" stroke="#e3222f" stroke-width="1.7"/>
<line x1="86.1" y1="554.5" x2="86.1" y2="558.6" stroke="#e3222f" stroke-width="1.7"/>
<rect x="82.3" y="547.7" width="7.6" height="6.8" fill="none" stroke="#e3222f" stroke-width="1.7"/>
<line x1="82.3" y1="552.3" x2="89.9" y2="552.3" stroke="#e3222f" stroke-width="1.7"/>
<line x1="97.5" y1="513.2" x2="97.5" y2="535.8" stroke="#1c1c1c" stroke-width="1.8"/>
<line x1="97.5" y1="550.1" x2="97.5" y2="558.6" stroke="#1c1c1c" stroke-width="1.8"/>
<rect x="93.7" y="535.8" width="7.6" height="14.3" fill="none" stroke="#1c1c1c" stroke-width="1.8"/>
<line x1="93.7" y1="544.7" x2="101.3" y2="544.7" stroke="#1c1c1c" stroke-width="1.8"/>
<line x1="106.95" y1="524" x2="106.95" y2="540.7" stroke="#e3222f" stroke-width="1.7"/>
<line x1="106.95" y1="552.3" x2="106.95" y2="558.6" stroke="#e3222f" stroke-width="1.7"/>
<rect x="103.1" y="540.7" width="7.7" height="11.6" fill="none" stroke="#e3222f" stroke-width="1.7"/>
<line x1="103.1" y1="548.2" x2="110.8" y2="548.2" stroke="#e3222f" stroke-width="1.7"/>
<line x1="118.25" y1="498.2" x2="118.25" y2="527.8" stroke="#1c1c1c" stroke-width="1.8"/>
<line x1="118.25" y1="548.2" x2="118.25" y2="558.6" stroke="#1c1c1c" stroke-width="1.8"/>
<rect x="114.5" y="527.8" width="7.5" height="20.4" fill="none" stroke="#1c1c1c" stroke-width="1.8"/>
<line x1="114.5" y1="541.4" x2="122" y2="541.4" stroke="#1c1c1c" stroke-width="1.8"/>
<line x1="127.55" y1="508" x2="127.55" y2="533.4" stroke="#e3222f" stroke-width="1.7"/>
<line x1="127.55" y1="551.6" x2="127.55" y2="558.6" stroke="#e3222f" stroke-width="1.7"/>
<rect x="123.9" y="533.4" width="7.3" height="18.2" fill="none" stroke="#e3222f" stroke-width="1.7"/>
<line x1="123.9" y1="545" x2="131.2" y2="545" stroke="#e3222f" stroke-width="1.7"/>
<text x="84" y="512.7" font-size="7" fill="#444" text-anchor="middle" font-style="italic" transform="rotate(-90 84 512.7)">p&lt;2e-16</text>
<line x1="77.6" y1="529.6" x2="86.4" y2="529.6" stroke="#555" stroke-width="0.9"/>
<text x="104.6" y="494.5" font-size="7" fill="#444" text-anchor="middle" font-style="italic" transform="rotate(-90 104.6 494.5)">p&lt;2e-16</text>
<line x1="98.2" y1="510.9" x2="107" y2="510.9" stroke="#555" stroke-width="0.9"/>
<text x="125.4" y="479.3" font-size="7" fill="#444" text-anchor="middle" font-style="italic" transform="rotate(-90 125.4 479.3)">p&lt;2e-16</text>
<line x1="119" y1="496.6" x2="127.8" y2="496.6" stroke="#555" stroke-width="0.9"/>
<text x="79.2" y="578.6" font-size="8.4" fill="#1c1c1c" text-anchor="middle">Q1</text>
<text x="99.9" y="578.6" font-size="8.4" fill="#1c1c1c" text-anchor="middle">Q2</text>
<text x="120.7" y="578.6" font-size="8.4" fill="#1c1c1c" text-anchor="middle">Q3</text>
<text x="54.3" y="590.3" font-size="6.9" fill="#555">n =</text>
<text x="77.2" y="590.3" font-size="6.9" fill="#555" text-anchor="middle">1378</text>
<text x="100.6" y="590.3" font-size="6.9" fill="#555" text-anchor="middle">1383</text>
<text x="123.2" y="590.3" font-size="6.9" fill="#555" text-anchor="middle">861</text>
<rect x="148.1" y="513.2" width="5" height="5" fill="none" stroke="#1c1c1c" stroke-width="1.5"/>
<text x="157" y="518.8" font-size="8.4" fill="#1c1c1c">WT</text>
<rect x="148.1" y="527.6" width="5" height="4.9" fill="none" stroke="#e3222f" stroke-width="1.5"/>
<text x="157" y="533.1" font-size="8.4" fill="#1c1c1c" font-style="italic">Dot1l -/-</text>
<text x="37" y="517.3" font-size="9.7" fill="#1c1c1c" text-anchor="middle" transform="rotate(-90 37 517.3)">Pause duration (arb. units)</text>
<text x="192.3" y="430.7" font-size="19.5" fill="#1c1c1c">e</text>
<text x="236.5" y="447.8" font-size="8.4" fill="#1c1c1c">Elongation velocity =</text>
<text x="370.8" y="441.1" font-size="8.4" fill="#1c1c1c" text-anchor="middle">RNA synthesis (TT-seq)</text>
<line x1="316.1" y1="444" x2="424.9" y2="444" stroke="#333" stroke-width="0.9"/>
<text x="370.8" y="455.9" font-size="8.4" fill="#1c1c1c" text-anchor="middle">RNAPII occupancy (ChIP-seq)</text>
<text x="283.9" y="490.8" font-size="9.5" fill="#1c1c1c" text-anchor="middle">Q1</text>
<text x="344.8" y="490.8" font-size="9.5" fill="#1c1c1c" text-anchor="middle">Q2</text>
<text x="406" y="490.8" font-size="9.5" fill="#1c1c1c" text-anchor="middle">Q3</text>
<line x1="258.3" y1="497.9" x2="258.3" y2="549.9" stroke="#333333" stroke-width="1.1"/>
<line x1="255" y1="500.1" x2="258.3" y2="500.1" stroke="#333333" stroke-width="1"/>
<text x="252.4" y="502.6" font-size="7.2" fill="#666666" text-anchor="end">1.5</text>
<line x1="255" y1="516.1" x2="258.3" y2="516.1" stroke="#333333" stroke-width="1"/>
<text x="252.4" y="518.6" font-size="7.2" fill="#666666" text-anchor="end">1.0</text>
<line x1="255" y1="532.2" x2="258.3" y2="532.2" stroke="#333333" stroke-width="1"/>
<text x="252.4" y="534.7" font-size="7.2" fill="#666666" text-anchor="end">0.5</text>
<line x1="255" y1="548" x2="258.3" y2="548" stroke="#333333" stroke-width="1"/>
<text x="252.4" y="550.5" font-size="7.2" fill="#666666" text-anchor="end">0.0</text>
<line x1="258.3" y1="549.9" x2="310.9" y2="549.9" stroke="#333333" stroke-width="1.1"/>
<line x1="260.4" y1="549.9" x2="260.4" y2="554.1" stroke="#333333" stroke-width="1"/>
<line x1="309.4" y1="549.9" x2="309.4" y2="554.1" stroke="#333333" stroke-width="1"/>
<line x1="260.4" y1="498.8" x2="260.4" y2="549.9" stroke="#888888" stroke-width="0.8" stroke-dasharray="2 1.6"/>
<line x1="319.3" y1="549.9" x2="371.7" y2="549.9" stroke="#333333" stroke-width="1.1"/>
<line x1="321.3" y1="549.9" x2="321.3" y2="554.1" stroke="#333333" stroke-width="1"/>
<line x1="370.2" y1="549.9" x2="370.2" y2="554.1" stroke="#333333" stroke-width="1"/>
<line x1="321.3" y1="498.8" x2="321.3" y2="549.9" stroke="#888888" stroke-width="0.8" stroke-dasharray="2 1.6"/>
<line x1="380.5" y1="549.9" x2="432.6" y2="549.9" stroke="#333333" stroke-width="1.1"/>
<line x1="382.5" y1="549.9" x2="382.5" y2="554.1" stroke="#333333" stroke-width="1"/>
<line x1="431.1" y1="549.9" x2="431.1" y2="554.1" stroke="#333333" stroke-width="1"/>
<line x1="382.5" y1="498.8" x2="382.5" y2="549.9" stroke="#888888" stroke-width="0.8" stroke-dasharray="2 1.6"/>
<path d="M260.4,548 260.7,547.7 261,546.8 261.3,545.7 261.6,544.6 261.9,543.2 262.2,540.9 262.5,538.3 262.8,535.3 263.1,532.2 263.4,529 263.7,527.4 264,526.3 264.3,523 264.6,522 264.9,521.4 265.2,519.9 265.5,519 265.8,517.5 266.1,517.7 266.4,517.8 266.7,517 267,516.2 267.3,515.4 267.6,514.1 267.9,513.8 268.2,513.5 268.5,513.3 268.8,514.1 269.1,513.8 269.4,513.9 269.7,514.5 270,514.2 270.3,513.3 270.6,513.4 270.9,513.2 271.2,513.7 271.5,514.2 271.8,514.1 272.1,514.9 272.4,514.3 272.7,513.7 273,513.9 273.3,512.3 273.6,512.1 273.9,513.3 274.2,512.8 274.5,512.1 274.8,511.7 275.1,512.7 275.4,512.7 275.7,512.5 276,514.2 276.3,514.7 276.6,513.5 276.9,512.6 277.2,512.6 277.5,513.6 277.8,514.6 278.1,514.8 278.4,515.8 278.7,515.3 279,513.4 279.3,512.8 279.6,514.3 279.9,514.3 280.2,514.4 280.5,515 280.8,514.3 281.1,514.8 281.4,515.9 281.7,515.4 282,515.2 282.3,515.9 282.6,515.6 282.9,515.5 283.2,515.8 283.5,516.3 283.8,516.3 284.1,516.4 284.4,517.1 284.7,517.7 285,516.9 285.3,515.9 285.6,516.4 285.9,517.5 286.2,517.7 286.5,517.1 286.8,516.6 287.1,517.3 287.4,517.9 287.7,516.5 288,517.4 288.3,518 288.6,518.1 288.9,518.2 289.2,517.5 289.5,516.8 289.8,517 290.1,518.2 290.4,518 290.7,517.7 291,517.5 291.3,518 291.6,517.9 291.9,517.5 292.2,518.2 292.5,517.8 292.8,518.3 293.1,519.3 293.4,518.8 293.7,518.6 294,518.9 294.3,519.2 294.6,519.5 294.9,518.8 295.2,517.6 295.5,519 295.8,519.3 296.1,518.2 296.4,518.4 296.7,518.8 297,520 297.3,520.3 297.6,520.4 297.9,521.3 298.2,520.9 298.5,519.9 298.8,520.1 299.1,520.2 299.4,521 299.7,520.6 300,519.9 300.3,520.5 300.6,520.1 300.9,520.5 301.2,519.5 301.5,518.6 301.8,519.4 302.1,520.1 302.4,521.2 302.7,521.1 303,521.2 303.3,521.4 303.6,520.9 303.9,520.4 304.2,520.4 304.5,521.1 304.8,520.6 305.1,520.8 305.4,522 305.7,522.2 306,521.2 306.3,520.9 306.6,522.1 306.9,523.3 307.2,523.6 307.5,522.4 307.8,521.6 308.1,520.9 308.4,521.7 308.7,522.4 309,521.3 309.3,522.9" fill="none" stroke="#050505" stroke-width="2.4" stroke-linejoin="round" stroke-linecap="round"/>
<path d="M260.4,548 260.7,547.2 261,546 261.3,544.2 261.6,542 261.9,539.7 262.2,537 262.5,533.6 262.8,529.4 263.1,524.9 263.4,520.6 263.7,518.2 264,515.6 264.3,512 264.6,509.8 264.9,508.8 265.2,507.8 265.5,505.2 265.8,503.9 266.1,502.7 266.4,501.7 266.7,501.5 267,502.1 267.3,502.1 267.6,501.5 267.9,501 268.2,498.7 268.5,498.6 268.8,499.8 269.1,499.3 269.4,499.2 269.7,499.2 270,500.9 270.3,501.4 270.6,501.2 270.9,502.2 271.2,500.8 271.5,500 271.8,501.5 272.1,502.3 272.4,501.6 272.7,502.1 273,501.4 273.3,500 273.6,500.4 273.9,500.2 274.2,500.3 274.5,500.4 274.8,501.3 275.1,502.1 275.4,502.5 275.7,501.6 276,501.2 276.3,502.1 276.6,502.8 276.9,503.5 277.2,503.4 277.5,503.8 277.8,504.4 278.1,503.5 278.4,503.3 278.7,503.9 279,503.8 279.3,504.4 279.6,504.8 279.9,504.2 280.2,504.1 280.5,505.3 280.8,505.9 281.1,505.8 281.4,506.1 281.7,505.1 282,504.7 282.3,504.7 282.6,505.3 282.9,506.7 283.2,505.1 283.5,505.7 283.8,507.6 284.1,507.4 284.4,507.3 284.7,506.7 285,506.1 285.3,505.8 285.6,506.8 285.9,507.4 286.2,508.1 286.5,508 286.8,508.2 287.1,507.8 287.4,508.2 287.7,508.7 288,507.6 288.3,508.7 288.6,507.7 288.9,507.6 289.2,507.7 289.5,507.6 289.8,508.8 290.1,510.1 290.4,510.7 290.7,509.5 291,509.7 291.3,510.4 291.6,510.7 291.9,510.5 292.2,510.4 292.5,508.9 292.8,509 293.1,510.7 293.4,510 293.7,510.2 294,510.4 294.3,511.1 294.6,512 294.9,512.1 295.2,512.7 295.5,511.7 295.8,510.9 296.1,513 296.4,513.3 296.7,511.1 297,511.3 297.3,511.9 297.6,511.6 297.9,511.8 298.2,512.7 298.5,513.3 298.8,513.1 299.1,512.3 299.4,512.3 299.7,514 300,513.5 300.3,512.9 300.6,513.6 300.9,513.7 301.2,513 301.5,513 301.8,513.9 302.1,513.4 302.4,513.4 302.7,514.7 303,516.2 303.3,515.5 303.6,513.3 303.9,514.6 304.2,516.5 304.5,516.1 304.8,515.1 305.1,514.5 305.4,515.7 305.7,516 306,514.6 306.3,515.1 306.6,515.2 306.9,515.3 307.2,516.3 307.5,515.5 307.8,515.2 308.1,516.8 308.4,516.3 308.7,515 309,514.9 309.3,515.9" fill="none" stroke="#e3222f" stroke-width="2.2" stroke-linejoin="round" stroke-linecap="round"/>
<text x="283.4" y="549" font-size="7" fill="#333" text-anchor="middle">n=2146</text>
<text x="263.8" y="559.2" font-size="8.2" fill="#444" text-anchor="end" transform="rotate(-62 263.8 559.2)">TSS</text>
<text x="312.8" y="559.2" font-size="8.2" fill="#444" text-anchor="end" transform="rotate(-62 312.8 559.2)">+10kb</text>
<path d="M321.3,548 321.6,547.8 321.9,547.2 322.2,546.1 322.5,545.2 322.8,544.1 323.1,542.1 323.4,539.6 323.7,537.4 324,535.1 324.3,533.7 324.6,531.8 324.9,530.4 325.2,529.5 325.5,527.3 325.8,526.7 326.1,525.5 326.4,522.9 326.7,522.5 327,523.6 327.3,523 327.6,521.4 327.9,520.9 328.2,521.1 328.5,521.7 328.8,521.2 329.1,520 329.4,519.4 329.7,518.8 330,519 330.3,520.7 330.6,521.8 330.9,521.5 331.2,520.4 331.5,520.2 331.8,519.6 332.1,519 332.4,519.5 332.7,519.2 333,519.2 333.3,520.5 333.6,519.3 333.9,517.7 334.2,518.3 334.5,519.6 334.8,521.5 335.1,522 335.4,521.6 335.7,520.3 336,519.3 336.3,519.1 336.6,518.5 336.9,519.1 337.2,520.2 337.5,520.8 337.8,521.3 338.1,521.8 338.4,521.5 338.7,520.8 339,521.4 339.3,522.1 339.6,521.8 339.9,520.7 340.2,521 340.5,521.7 340.8,522.2 341.1,522.6 341.4,522.6 341.7,522.8 342,523.1 342.3,522.8 342.6,521.8 342.9,522.7 343.2,522.8 343.5,522.6 343.8,523.7 344.1,524.8 344.4,526 344.7,524.5 345,523.9 345.3,523.9 345.6,523.3 345.9,523.7 346.2,523.1 346.5,523.3 346.8,526 347.1,527 347.4,524.7 347.7,522.7 348,523.3 348.3,524.9 348.6,525.7 348.9,525.1 349.2,525.4 349.5,526.4 349.8,525.4 350.1,524.7 350.4,525 350.7,524.5 351,525.1 351.3,526.5 351.6,526.1 351.9,525.4 352.2,525.4 352.5,524.4 352.8,524.6 353.1,525.5 353.4,525.5 353.7,525.8 354,525.7 354.3,526.2 354.6,525.1 354.9,525.1 355.2,525.1 355.5,525.4 355.8,526.7 356.1,525.7 356.4,526.9 356.7,528.5 357,527.2 357.3,526 357.6,525.8 357.9,526.3 358.2,527.5 358.5,526.9 358.8,525.9 359.1,527 359.4,527.3 359.7,525.7 360,525.7 360.3,527.4 360.6,527.8 360.9,527.4 361.2,527 361.5,526.3 361.8,527.1 362.1,528 362.4,527 362.7,526.2 363,526.1 363.3,527.4 363.6,528.7 363.9,527.4 364.2,527.4 364.5,527.9 364.8,527.4 365.1,528 365.4,527.2 365.7,526.8 366,528 366.3,528.1 366.6,527.7 366.9,528.6 367.2,529.2 367.5,529.1 367.8,529.8 368.1,528.6 368.4,526.6 368.7,526.5 369,528.4 369.3,528.9 369.6,527.5 369.9,528.1 370.2,528" fill="none" stroke="#050505" stroke-width="2.4" stroke-linejoin="round" stroke-linecap="round"/>
<path d="M321.3,548 321.6,547.4 321.9,546.6 322.2,545.4 322.5,543.2 322.8,541.2 323.1,539.1 323.4,535.8 323.7,531.8 324,527.9 324.3,525.1 324.6,522.7 324.9,520.9 325.2,519.6 325.5,517.9 325.8,516.4 326.1,513.8 326.4,514 326.7,515.3 327,514.2 327.3,512.1 327.6,511.1 327.9,511.8 328.2,511.5 328.5,511.5 328.8,512 329.1,511.4 329.4,510.4 329.7,510 330,510.2 330.3,509.2 330.6,509.4 330.9,509.3 331.2,509.6 331.5,509.1 331.8,509.3 332.1,511.7 332.4,510.7 332.7,509.6 333,509.3 333.3,508.7 333.6,510 333.9,510.5 334.2,508.2 334.5,508.4 334.8,508.9 335.1,508.7 335.4,510 335.7,510.7 336,511 336.3,511.4 336.6,510.3 336.9,509.5 337.2,511 337.5,510.6 337.8,510.9 338.1,511.3 338.4,510.4 338.7,510.3 339,510.7 339.3,510.7 339.6,511.2 339.9,511.8 340.2,511.1 340.5,511.5 340.8,511.9 341.1,513.7 341.4,514.2 341.7,512.6 342,513.2 342.3,513.2 342.6,512.1 342.9,512.5 343.2,513.4 343.5,514.2 343.8,515.2 344.1,515.1 344.4,515.6 344.7,515.9 345,514.9 345.3,515.1 345.6,515.9 345.9,516.4 346.2,515.7 346.5,515.3 346.8,516 347.1,515.9 347.4,515.4 347.7,516.3 348,517.3 348.3,516.2 348.6,516.3 348.9,516.9 349.2,515.2 349.5,516.3 349.8,517.7 350.1,516.7 350.4,516.1 350.7,516.6 351,518.3 351.3,519.1 351.6,518.6 351.9,519 352.2,517.9 352.5,517.6 352.8,518.2 353.1,517.4 353.4,518.2 353.7,518.4 354,519.4 354.3,519.9 354.6,518.9 354.9,518.7 355.2,518.9 355.5,518.9 355.8,518.5 356.1,519.1 356.4,519.7 356.7,518.8 357,519.2 357.3,520.2 357.6,519.6 357.9,518.9 358.2,519.8 358.5,520.9 358.8,520.4 359.1,519.4 359.4,520.1 359.7,521.2 360,520.6 360.3,518.6 360.6,519.2 360.9,521.1 361.2,521.6 361.5,520.7 361.8,520.5 362.1,522.2 362.4,523 362.7,522.8 363,522.4 363.3,521.7 363.6,521.1 363.9,521.8 364.2,521.9 364.5,522.2 364.8,522.3 365.1,521.5 365.4,521.6 365.7,522.5 366,523.3 366.3,522.5 366.6,521.3 366.9,521 367.2,521.4 367.5,521.4 367.8,521.4 368.1,521.6 368.4,521.4 368.7,521.2 369,522.2 369.3,521.7 369.6,521 369.9,521.8 370.2,521.8" fill="none" stroke="#e3222f" stroke-width="2.2" stroke-linejoin="round" stroke-linecap="round"/>
<text x="344.3" y="549" font-size="7" fill="#333" text-anchor="middle">n=2287</text>
<text x="324.7" y="559.2" font-size="8.2" fill="#444" text-anchor="end" transform="rotate(-62 324.7 559.2)">TSS</text>
<text x="373.6" y="559.2" font-size="8.2" fill="#444" text-anchor="end" transform="rotate(-62 373.6 559.2)">+10kb</text>
<path d="M382.5,548 382.8,547.6 383.1,546.9 383.4,546.5 383.7,546 384,544.7 384.3,543.4 384.6,541.5 384.9,540.2 385.2,538.1 385.5,535.1 385.8,535.5 386.1,535.6 386.4,534.3 386.7,533.5 387,531.9 387.3,531.4 387.6,532 387.9,531 388.2,529.4 388.5,529.7 388.8,530 389.1,530.4 389.4,529.7 389.7,527.5 390,527.5 390.3,528.8 390.6,530.2 390.9,530.3 391.2,530.3 391.5,529.6 391.8,527.4 392.1,527 392.4,527.9 392.7,528.4 393,528.8 393.3,529 393.6,528.4 393.9,528.6 394.2,530.3 394.5,530.1 394.8,528.4 395.1,529 395.4,529 395.7,528.2 396,529.7 396.3,529.7 396.6,528.8 396.9,530 397.2,529.7 397.5,529.5 397.8,530 398.1,530.2 398.4,530.3 398.7,530.5 399,530.5 399.3,530.5 399.6,531 399.9,529.8 400.2,529.1 400.5,529.5 400.8,528.6 401.1,528.5 401.4,529.5 401.7,530.6 402,530.2 402.3,529.4 402.6,529.3 402.9,529.7 403.2,530.6 403.5,531.8 403.8,531.3 404.1,531.1 404.4,531.7 404.7,530.6 405,530.4 405.3,530.8 405.6,530.6 405.9,531.6 406.2,531.9 406.5,530.2 406.8,529.6 407.1,531.3 407.4,531.4 407.7,530.3 408,531.5 408.3,532.6 408.6,532.1 408.9,530.6 409.2,530.2 409.5,531.6 409.8,531.9 410.1,530.8 410.4,530.9 410.7,531.8 411,531.6 411.3,532.5 411.6,532.6 411.9,532.2 412.2,532.6 412.5,531.6 412.8,531.7 413.1,532.3 413.4,532.5 413.7,531.6 414,532.2 414.3,533.3 414.6,532.3 414.9,531.4 415.2,531.6 415.5,532.4 415.8,532 416.1,532 416.4,531.3 416.7,530.3 417,530.4 417.3,531.8 417.6,533.2 417.9,532.8 418.2,533.3 418.5,533.5 418.8,532.2 419.1,532.5 419.4,533.3 419.7,531.9 420,531.6 420.3,532.2 420.6,532.4 420.9,533.1 421.2,533.3 421.5,532.8 421.8,533 422.1,533.1 422.4,533.1 422.7,533.2 423,532.1 423.3,531.7 423.6,533.4 423.9,533.9 424.2,532.1 424.5,530.9 424.8,532.7 425.1,533.5 425.4,532.9 425.7,534.6 426,534.5 426.3,531.9 426.6,532.5 426.9,533.9 427.2,532.9 427.5,533 427.8,533.9 428.1,533.5 428.4,534.1 428.7,534 429,533.9 429.3,534.2 429.6,533 429.9,532.1 430.2,533 430.5,533.9 430.8,533.3 431.1,534.5 431.4,534.7" fill="none" stroke="#050505" stroke-width="2.4" stroke-linejoin="round" stroke-linecap="round"/>
<path d="M382.5,548 382.8,547.5 383.1,546.9 383.4,545.9 383.7,544.8 384,543.1 384.3,540.8 384.6,538.6 384.9,535.8 385.2,533.7 385.5,532.8 385.8,530.9 386.1,528.5 386.4,527.7 386.7,526.3 387,524 387.3,523.8 387.6,524.1 387.9,523.3 388.2,522.8 388.5,522.2 388.8,521.9 389.1,521.5 389.4,522.2 389.7,523.1 390,522 390.3,521.9 390.6,522.6 390.9,522.3 391.2,521.7 391.5,521.9 391.8,521.7 392.1,520.7 392.4,522 392.7,524 393,522.6 393.3,521.8 393.6,521.4 393.9,519.4 394.2,520.3 394.5,522.2 394.8,522.2 395.1,521.8 395.4,521.9 395.7,522.6 396,522.4 396.3,523.1 396.6,523.2 396.9,522.1 397.2,521.7 397.5,521.7 397.8,522.2 398.1,522.9 398.4,523.2 398.7,522.3 399,521.9 399.3,522.4 399.6,522.2 399.9,521.6 400.2,523 400.5,525.2 400.8,525.5 401.1,524.2 401.4,523.6 401.7,523.9 402,524.3 402.3,523.9 402.6,524.1 402.9,525.8 403.2,525.7 403.5,524 403.8,524.5 404.1,524.8 404.4,524.1 404.7,524.5 405,524.7 405.3,525.3 405.6,525.6 405.9,524.3 406.2,524.5 406.5,526 406.8,525.2 407.1,525.4 407.4,525.4 407.7,524.7 408,525.3 408.3,525.2 408.6,525.6 408.9,525.3 409.2,525.4 409.5,526.5 409.8,526.5 410.1,527.1 410.4,527.3 410.7,527.4 411,527.4 411.3,526 411.6,525.7 411.9,526.3 412.2,528.2 412.5,528.5 412.8,526.3 413.1,526.5 413.4,526.9 413.7,527 414,526.5 414.3,527.4 414.6,528.6 414.9,527.7 415.2,527.2 415.5,527 415.8,527.3 416.1,528.7 416.4,527.7 416.7,526.4 417,527.9 417.3,527.3 417.6,527.6 417.9,528.3 418.2,527.1 418.5,527 418.8,527.5 419.1,528 419.4,528.8 419.7,528.6 420,528.8 420.3,528.4 420.6,527.3 420.9,527.9 421.2,529.6 421.5,529.3 421.8,527.9 422.1,528.9 422.4,529.6 422.7,528.9 423,528.4 423.3,528.7 423.6,529.6 423.9,529.8 424.2,529.9 424.5,528.7 424.8,527.2 425.1,529.4 425.4,530.7 425.7,528.7 426,527.8 426.3,527.6 426.6,527.7 426.9,528.6 427.2,529.2 427.5,528.7 427.8,528.7 428.1,530.5 428.4,530.7 428.7,530.8 429,530.5 429.3,529.4 429.6,529.9 429.9,530 430.2,531 430.5,531.5 430.8,530.9 431.1,530.6 431.4,530.4" fill="none" stroke="#e3222f" stroke-width="2.2" stroke-linejoin="round" stroke-linecap="round"/>
<text x="405.5" y="549" font-size="7" fill="#333" text-anchor="middle">n=2002</text>
<text x="385.9" y="559.2" font-size="8.2" fill="#444" text-anchor="end" transform="rotate(-62 385.9 559.2)">TSS</text>
<text x="434.5" y="559.2" font-size="8.2" fill="#444" text-anchor="end" transform="rotate(-62 434.5 559.2)">+10kb</text>
<text x="221.8" y="518.8" font-size="9.7" fill="#1c1c1c" text-anchor="middle" transform="rotate(-90 221.8 518.8)">Elongation velocity</text>
<text x="233.8" y="518.8" font-size="9.7" fill="#1c1c1c" text-anchor="middle" transform="rotate(-90 233.8 518.8)">(arb. units)</text>
<line x1="291.4" y1="588.9" x2="300.7" y2="588.9" stroke="#1c1c1c" stroke-width="2"/>
<text x="304.5" y="592" font-size="8.4" fill="#1c1c1c">WT</text>
<line x1="329" y1="588.9" x2="337.8" y2="588.9" stroke="#e3222f" stroke-width="2"/>
<text x="342.2" y="592" font-size="8.4" fill="#1c1c1c" font-style="italic">Dot1l -/-</text>
<text x="458.8" y="430.7" font-size="19.5" fill="#1c1c1c">f</text>
<text x="509.9" y="449" font-size="8.4" fill="#1c1c1c">Change in elongation velocity &amp; H3K79me3</text>
<text x="535.4" y="487.6" font-size="9.5" fill="#1c1c1c" text-anchor="middle">Q1</text>
<text x="597" y="487.6" font-size="9.5" fill="#1c1c1c" text-anchor="middle">Q2</text>
<text x="657.9" y="487.6" font-size="9.5" fill="#1c1c1c" text-anchor="middle">Q3</text>
<line x1="509.8" y1="495.1" x2="509.8" y2="547.2" stroke="#333333" stroke-width="1.1"/>
<line x1="504.8" y1="496.4" x2="509.8" y2="496.4" stroke="#333333" stroke-width="1"/>
<text x="501.8" y="498.8" font-size="6.8" fill="#666666" text-anchor="end">1.0</text>
<line x1="504.8" y1="506.5" x2="509.8" y2="506.5" stroke="#333333" stroke-width="1"/>
<text x="501.8" y="508.9" font-size="6.8" fill="#666666" text-anchor="end">0.8</text>
<line x1="504.8" y1="515.9" x2="509.8" y2="515.9" stroke="#333333" stroke-width="1"/>
<text x="501.8" y="518.3" font-size="6.8" fill="#666666" text-anchor="end">0.6</text>
<line x1="504.8" y1="525.6" x2="509.8" y2="525.6" stroke="#333333" stroke-width="1"/>
<text x="501.8" y="528" font-size="6.8" fill="#666666" text-anchor="end">0.4</text>
<line x1="504.8" y1="535.5" x2="509.8" y2="535.5" stroke="#333333" stroke-width="1"/>
<text x="501.8" y="537.9" font-size="6.8" fill="#666666" text-anchor="end">0.2</text>
<line x1="504.8" y1="545.2" x2="509.8" y2="545.2" stroke="#333333" stroke-width="1"/>
<text x="501.8" y="547.6" font-size="6.8" fill="#666666" text-anchor="end">0.0</text>
<line x1="509.8" y1="547.2" x2="561.8" y2="547.2" stroke="#333333" stroke-width="1.1"/>
<line x1="511.2" y1="547.2" x2="511.2" y2="551.2" stroke="#333333" stroke-width="1"/>
<line x1="560" y1="547.2" x2="560" y2="551.2" stroke="#333333" stroke-width="1"/>
<line x1="511.2" y1="495.7" x2="511.2" y2="547.2" stroke="#888888" stroke-width="0.8" stroke-dasharray="2 1.6"/>
<line x1="571.2" y1="547.2" x2="623.1" y2="547.2" stroke="#333333" stroke-width="1.1"/>
<line x1="572.8" y1="547.2" x2="572.8" y2="551.2" stroke="#333333" stroke-width="1"/>
<line x1="621.3" y1="547.2" x2="621.3" y2="551.2" stroke="#333333" stroke-width="1"/>
<line x1="572.8" y1="495.7" x2="572.8" y2="547.2" stroke="#888888" stroke-width="0.8" stroke-dasharray="2 1.6"/>
<line x1="632.1" y1="547.2" x2="684.3" y2="547.2" stroke="#333333" stroke-width="1.1"/>
<line x1="633.7" y1="547.2" x2="633.7" y2="551.2" stroke="#333333" stroke-width="1"/>
<line x1="682.5" y1="547.2" x2="682.5" y2="551.2" stroke="#333333" stroke-width="1"/>
<line x1="633.7" y1="495.7" x2="633.7" y2="547.2" stroke="#888888" stroke-width="0.8" stroke-dasharray="2 1.6"/>
<path d="M511.2,540.3 511.5,537.8 511.8,535.3 512.1,532.8 512.4,530.2 512.7,527.6 513,525 513.2,523.2 513.3,522.3 513.6,519.5 513.9,516.4 514.2,513.4 514.5,510.5 514.8,507.9 515.1,505.8 515.2,505.2 515.4,504.1 515.7,502.4 516,500.7 516.3,499.3 516.6,498 516.9,497.1 517.2,496.5 517.4,496.4 517.5,496.4 517.8,496.4 518.1,496.4 518.4,496.4 518.7,496.4 519,496.4 519.3,496.4 519.6,496.4 519.9,496.4 520.2,496.4 520.5,496.4 520.8,496.5 521.1,496.6 521.4,496.8 521.7,497 522,497.2 522.3,497.5 522.6,497.8 522.9,498.1 523.2,498.4 523.5,498.7 523.8,499 524.1,499.3 524.4,499.6 524.7,499.9 525,500.1 525.2,500.3 525.3,500.4 525.6,500.6 525.9,500.8 526.2,501.1 526.5,501.3 526.8,501.5 527.1,501.7 527.4,502 527.7,502.2 528,502.4 528.3,502.6 528.6,502.9 528.9,503.1 529.2,503.3 529.5,503.5 529.8,503.7 530.1,504 530.4,504.2 530.7,504.4 531,504.6 531.3,504.8 531.6,505 531.8,505.2 531.9,505.3 532.2,505.5 532.5,505.7 532.8,505.9 533.1,506.1 533.4,506.3 533.7,506.5 534,506.7 534.3,506.9 534.6,507.2 534.9,507.4 535.2,507.6 535.5,507.8 535.8,508 536.1,508.2 536.4,508.4 536.7,508.6 537,508.8 537.3,509 537.6,509.2 537.9,509.4 538.2,509.7 538.5,509.9 538.8,510.1 539.1,510.3 539.4,510.5 539.7,510.7 540,510.9 540.3,511.1 540.6,511.3 540.9,511.5 541.2,511.7 541.5,511.9 541.8,512.1 542.1,512.3 542.4,512.5 542.7,512.7 543,512.9 543.3,513.1 543.6,513.3 543.9,513.5 544.2,513.7 544.5,513.9 544.8,514 545.1,514.2 545.4,514.4 545.7,514.6 546,514.8 546.2,514.9 546.3,515 546.6,515.2 546.9,515.4 547.2,515.6 547.5,515.8 547.8,516 548.1,516.1 548.4,516.3 548.7,516.5 549,516.7 549.3,516.9 549.6,517.1 549.9,517.3 550.2,517.5 550.5,517.6 550.8,517.8 551.1,518 551.4,518.2 551.7,518.4 552,518.6 552.3,518.7 552.6,518.9 552.9,519.1 553.2,519.3 553.5,519.5 553.8,519.6 554.1,519.8 554.4,520 554.7,520.2 555,520.4 555.3,520.5 555.6,520.7 555.9,520.9 556.2,521.1 556.5,521.2 556.8,521.4 557.1,521.6 557.4,521.8 557.7,521.9 558,522.1 558.3,522.3 558.6,522.4 558.9,522.6 559.2,522.8 559.5,523 559.8,523.1 560,523.2" fill="none" stroke="#6db84b" stroke-width="2.1" stroke-linejoin="round" stroke-linecap="round"/>
<path d="M512.2,545.4 512.5,545.2 512.8,544.5 513.1,543.7 513.4,542.7 513.7,541.3 514,539 514.3,535.8 514.6,532.3 514.9,528.5 515.2,524.2 515.5,520.6 515.8,517.1 516.1,513.7 516.4,511.3 516.7,508 517,505.9 517.3,504.1 517.6,503.1 517.9,502.3 518.2,501 518.5,501.4 518.8,500.6 519.1,499.7 519.4,499.3 519.7,498.7 520,497.6 520.3,495.8 520.6,494.9 520.9,495.7 521.2,495.5 521.5,495.9 521.8,495.8 522.1,496.1 522.4,496.1 522.7,495.5 523,496.6 523.3,496.4 523.6,496.5 523.9,496.6 524.2,497.4 524.5,498.7 524.8,498 525.1,498.2 525.4,499.4 525.7,500.2 526,501.4 526.3,501 526.6,502.8 526.9,503.2 527.2,504.1 527.5,504.2 527.8,505.4 528.1,505.2 528.4,504.2 528.7,504.3 529,503.1 529.3,503 529.6,501.5 529.9,501.9 530.2,502.5 530.5,503.3 530.8,503.1 531.1,503.8 531.4,504.1 531.7,503.8 532,503.9 532.3,503.7 532.6,505.5 532.9,506.3 533.2,506.4 533.5,507.9 533.8,508.2 534.1,508.7 534.4,508.3 534.7,507.5 535,508.2 535.3,508.2 535.6,508.9 535.9,508 536.2,508.5 536.5,508.2 536.8,508.6 537.1,507.6 537.4,508.2 537.7,509.3 538,509.1 538.3,509.4 538.6,509.6 538.9,511 539.2,509.7 539.5,509.4 539.8,509.2 540.1,509.4 540.4,510.4 540.7,509.8 541,510.8 541.3,511.5 541.6,512.4 541.9,512 542.2,510.9 542.5,510.8 542.8,510.6 543.1,510.5 543.4,509.7 543.7,511.2 544,510.3 544.3,510.9 544.6,510.9 544.9,510.5 545.2,511.1 545.5,511.6 545.8,513.3 546.1,514.2 546.4,513.9 546.7,514.7 547,516.4 547.3,516.9 547.6,516.9 547.9,516.9 548.2,517.8 548.5,519.2 548.8,518.8 549.1,517.3 549.4,517.7 549.7,518 550,517.1 550.3,516.5 550.6,515.9 550.9,516.8 551.2,517.3 551.5,517.4 551.8,517.8 552.1,517.3 552.4,517.7 552.7,517.2 553,517.4 553.3,517.2 553.6,518.9 553.9,519.4 554.2,518.7 554.5,518.7 554.8,517.6 555.1,517.9 555.4,517.3 555.7,517 556,518.8 556.3,519.7 556.6,520.5 556.9,520.7 557.2,521.3 557.5,521.9 557.8,521.8 558.1,522 558.4,522 558.7,521.8 559,522.1 559.3,522.6 559.6,522.3 559.9,522.5" fill="none" stroke="#5b69b1" stroke-width="2.3" stroke-linejoin="round" stroke-linecap="round"/>
<text x="530.7" y="544.6" font-size="7" fill="#333" text-anchor="middle">n=2146</text>
<text x="514.6" y="556.7" font-size="8.2" fill="#444" text-anchor="end" transform="rotate(-62 514.6 556.7)">TSS</text>
<text x="563.4" y="556.7" font-size="8.2" fill="#444" text-anchor="end" transform="rotate(-62 563.4 556.7)">+10kb</text>
<path d="M572.8,540.3 573.1,538.8 573.4,537.2 573.7,535.7 574,534.3 574.3,532.9 574.6,531.6 574.9,530.3 575.2,529 575.5,527.8 575.8,526.7 576.1,525.5 576.4,524.2 576.7,522.9 577,521.7 577.3,520.6 577.6,519.6 577.9,518.9 578.2,518.4 578.4,518.4 578.5,518.4 578.8,518.4 579.1,518.5 579.4,518.7 579.7,518.9 580,519.1 580.3,519.4 580.6,519.7 580.9,520 581.2,520.3 581.5,520.6 581.8,520.9 582.1,521.2 582.4,521.5 582.7,521.7 582.8,521.8 583,521.9 583.3,522.1 583.6,522.3 583.9,522.5 584.2,522.7 584.5,522.9 584.8,523.1 585.1,523.2 585.4,523.4 585.7,523.6 586,523.8 586.3,524 586.6,524.1 586.9,524.3 587.2,524.5 587.5,524.7 587.8,524.8 588.1,525 588.4,525.2 588.7,525.3 589,525.5 589.3,525.6 589.6,525.8 589.9,525.9 590.2,526.1 590.5,526.2 590.8,526.3 591.1,526.5 591.4,526.6 591.7,526.7 592,526.8 592.3,527 592.6,527.1 592.8,527.1 592.9,527.2 593.2,527.3 593.5,527.4 593.8,527.5 594.1,527.6 594.4,527.7 594.7,527.8 595,527.9 595.3,528 595.6,528.1 595.9,528.2 596.2,528.3 596.5,528.4 596.8,528.5 597.1,528.5 597.4,528.6 597.7,528.7 598,528.8 598.3,528.9 598.6,529 598.9,529.1 599.2,529.1 599.5,529.2 599.8,529.3 600.1,529.4 600.4,529.5 600.7,529.5 601,529.6 601.3,529.7 601.6,529.7 601.9,529.8 602.2,529.9 602.5,530 602.8,530 603.1,530.1 603.4,530.2 603.7,530.2 604,530.3 604.3,530.4 604.6,530.4 604.9,530.5 605.2,530.5 605.5,530.6 605.8,530.7 606.1,530.7 606.4,530.8 606.7,530.8 607,530.9 607.3,531 607.6,531 607.8,531 607.9,531.1 608.2,531.1 608.5,531.2 608.8,531.2 609.1,531.3 609.4,531.3 609.7,531.4 610,531.4 610.3,531.5 610.6,531.5 610.9,531.6 611.2,531.6 611.5,531.7 611.8,531.7 612.1,531.8 612.4,531.8 612.7,531.9 613,531.9 613.3,532 613.6,532 613.9,532.1 614.2,532.1 614.5,532.2 614.8,532.2 615.1,532.3 615.4,532.3 615.7,532.3 616,532.4 616.3,532.4 616.6,532.5 616.9,532.5 617.2,532.5 617.5,532.6 617.8,532.6 618.1,532.6 618.4,532.7 618.7,532.7 619,532.7 619.3,532.8 619.6,532.8 619.9,532.8 620.2,532.9 620.5,532.9 620.8,532.9 621.1,533 621.4,533 621.6,533" fill="none" stroke="#6db84b" stroke-width="2.1" stroke-linejoin="round" stroke-linecap="round"/>
<path d="M572.8,545.2 573.1,545.2 573.4,545 573.7,544.7 574,544.1 574.3,543.1 574.6,541.8 574.9,540.7 575.2,539 575.5,535.9 575.8,534.7 576.1,531.3 576.4,528.5 576.7,526.1 577,523.1 577.3,520.9 577.6,516.7 577.9,515.9 578.2,514.1 578.5,512.3 578.8,512.3 579.1,511.2 579.4,510.8 579.7,510.7 580,510.2 580.3,509.4 580.6,507.9 580.9,507.1 581.2,507.8 581.5,506.4 581.8,507.8 582.1,508.3 582.4,508.6 582.7,509.4 583,509.8 583.3,509.7 583.6,508.7 583.9,508.7 584.2,509.2 584.5,509 584.8,508.3 585.1,508.9 585.4,509.5 585.7,509.8 586,510.2 586.3,510.9 586.6,510.9 586.9,512 587.2,511.1 587.5,511 587.8,511.9 588.1,512.9 588.4,512.9 588.7,512.6 589,512.7 589.3,512.4 589.6,512 589.9,512.3 590.2,512.5 590.5,512.4 590.8,512.9 591.1,514.3 591.4,514.6 591.7,513.4 592,513.2 592.3,512.7 592.6,514.3 592.9,514.5 593.2,514.6 593.5,516.5 593.8,517.5 594.1,518.6 594.4,518.1 594.7,518.1 595,518.1 595.3,516.6 595.6,516.1 595.9,516.6 596.2,516 596.5,516.1 596.8,516.3 597.1,517.3 597.4,517.5 597.7,517.2 598,518.7 598.3,519.1 598.6,519.6 598.9,520 599.2,519.9 599.5,519.7 599.8,518.8 600.1,517.3 600.4,516.9 600.7,516.5 601,516.1 601.3,516.5 601.6,516 601.9,517.3 602.2,518.1 602.5,518.1 602.8,519.3 603.1,520.3 603.4,520.5 603.7,522.2 604,521.7 604.3,521.5 604.6,521.7 604.9,520.9 605.2,520.9 605.5,519.3 605.8,520 606.1,520.4 606.4,519.3 606.7,518.7 607,520.6 607.3,520.3 607.6,520.2 607.9,518.8 608.2,519.4 608.5,521.5 608.8,520 609.1,521.1 609.4,521.3 609.7,523.5 610,524.4 610.3,523.3 610.6,524.8 610.9,524.5 611.2,524.9 611.5,523.1 611.8,522.6 612.1,523.2 612.4,523.1 612.7,522.9 613,523.2 613.3,523.9 613.6,525.3 613.9,524.7 614.2,524.5 614.5,524.1 614.8,522.9 615.1,523.5 615.4,523.4 615.7,524.2 616,523.4 616.3,524 616.6,524.3 616.9,524.5 617.2,524.9 617.5,524.4 617.8,525.2 618.1,525.5 618.4,526.7 618.7,527.3 619,527.4 619.3,527.6 619.6,527.9 619.9,528.5 620.2,527.6 620.5,527.6 620.8,525.7 621.1,525.9 621.4,525.9" fill="none" stroke="#5b69b1" stroke-width="2.3" stroke-linejoin="round" stroke-linecap="round"/>
<text x="592.3" y="544.6" font-size="7" fill="#333" text-anchor="middle">n=2287</text>
<text x="576.2" y="556.7" font-size="8.2" fill="#444" text-anchor="end" transform="rotate(-62 576.2 556.7)">TSS</text>
<text x="624.7" y="556.7" font-size="8.2" fill="#444" text-anchor="end" transform="rotate(-62 624.7 556.7)">+10kb</text>
<path d="M633.7,540.3 634,539.7 634.3,539 634.6,538.4 634.9,537.8 635.2,537.2 635.5,536.6 635.8,536.1 636.1,535.5 636.4,535 636.7,534.5 637,533.9 637.3,533.3 637.6,532.7 637.9,532.1 638.2,531.5 638.5,531.1 638.8,530.7 639.1,530.6 639.2,530.6 639.4,530.6 639.7,530.7 640,530.8 640.3,531 640.6,531.2 640.9,531.5 641.2,531.8 641.5,532.1 641.8,532.4 642.1,532.7 642.4,533 642.7,533.3 643,533.5 643.3,533.8 643.6,533.9 643.7,534 643.9,534.1 644.2,534.2 644.5,534.3 644.8,534.4 645.1,534.6 645.4,534.7 645.7,534.8 646,534.9 646.3,535 646.6,535.1 646.9,535.2 647.2,535.3 647.5,535.4 647.8,535.5 648.1,535.6 648.4,535.7 648.7,535.8 649,535.9 649.3,535.9 649.6,536 649.9,536.1 650.2,536.2 650.5,536.2 650.8,536.3 651.1,536.4 651.4,536.4 651.7,536.5 652,536.6 652.3,536.6 652.6,536.7 652.9,536.8 653.2,536.8 653.5,536.9 653.7,536.9 653.8,536.9 654.1,537 654.4,537 654.7,537.1 655,537.1 655.3,537.2 655.6,537.2 655.9,537.3 656.2,537.4 656.5,537.4 656.8,537.5 657.1,537.5 657.4,537.6 657.7,537.6 658,537.6 658.3,537.7 658.6,537.7 658.9,537.8 659.2,537.8 659.5,537.9 659.8,537.9 660.1,538 660.4,538 660.7,538.1 661,538.1 661.3,538.1 661.6,538.2 661.9,538.2 662.2,538.3 662.5,538.3 662.8,538.3 663.1,538.4 663.4,538.4 663.7,538.4 664,538.5 664.3,538.5 664.6,538.5 664.9,538.6 665.2,538.6 665.5,538.6 665.8,538.6 666.1,538.7 666.4,538.7 666.7,538.7 667,538.7 667.3,538.8 667.6,538.8 667.9,538.8 668.2,538.8 668.5,538.8 668.7,538.9 668.8,538.9 669.1,538.9 669.4,538.9 669.7,538.9 670,538.9 670.3,538.9 670.6,539 670.9,539 671.2,539 671.5,539 671.8,539 672.1,539 672.4,539.1 672.7,539.1 673,539.1 673.3,539.1 673.6,539.1 673.9,539.1 674.2,539.1 674.5,539.1 674.8,539.2 675.1,539.2 675.4,539.2 675.7,539.2 676,539.2 676.3,539.2 676.6,539.2 676.9,539.2 677.2,539.3 677.5,539.3 677.8,539.3 678.1,539.3 678.4,539.3 678.7,539.3 679,539.3 679.3,539.3 679.6,539.3 679.9,539.3 680.2,539.3 680.5,539.3 680.8,539.3 681.1,539.3 681.4,539.3 681.7,539.3 682,539.3 682.3,539.3 682.5,539.3" fill="none" stroke="#6db84b" stroke-width="2.1" stroke-linejoin="round" stroke-linecap="round"/>
<path d="M633.7,545.2 634,545.2 634.3,545.1 634.6,544.5 634.9,543.6 635.2,542.6 635.5,540.5 635.8,538.8 636.1,536.7 636.4,535.7 636.7,534.2 637,532 637.3,531.5 637.6,530.1 637.9,529.2 638.2,526.6 638.5,525.1 638.8,523 639.1,521.6 639.4,521 639.7,519.1 640,518.2 640.3,518.3 640.6,518.9 640.9,519 641.2,518.8 641.5,519.9 641.8,521 642.1,520.4 642.4,520.4 642.7,519.9 643,521 643.3,520.9 643.6,520.1 643.9,520.2 644.2,519.9 644.5,520.6 644.8,520.2 645.1,520.4 645.4,521 645.7,520.4 646,522.2 646.3,521.4 646.6,521.4 646.9,521.4 647.2,522.7 647.5,524.3 647.8,524.2 648.1,524 648.4,524.3 648.7,524.7 649,524.3 649.3,524.1 649.6,524.8 649.9,525.4 650.2,525.5 650.5,525.7 650.8,524.5 651.1,523.9 651.4,523.2 651.7,524.1 652,524.1 652.3,524.2 652.6,524 652.9,524.3 653.2,525 653.5,524.2 653.8,524.8 654.1,525.1 654.4,525.4 654.7,526.1 655,525.5 655.3,526.2 655.6,526.2 655.9,525.4 656.2,525.4 656.5,524.5 656.8,524 657.1,523.9 657.4,524.3 657.7,525.5 658,525.7 658.3,525.8 658.6,526.5 658.9,526.4 659.2,525.3 659.5,524.5 659.8,525.1 660.1,525.4 660.4,526.1 660.7,525.4 661,525.6 661.3,525.9 661.6,525.6 661.9,525.7 662.2,524.7 662.5,525.4 662.8,525.8 663.1,525.7 663.4,525.9 663.7,525.6 664,525.6 664.3,525.2 664.6,525.7 664.9,526.1 665.2,526.8 665.5,526.5 665.8,526.8 666.1,527.6 666.4,527.7 666.7,527 667,526 667.3,527.4 667.6,527.5 667.9,527.1 668.2,526.9 668.5,526.4 668.8,526.9 669.1,526.7 669.4,526.7 669.7,526.8 670,525.9 670.3,526.9 670.6,527.3 670.9,527.2 671.2,527.3 671.5,527.5 671.8,528.5 672.1,529.1 672.4,528.8 672.7,528.7 673,528.2 673.3,527.5 673.6,527.8 673.9,528.4 674.2,528.7 674.5,530 674.8,530.4 675.1,531.3 675.4,530.1 675.7,529.6 676,529.6 676.3,529.1 676.6,529.6 676.9,529.5 677.2,532 677.5,532.2 677.8,532.2 678.1,531.7 678.4,532.5 678.7,532.9 679,531.3 679.3,531.2 679.6,531.6 679.9,530.7 680.2,530.1 680.5,530 680.8,529.7 681.1,529.8 681.4,529.3 681.7,530.4 682,530.4 682.3,530.6" fill="none" stroke="#5b69b1" stroke-width="2.3" stroke-linejoin="round" stroke-linecap="round"/>
<text x="653.2" y="544.6" font-size="7" fill="#333" text-anchor="middle">n=2002</text>
<text x="637.1" y="556.7" font-size="8.2" fill="#444" text-anchor="end" transform="rotate(-62 637.1 556.7)">TSS</text>
<text x="685.9" y="556.7" font-size="8.2" fill="#444" text-anchor="end" transform="rotate(-62 685.9 556.7)">+10kb</text>
<text x="485" y="520.8" font-size="9.6" fill="#1c1c1c" text-anchor="middle" transform="rotate(-90 485 520.8)">Relative signal</text>
<line x1="489.6" y1="587.4" x2="497.8" y2="587.4" stroke="#5b69b1" stroke-width="2.2"/>
<text x="500.5" y="590.4" font-size="8.4" fill="#1c1c1c">Δ Elongation velocity (KO-WT)</text>
<line x1="627.9" y1="587.4" x2="637.2" y2="587.4" stroke="#6db84b" stroke-width="2.2"/>
<text x="639.6" y="590.4" font-size="8.4" fill="#1c1c1c">H3K79me3</text>
</svg></body></html>
